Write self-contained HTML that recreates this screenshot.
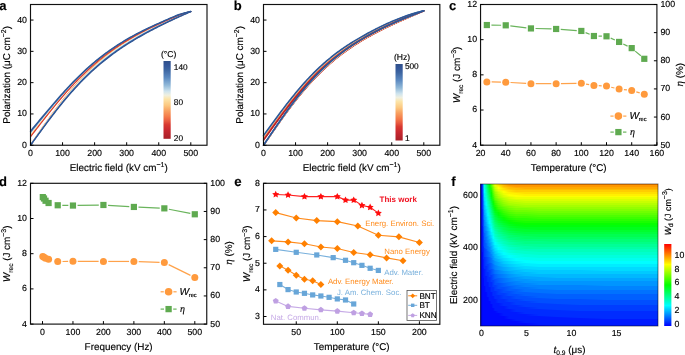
<!DOCTYPE html><html><head><meta charset="utf-8"><style>html,body{margin:0;padding:0;background:#fff;overflow:hidden}svg{display:block;font-family:"Liberation Sans",sans-serif;will-change:transform}</style></head><body><svg width="685" height="355" viewBox="0 0 685 355" font-family="Liberation Sans, sans-serif" text-rendering="geometricPrecision"><style>text{stroke-width:0.15px}</style><defs><linearGradient id="cbA" x1="0" y1="1" x2="0" y2="0"><stop offset="0" stop-color="#a82028"/><stop offset="0.11" stop-color="#c82830"/><stop offset="0.18" stop-color="#d83830"/><stop offset="0.23" stop-color="#e85a40"/><stop offset="0.28" stop-color="#f47848"/><stop offset="0.36" stop-color="#f8a060"/><stop offset="0.43" stop-color="#fcc880"/><stop offset="0.51" stop-color="#fce4a8"/><stop offset="0.56" stop-color="#f0f0e0"/><stop offset="0.61" stop-color="#cfe4ee"/><stop offset="0.69" stop-color="#90b8d8"/><stop offset="0.79" stop-color="#5a88c0"/><stop offset="0.89" stop-color="#3c64a0"/><stop offset="0.94" stop-color="#34579a"/><stop offset="1" stop-color="#2f4f8a"/></linearGradient><linearGradient id="r0" gradientUnits="userSpaceOnUse" x1="480.8" y1="0" x2="658.3" y2="0"><stop offset="0" stop-color="#0009ff"/><stop offset="0" stop-color="#002cff"/><stop offset="0.01" stop-color="#004fff"/><stop offset="0.01" stop-color="#0095ff"/><stop offset="0.02" stop-color="#00caff"/><stop offset="0.02" stop-color="#00ffdd"/><stop offset="0.03" stop-color="#00ff97"/><stop offset="0.04" stop-color="#00ff3f"/><stop offset="0.05" stop-color="#07ff00"/><stop offset="0.06" stop-color="#5fff00"/><stop offset="0.07" stop-color="#a5ff00"/><stop offset="0.08" stop-color="#ebff00"/><stop offset="0.1" stop-color="#ffdf00"/><stop offset="0.13" stop-color="#ffaa00"/><stop offset="0.16" stop-color="#ff9800"/><stop offset="0.2" stop-color="#ff8700"/><stop offset="0.25" stop-color="#ff8700"/><stop offset="0.33" stop-color="#ff8700"/><stop offset="0.43" stop-color="#ff8700"/><stop offset="0.56" stop-color="#ff8700"/><stop offset="0.71" stop-color="#ff8700"/><stop offset="1" stop-color="#ff8700"/></linearGradient><linearGradient id="r1" gradientUnits="userSpaceOnUse" x1="480.8" y1="0" x2="658.3" y2="0"><stop offset="0" stop-color="#0009ff"/><stop offset="0" stop-color="#002cff"/><stop offset="0.01" stop-color="#004fff"/><stop offset="0.01" stop-color="#0095ff"/><stop offset="0.02" stop-color="#00caff"/><stop offset="0.02" stop-color="#00ffee"/><stop offset="0.03" stop-color="#00ff97"/><stop offset="0.04" stop-color="#00ff51"/><stop offset="0.05" stop-color="#00ff0b"/><stop offset="0.06" stop-color="#4dff00"/><stop offset="0.07" stop-color="#a5ff00"/><stop offset="0.08" stop-color="#ebff00"/><stop offset="0.1" stop-color="#ffdf00"/><stop offset="0.13" stop-color="#ffbc00"/><stop offset="0.16" stop-color="#ff9800"/><stop offset="0.2" stop-color="#ff9800"/><stop offset="0.25" stop-color="#ff9800"/><stop offset="0.33" stop-color="#ff9800"/><stop offset="0.43" stop-color="#ff9800"/><stop offset="0.56" stop-color="#ff9800"/><stop offset="0.71" stop-color="#ff9800"/><stop offset="1" stop-color="#ff9800"/></linearGradient><linearGradient id="r2" gradientUnits="userSpaceOnUse" x1="480.8" y1="0" x2="658.3" y2="0"><stop offset="0" stop-color="#0009ff"/><stop offset="0" stop-color="#002cff"/><stop offset="0.01" stop-color="#004fff"/><stop offset="0.01" stop-color="#0083ff"/><stop offset="0.02" stop-color="#00caff"/><stop offset="0.02" stop-color="#00ffee"/><stop offset="0.03" stop-color="#00ffa8"/><stop offset="0.04" stop-color="#00ff51"/><stop offset="0.05" stop-color="#00ff0b"/><stop offset="0.06" stop-color="#4dff00"/><stop offset="0.07" stop-color="#93ff00"/><stop offset="0.08" stop-color="#d9ff00"/><stop offset="0.1" stop-color="#fff000"/><stop offset="0.13" stop-color="#ffbc00"/><stop offset="0.16" stop-color="#ffaa00"/><stop offset="0.2" stop-color="#ff9800"/><stop offset="0.25" stop-color="#ff9800"/><stop offset="0.33" stop-color="#ff9800"/><stop offset="0.43" stop-color="#ff9800"/><stop offset="0.56" stop-color="#ff9800"/><stop offset="0.71" stop-color="#ff9800"/><stop offset="1" stop-color="#ff9800"/></linearGradient><linearGradient id="r3" gradientUnits="userSpaceOnUse" x1="480.8" y1="0" x2="658.3" y2="0"><stop offset="0" stop-color="#0009ff"/><stop offset="0" stop-color="#001aff"/><stop offset="0.01" stop-color="#004fff"/><stop offset="0.01" stop-color="#0083ff"/><stop offset="0.02" stop-color="#00caff"/><stop offset="0.02" stop-color="#00ffee"/><stop offset="0.03" stop-color="#00ffa8"/><stop offset="0.04" stop-color="#00ff51"/><stop offset="0.05" stop-color="#00ff0b"/><stop offset="0.06" stop-color="#3cff00"/><stop offset="0.07" stop-color="#82ff00"/><stop offset="0.08" stop-color="#c8ff00"/><stop offset="0.1" stop-color="#fcff00"/><stop offset="0.13" stop-color="#ffcd00"/><stop offset="0.16" stop-color="#ffbc00"/><stop offset="0.2" stop-color="#ffaa00"/><stop offset="0.25" stop-color="#ffaa00"/><stop offset="0.33" stop-color="#ffaa00"/><stop offset="0.43" stop-color="#ffaa00"/><stop offset="0.56" stop-color="#ffaa00"/><stop offset="0.71" stop-color="#ffaa00"/><stop offset="1" stop-color="#ffaa00"/></linearGradient><linearGradient id="r4" gradientUnits="userSpaceOnUse" x1="480.8" y1="0" x2="658.3" y2="0"><stop offset="0" stop-color="#0009ff"/><stop offset="0" stop-color="#001aff"/><stop offset="0.01" stop-color="#004fff"/><stop offset="0.01" stop-color="#0083ff"/><stop offset="0.02" stop-color="#00caff"/><stop offset="0.02" stop-color="#00ffee"/><stop offset="0.03" stop-color="#00ffa8"/><stop offset="0.04" stop-color="#00ff62"/><stop offset="0.05" stop-color="#00ff1c"/><stop offset="0.06" stop-color="#2aff00"/><stop offset="0.07" stop-color="#82ff00"/><stop offset="0.08" stop-color="#c8ff00"/><stop offset="0.1" stop-color="#fcff00"/><stop offset="0.13" stop-color="#ffdf00"/><stop offset="0.16" stop-color="#ffbc00"/><stop offset="0.2" stop-color="#ffbc00"/><stop offset="0.25" stop-color="#ffaa00"/><stop offset="0.33" stop-color="#ffaa00"/><stop offset="0.43" stop-color="#ffaa00"/><stop offset="0.56" stop-color="#ffaa00"/><stop offset="0.71" stop-color="#ffaa00"/><stop offset="1" stop-color="#ffaa00"/></linearGradient><linearGradient id="r5" gradientUnits="userSpaceOnUse" x1="480.8" y1="0" x2="658.3" y2="0"><stop offset="0" stop-color="#0009ff"/><stop offset="0" stop-color="#001aff"/><stop offset="0.01" stop-color="#004fff"/><stop offset="0.01" stop-color="#0083ff"/><stop offset="0.02" stop-color="#00b8ff"/><stop offset="0.02" stop-color="#00feff"/><stop offset="0.03" stop-color="#00ffba"/><stop offset="0.04" stop-color="#00ff62"/><stop offset="0.05" stop-color="#00ff1c"/><stop offset="0.06" stop-color="#2aff00"/><stop offset="0.07" stop-color="#70ff00"/><stop offset="0.08" stop-color="#b6ff00"/><stop offset="0.1" stop-color="#ebff00"/><stop offset="0.13" stop-color="#ffdf00"/><stop offset="0.16" stop-color="#ffcd00"/><stop offset="0.2" stop-color="#ffbc00"/><stop offset="0.25" stop-color="#ffbc00"/><stop offset="0.33" stop-color="#ffbc00"/><stop offset="0.43" stop-color="#ffbc00"/><stop offset="0.56" stop-color="#ffbc00"/><stop offset="0.71" stop-color="#ffbc00"/><stop offset="1" stop-color="#ffbc00"/></linearGradient><linearGradient id="r6" gradientUnits="userSpaceOnUse" x1="480.8" y1="0" x2="658.3" y2="0"><stop offset="0" stop-color="#0009ff"/><stop offset="0" stop-color="#001aff"/><stop offset="0.01" stop-color="#004fff"/><stop offset="0.01" stop-color="#0083ff"/><stop offset="0.02" stop-color="#00b8ff"/><stop offset="0.02" stop-color="#00feff"/><stop offset="0.03" stop-color="#00ffba"/><stop offset="0.04" stop-color="#00ff74"/><stop offset="0.05" stop-color="#00ff2e"/><stop offset="0.06" stop-color="#19ff00"/><stop offset="0.07" stop-color="#70ff00"/><stop offset="0.08" stop-color="#b6ff00"/><stop offset="0.1" stop-color="#ebff00"/><stop offset="0.13" stop-color="#fff000"/><stop offset="0.16" stop-color="#ffdf00"/><stop offset="0.2" stop-color="#ffcd00"/><stop offset="0.25" stop-color="#ffcd00"/><stop offset="0.33" stop-color="#ffcd00"/><stop offset="0.43" stop-color="#ffcd00"/><stop offset="0.56" stop-color="#ffcd00"/><stop offset="0.71" stop-color="#ffcd00"/><stop offset="1" stop-color="#ffcd00"/></linearGradient><linearGradient id="r7" gradientUnits="userSpaceOnUse" x1="480.8" y1="0" x2="658.3" y2="0"><stop offset="0" stop-color="#0009ff"/><stop offset="0" stop-color="#001aff"/><stop offset="0.01" stop-color="#004fff"/><stop offset="0.01" stop-color="#0083ff"/><stop offset="0.02" stop-color="#00b8ff"/><stop offset="0.02" stop-color="#00feff"/><stop offset="0.03" stop-color="#00ffba"/><stop offset="0.04" stop-color="#00ff74"/><stop offset="0.05" stop-color="#00ff2e"/><stop offset="0.06" stop-color="#19ff00"/><stop offset="0.07" stop-color="#5fff00"/><stop offset="0.08" stop-color="#a5ff00"/><stop offset="0.1" stop-color="#d9ff00"/><stop offset="0.13" stop-color="#fcff00"/><stop offset="0.16" stop-color="#ffdf00"/><stop offset="0.2" stop-color="#ffcd00"/><stop offset="0.25" stop-color="#ffcd00"/><stop offset="0.33" stop-color="#ffcd00"/><stop offset="0.43" stop-color="#ffcd00"/><stop offset="0.56" stop-color="#ffcd00"/><stop offset="0.71" stop-color="#ffcd00"/><stop offset="1" stop-color="#ffcd00"/></linearGradient><linearGradient id="r8" gradientUnits="userSpaceOnUse" x1="480.8" y1="0" x2="658.3" y2="0"><stop offset="0" stop-color="#0009ff"/><stop offset="0" stop-color="#001aff"/><stop offset="0.01" stop-color="#004fff"/><stop offset="0.01" stop-color="#0083ff"/><stop offset="0.02" stop-color="#00b8ff"/><stop offset="0.02" stop-color="#00feff"/><stop offset="0.03" stop-color="#00ffcb"/><stop offset="0.04" stop-color="#00ff74"/><stop offset="0.05" stop-color="#00ff3f"/><stop offset="0.06" stop-color="#07ff00"/><stop offset="0.07" stop-color="#5fff00"/><stop offset="0.08" stop-color="#93ff00"/><stop offset="0.1" stop-color="#c8ff00"/><stop offset="0.13" stop-color="#fcff00"/><stop offset="0.16" stop-color="#fff000"/><stop offset="0.2" stop-color="#ffdf00"/><stop offset="0.25" stop-color="#ffdf00"/><stop offset="0.33" stop-color="#ffdf00"/><stop offset="0.43" stop-color="#ffdf00"/><stop offset="0.56" stop-color="#ffdf00"/><stop offset="0.71" stop-color="#ffdf00"/><stop offset="1" stop-color="#ffdf00"/></linearGradient><linearGradient id="r9" gradientUnits="userSpaceOnUse" x1="480.8" y1="0" x2="658.3" y2="0"><stop offset="0" stop-color="#0009ff"/><stop offset="0" stop-color="#001aff"/><stop offset="0.01" stop-color="#004fff"/><stop offset="0.01" stop-color="#0072ff"/><stop offset="0.02" stop-color="#00b8ff"/><stop offset="0.02" stop-color="#00edff"/><stop offset="0.03" stop-color="#00ffcb"/><stop offset="0.04" stop-color="#00ff85"/><stop offset="0.05" stop-color="#00ff3f"/><stop offset="0.06" stop-color="#07ff00"/><stop offset="0.07" stop-color="#4dff00"/><stop offset="0.08" stop-color="#93ff00"/><stop offset="0.1" stop-color="#c8ff00"/><stop offset="0.13" stop-color="#ebff00"/><stop offset="0.16" stop-color="#fff000"/><stop offset="0.2" stop-color="#fff000"/><stop offset="0.25" stop-color="#ffdf00"/><stop offset="0.33" stop-color="#ffdf00"/><stop offset="0.43" stop-color="#ffdf00"/><stop offset="0.56" stop-color="#ffdf00"/><stop offset="0.71" stop-color="#ffdf00"/><stop offset="1" stop-color="#ffdf00"/></linearGradient><linearGradient id="r10" gradientUnits="userSpaceOnUse" x1="480.8" y1="0" x2="658.3" y2="0"><stop offset="0" stop-color="#0009ff"/><stop offset="0" stop-color="#001aff"/><stop offset="0.01" stop-color="#004fff"/><stop offset="0.01" stop-color="#0072ff"/><stop offset="0.02" stop-color="#00a6ff"/><stop offset="0.02" stop-color="#00edff"/><stop offset="0.03" stop-color="#00ffcb"/><stop offset="0.04" stop-color="#00ff85"/><stop offset="0.05" stop-color="#00ff51"/><stop offset="0.06" stop-color="#00ff0b"/><stop offset="0.07" stop-color="#4dff00"/><stop offset="0.08" stop-color="#82ff00"/><stop offset="0.1" stop-color="#b6ff00"/><stop offset="0.13" stop-color="#ebff00"/><stop offset="0.16" stop-color="#fcff00"/><stop offset="0.2" stop-color="#fff000"/><stop offset="0.25" stop-color="#fff000"/><stop offset="0.33" stop-color="#fff000"/><stop offset="0.43" stop-color="#fff000"/><stop offset="0.56" stop-color="#fff000"/><stop offset="0.71" stop-color="#fff000"/><stop offset="1" stop-color="#fff000"/></linearGradient><linearGradient id="r11" gradientUnits="userSpaceOnUse" x1="480.8" y1="0" x2="658.3" y2="0"><stop offset="0" stop-color="#0009ff"/><stop offset="0" stop-color="#001aff"/><stop offset="0.01" stop-color="#003dff"/><stop offset="0.01" stop-color="#0072ff"/><stop offset="0.02" stop-color="#00a6ff"/><stop offset="0.02" stop-color="#00edff"/><stop offset="0.03" stop-color="#00ffcb"/><stop offset="0.04" stop-color="#00ff97"/><stop offset="0.05" stop-color="#00ff51"/><stop offset="0.06" stop-color="#00ff0b"/><stop offset="0.07" stop-color="#3cff00"/><stop offset="0.08" stop-color="#82ff00"/><stop offset="0.1" stop-color="#b6ff00"/><stop offset="0.13" stop-color="#d9ff00"/><stop offset="0.16" stop-color="#fcff00"/><stop offset="0.2" stop-color="#fcff00"/><stop offset="0.25" stop-color="#fff000"/><stop offset="0.33" stop-color="#fff000"/><stop offset="0.43" stop-color="#fff000"/><stop offset="0.56" stop-color="#fff000"/><stop offset="0.71" stop-color="#fff000"/><stop offset="1" stop-color="#fff000"/></linearGradient><linearGradient id="r12" gradientUnits="userSpaceOnUse" x1="480.8" y1="0" x2="658.3" y2="0"><stop offset="0" stop-color="#0009ff"/><stop offset="0" stop-color="#001aff"/><stop offset="0.01" stop-color="#003dff"/><stop offset="0.01" stop-color="#0072ff"/><stop offset="0.02" stop-color="#00a6ff"/><stop offset="0.02" stop-color="#00edff"/><stop offset="0.03" stop-color="#00ffdd"/><stop offset="0.04" stop-color="#00ff97"/><stop offset="0.05" stop-color="#00ff51"/><stop offset="0.06" stop-color="#00ff0b"/><stop offset="0.07" stop-color="#3cff00"/><stop offset="0.08" stop-color="#70ff00"/><stop offset="0.1" stop-color="#a5ff00"/><stop offset="0.13" stop-color="#d9ff00"/><stop offset="0.16" stop-color="#ebff00"/><stop offset="0.2" stop-color="#fcff00"/><stop offset="0.25" stop-color="#fcff00"/><stop offset="0.33" stop-color="#fcff00"/><stop offset="0.43" stop-color="#fcff00"/><stop offset="0.56" stop-color="#fcff00"/><stop offset="0.71" stop-color="#fcff00"/><stop offset="1" stop-color="#fcff00"/></linearGradient><linearGradient id="r13" gradientUnits="userSpaceOnUse" x1="480.8" y1="0" x2="658.3" y2="0"><stop offset="0" stop-color="#0009ff"/><stop offset="0" stop-color="#001aff"/><stop offset="0.01" stop-color="#003dff"/><stop offset="0.01" stop-color="#0072ff"/><stop offset="0.02" stop-color="#00a6ff"/><stop offset="0.02" stop-color="#00dbff"/><stop offset="0.03" stop-color="#00ffdd"/><stop offset="0.04" stop-color="#00ff97"/><stop offset="0.05" stop-color="#00ff62"/><stop offset="0.06" stop-color="#00ff1c"/><stop offset="0.07" stop-color="#2aff00"/><stop offset="0.08" stop-color="#70ff00"/><stop offset="0.1" stop-color="#a5ff00"/><stop offset="0.13" stop-color="#c8ff00"/><stop offset="0.16" stop-color="#d9ff00"/><stop offset="0.2" stop-color="#ebff00"/><stop offset="0.25" stop-color="#ebff00"/><stop offset="0.33" stop-color="#ebff00"/><stop offset="0.43" stop-color="#ebff00"/><stop offset="0.56" stop-color="#ebff00"/><stop offset="0.71" stop-color="#ebff00"/><stop offset="1" stop-color="#ebff00"/></linearGradient><linearGradient id="r14" gradientUnits="userSpaceOnUse" x1="480.8" y1="0" x2="658.3" y2="0"><stop offset="0" stop-color="#0009ff"/><stop offset="0" stop-color="#001aff"/><stop offset="0.01" stop-color="#003dff"/><stop offset="0.01" stop-color="#0072ff"/><stop offset="0.02" stop-color="#00a6ff"/><stop offset="0.02" stop-color="#00dbff"/><stop offset="0.03" stop-color="#00ffdd"/><stop offset="0.04" stop-color="#00ffa8"/><stop offset="0.05" stop-color="#00ff62"/><stop offset="0.06" stop-color="#00ff1c"/><stop offset="0.07" stop-color="#2aff00"/><stop offset="0.08" stop-color="#5fff00"/><stop offset="0.1" stop-color="#93ff00"/><stop offset="0.13" stop-color="#b6ff00"/><stop offset="0.16" stop-color="#d9ff00"/><stop offset="0.2" stop-color="#ebff00"/><stop offset="0.25" stop-color="#ebff00"/><stop offset="0.33" stop-color="#ebff00"/><stop offset="0.43" stop-color="#ebff00"/><stop offset="0.56" stop-color="#ebff00"/><stop offset="0.71" stop-color="#ebff00"/><stop offset="1" stop-color="#ebff00"/></linearGradient><linearGradient id="r15" gradientUnits="userSpaceOnUse" x1="480.8" y1="0" x2="658.3" y2="0"><stop offset="0" stop-color="#0009ff"/><stop offset="0" stop-color="#001aff"/><stop offset="0.01" stop-color="#003dff"/><stop offset="0.01" stop-color="#0072ff"/><stop offset="0.02" stop-color="#0095ff"/><stop offset="0.02" stop-color="#00dbff"/><stop offset="0.03" stop-color="#00ffee"/><stop offset="0.04" stop-color="#00ffa8"/><stop offset="0.05" stop-color="#00ff74"/><stop offset="0.06" stop-color="#00ff2e"/><stop offset="0.07" stop-color="#19ff00"/><stop offset="0.08" stop-color="#5fff00"/><stop offset="0.1" stop-color="#82ff00"/><stop offset="0.13" stop-color="#b6ff00"/><stop offset="0.16" stop-color="#c8ff00"/><stop offset="0.2" stop-color="#d9ff00"/><stop offset="0.25" stop-color="#d9ff00"/><stop offset="0.33" stop-color="#d9ff00"/><stop offset="0.43" stop-color="#d9ff00"/><stop offset="0.56" stop-color="#d9ff00"/><stop offset="0.71" stop-color="#d9ff00"/><stop offset="1" stop-color="#d9ff00"/></linearGradient><linearGradient id="r16" gradientUnits="userSpaceOnUse" x1="480.8" y1="0" x2="658.3" y2="0"><stop offset="0" stop-color="#0009ff"/><stop offset="0" stop-color="#001aff"/><stop offset="0.01" stop-color="#003dff"/><stop offset="0.01" stop-color="#0072ff"/><stop offset="0.02" stop-color="#0095ff"/><stop offset="0.02" stop-color="#00dbff"/><stop offset="0.03" stop-color="#00ffee"/><stop offset="0.04" stop-color="#00ffa8"/><stop offset="0.05" stop-color="#00ff74"/><stop offset="0.06" stop-color="#00ff2e"/><stop offset="0.07" stop-color="#19ff00"/><stop offset="0.08" stop-color="#4dff00"/><stop offset="0.1" stop-color="#82ff00"/><stop offset="0.13" stop-color="#a5ff00"/><stop offset="0.16" stop-color="#c8ff00"/><stop offset="0.2" stop-color="#c8ff00"/><stop offset="0.25" stop-color="#d9ff00"/><stop offset="0.33" stop-color="#d9ff00"/><stop offset="0.43" stop-color="#d9ff00"/><stop offset="0.56" stop-color="#d9ff00"/><stop offset="0.71" stop-color="#d9ff00"/><stop offset="1" stop-color="#d9ff00"/></linearGradient><linearGradient id="r17" gradientUnits="userSpaceOnUse" x1="480.8" y1="0" x2="658.3" y2="0"><stop offset="0" stop-color="#0009ff"/><stop offset="0" stop-color="#001aff"/><stop offset="0.01" stop-color="#003dff"/><stop offset="0.01" stop-color="#0060ff"/><stop offset="0.02" stop-color="#0095ff"/><stop offset="0.02" stop-color="#00caff"/><stop offset="0.03" stop-color="#00ffee"/><stop offset="0.04" stop-color="#00ffba"/><stop offset="0.05" stop-color="#00ff85"/><stop offset="0.06" stop-color="#00ff3f"/><stop offset="0.07" stop-color="#07ff00"/><stop offset="0.08" stop-color="#3cff00"/><stop offset="0.1" stop-color="#70ff00"/><stop offset="0.13" stop-color="#a5ff00"/><stop offset="0.16" stop-color="#b6ff00"/><stop offset="0.2" stop-color="#c8ff00"/><stop offset="0.25" stop-color="#c8ff00"/><stop offset="0.33" stop-color="#c8ff00"/><stop offset="0.43" stop-color="#c8ff00"/><stop offset="0.56" stop-color="#c8ff00"/><stop offset="0.71" stop-color="#c8ff00"/><stop offset="1" stop-color="#c8ff00"/></linearGradient><linearGradient id="r18" gradientUnits="userSpaceOnUse" x1="480.8" y1="0" x2="658.3" y2="0"><stop offset="0" stop-color="#0009ff"/><stop offset="0" stop-color="#001aff"/><stop offset="0.01" stop-color="#003dff"/><stop offset="0.01" stop-color="#0060ff"/><stop offset="0.02" stop-color="#0095ff"/><stop offset="0.02" stop-color="#00caff"/><stop offset="0.03" stop-color="#00feff"/><stop offset="0.04" stop-color="#00ffba"/><stop offset="0.05" stop-color="#00ff85"/><stop offset="0.06" stop-color="#00ff3f"/><stop offset="0.07" stop-color="#07ff00"/><stop offset="0.08" stop-color="#3cff00"/><stop offset="0.1" stop-color="#70ff00"/><stop offset="0.13" stop-color="#93ff00"/><stop offset="0.16" stop-color="#b6ff00"/><stop offset="0.2" stop-color="#b6ff00"/><stop offset="0.25" stop-color="#c8ff00"/><stop offset="0.33" stop-color="#c8ff00"/><stop offset="0.43" stop-color="#c8ff00"/><stop offset="0.56" stop-color="#c8ff00"/><stop offset="0.71" stop-color="#c8ff00"/><stop offset="1" stop-color="#c8ff00"/></linearGradient><linearGradient id="r19" gradientUnits="userSpaceOnUse" x1="480.8" y1="0" x2="658.3" y2="0"><stop offset="0" stop-color="#0009ff"/><stop offset="0" stop-color="#001aff"/><stop offset="0.01" stop-color="#003dff"/><stop offset="0.01" stop-color="#0060ff"/><stop offset="0.02" stop-color="#0095ff"/><stop offset="0.02" stop-color="#00caff"/><stop offset="0.03" stop-color="#00feff"/><stop offset="0.04" stop-color="#00ffba"/><stop offset="0.05" stop-color="#00ff85"/><stop offset="0.06" stop-color="#00ff51"/><stop offset="0.07" stop-color="#00ff0b"/><stop offset="0.08" stop-color="#2aff00"/><stop offset="0.1" stop-color="#5fff00"/><stop offset="0.13" stop-color="#93ff00"/><stop offset="0.16" stop-color="#a5ff00"/><stop offset="0.2" stop-color="#b6ff00"/><stop offset="0.25" stop-color="#b6ff00"/><stop offset="0.33" stop-color="#b6ff00"/><stop offset="0.43" stop-color="#b6ff00"/><stop offset="0.56" stop-color="#b6ff00"/><stop offset="0.71" stop-color="#b6ff00"/><stop offset="1" stop-color="#b6ff00"/></linearGradient><linearGradient id="r20" gradientUnits="userSpaceOnUse" x1="480.8" y1="0" x2="658.3" y2="0"><stop offset="0" stop-color="#0009ff"/><stop offset="0" stop-color="#001aff"/><stop offset="0.01" stop-color="#003dff"/><stop offset="0.01" stop-color="#0060ff"/><stop offset="0.02" stop-color="#0095ff"/><stop offset="0.02" stop-color="#00caff"/><stop offset="0.03" stop-color="#00feff"/><stop offset="0.04" stop-color="#00ffcb"/><stop offset="0.05" stop-color="#00ff97"/><stop offset="0.06" stop-color="#00ff51"/><stop offset="0.07" stop-color="#00ff0b"/><stop offset="0.08" stop-color="#2aff00"/><stop offset="0.1" stop-color="#5fff00"/><stop offset="0.13" stop-color="#82ff00"/><stop offset="0.16" stop-color="#a5ff00"/><stop offset="0.2" stop-color="#a5ff00"/><stop offset="0.25" stop-color="#b6ff00"/><stop offset="0.33" stop-color="#b6ff00"/><stop offset="0.43" stop-color="#b6ff00"/><stop offset="0.56" stop-color="#b6ff00"/><stop offset="0.71" stop-color="#b6ff00"/><stop offset="1" stop-color="#b6ff00"/></linearGradient><linearGradient id="r21" gradientUnits="userSpaceOnUse" x1="480.8" y1="0" x2="658.3" y2="0"><stop offset="0" stop-color="#0009ff"/><stop offset="0" stop-color="#001aff"/><stop offset="0.01" stop-color="#003dff"/><stop offset="0.01" stop-color="#0060ff"/><stop offset="0.02" stop-color="#0083ff"/><stop offset="0.02" stop-color="#00b8ff"/><stop offset="0.03" stop-color="#00feff"/><stop offset="0.04" stop-color="#00ffcb"/><stop offset="0.05" stop-color="#00ff97"/><stop offset="0.06" stop-color="#00ff62"/><stop offset="0.07" stop-color="#00ff1c"/><stop offset="0.08" stop-color="#19ff00"/><stop offset="0.1" stop-color="#4dff00"/><stop offset="0.13" stop-color="#82ff00"/><stop offset="0.16" stop-color="#93ff00"/><stop offset="0.2" stop-color="#a5ff00"/><stop offset="0.25" stop-color="#a5ff00"/><stop offset="0.33" stop-color="#a5ff00"/><stop offset="0.43" stop-color="#a5ff00"/><stop offset="0.56" stop-color="#a5ff00"/><stop offset="0.71" stop-color="#a5ff00"/><stop offset="1" stop-color="#a5ff00"/></linearGradient><linearGradient id="r22" gradientUnits="userSpaceOnUse" x1="480.8" y1="0" x2="658.3" y2="0"><stop offset="0" stop-color="#0009ff"/><stop offset="0" stop-color="#001aff"/><stop offset="0.01" stop-color="#003dff"/><stop offset="0.01" stop-color="#0060ff"/><stop offset="0.02" stop-color="#0083ff"/><stop offset="0.02" stop-color="#00b8ff"/><stop offset="0.03" stop-color="#00edff"/><stop offset="0.04" stop-color="#00ffcb"/><stop offset="0.05" stop-color="#00ff97"/><stop offset="0.06" stop-color="#00ff62"/><stop offset="0.07" stop-color="#00ff1c"/><stop offset="0.08" stop-color="#19ff00"/><stop offset="0.1" stop-color="#4dff00"/><stop offset="0.13" stop-color="#70ff00"/><stop offset="0.16" stop-color="#82ff00"/><stop offset="0.2" stop-color="#93ff00"/><stop offset="0.25" stop-color="#a5ff00"/><stop offset="0.33" stop-color="#a5ff00"/><stop offset="0.43" stop-color="#a5ff00"/><stop offset="0.56" stop-color="#a5ff00"/><stop offset="0.71" stop-color="#a5ff00"/><stop offset="1" stop-color="#a5ff00"/></linearGradient><linearGradient id="r23" gradientUnits="userSpaceOnUse" x1="480.8" y1="0" x2="658.3" y2="0"><stop offset="0" stop-color="#0009ff"/><stop offset="0" stop-color="#001aff"/><stop offset="0.01" stop-color="#003dff"/><stop offset="0.01" stop-color="#0060ff"/><stop offset="0.02" stop-color="#0083ff"/><stop offset="0.02" stop-color="#00b8ff"/><stop offset="0.03" stop-color="#00edff"/><stop offset="0.04" stop-color="#00ffdd"/><stop offset="0.05" stop-color="#00ffa8"/><stop offset="0.06" stop-color="#00ff62"/><stop offset="0.07" stop-color="#00ff2e"/><stop offset="0.08" stop-color="#07ff00"/><stop offset="0.1" stop-color="#3cff00"/><stop offset="0.13" stop-color="#5fff00"/><stop offset="0.16" stop-color="#82ff00"/><stop offset="0.2" stop-color="#93ff00"/><stop offset="0.25" stop-color="#93ff00"/><stop offset="0.33" stop-color="#93ff00"/><stop offset="0.43" stop-color="#93ff00"/><stop offset="0.56" stop-color="#93ff00"/><stop offset="0.71" stop-color="#93ff00"/><stop offset="1" stop-color="#93ff00"/></linearGradient><linearGradient id="r24" gradientUnits="userSpaceOnUse" x1="480.8" y1="0" x2="658.3" y2="0"><stop offset="0" stop-color="#0009ff"/><stop offset="0" stop-color="#001aff"/><stop offset="0.01" stop-color="#003dff"/><stop offset="0.01" stop-color="#0060ff"/><stop offset="0.02" stop-color="#0083ff"/><stop offset="0.02" stop-color="#00b8ff"/><stop offset="0.03" stop-color="#00edff"/><stop offset="0.04" stop-color="#00ffdd"/><stop offset="0.05" stop-color="#00ffa8"/><stop offset="0.06" stop-color="#00ff74"/><stop offset="0.07" stop-color="#00ff2e"/><stop offset="0.08" stop-color="#07ff00"/><stop offset="0.1" stop-color="#3cff00"/><stop offset="0.13" stop-color="#5fff00"/><stop offset="0.16" stop-color="#70ff00"/><stop offset="0.2" stop-color="#82ff00"/><stop offset="0.25" stop-color="#82ff00"/><stop offset="0.33" stop-color="#93ff00"/><stop offset="0.43" stop-color="#93ff00"/><stop offset="0.56" stop-color="#93ff00"/><stop offset="0.71" stop-color="#93ff00"/><stop offset="1" stop-color="#93ff00"/></linearGradient><linearGradient id="r25" gradientUnits="userSpaceOnUse" x1="480.8" y1="0" x2="658.3" y2="0"><stop offset="0" stop-color="#0009ff"/><stop offset="0" stop-color="#001aff"/><stop offset="0.01" stop-color="#002cff"/><stop offset="0.01" stop-color="#004fff"/><stop offset="0.02" stop-color="#0083ff"/><stop offset="0.02" stop-color="#00b8ff"/><stop offset="0.03" stop-color="#00dbff"/><stop offset="0.04" stop-color="#00ffdd"/><stop offset="0.05" stop-color="#00ffba"/><stop offset="0.06" stop-color="#00ff74"/><stop offset="0.07" stop-color="#00ff3f"/><stop offset="0.08" stop-color="#00ff0b"/><stop offset="0.1" stop-color="#2aff00"/><stop offset="0.13" stop-color="#4dff00"/><stop offset="0.16" stop-color="#70ff00"/><stop offset="0.2" stop-color="#82ff00"/><stop offset="0.25" stop-color="#82ff00"/><stop offset="0.33" stop-color="#82ff00"/><stop offset="0.43" stop-color="#82ff00"/><stop offset="0.56" stop-color="#82ff00"/><stop offset="0.71" stop-color="#82ff00"/><stop offset="1" stop-color="#82ff00"/></linearGradient><linearGradient id="r26" gradientUnits="userSpaceOnUse" x1="480.8" y1="0" x2="658.3" y2="0"><stop offset="0" stop-color="#0009ff"/><stop offset="0" stop-color="#001aff"/><stop offset="0.01" stop-color="#002cff"/><stop offset="0.01" stop-color="#004fff"/><stop offset="0.02" stop-color="#0083ff"/><stop offset="0.02" stop-color="#00a6ff"/><stop offset="0.03" stop-color="#00dbff"/><stop offset="0.04" stop-color="#00ffee"/><stop offset="0.05" stop-color="#00ffba"/><stop offset="0.06" stop-color="#00ff85"/><stop offset="0.07" stop-color="#00ff3f"/><stop offset="0.08" stop-color="#00ff0b"/><stop offset="0.1" stop-color="#19ff00"/><stop offset="0.13" stop-color="#4dff00"/><stop offset="0.16" stop-color="#5fff00"/><stop offset="0.2" stop-color="#70ff00"/><stop offset="0.25" stop-color="#70ff00"/><stop offset="0.33" stop-color="#82ff00"/><stop offset="0.43" stop-color="#82ff00"/><stop offset="0.56" stop-color="#82ff00"/><stop offset="0.71" stop-color="#82ff00"/><stop offset="1" stop-color="#82ff00"/></linearGradient><linearGradient id="r27" gradientUnits="userSpaceOnUse" x1="480.8" y1="0" x2="658.3" y2="0"><stop offset="0" stop-color="#0009ff"/><stop offset="0" stop-color="#001aff"/><stop offset="0.01" stop-color="#002cff"/><stop offset="0.01" stop-color="#004fff"/><stop offset="0.02" stop-color="#0083ff"/><stop offset="0.02" stop-color="#00a6ff"/><stop offset="0.03" stop-color="#00dbff"/><stop offset="0.04" stop-color="#00ffee"/><stop offset="0.05" stop-color="#00ffba"/><stop offset="0.06" stop-color="#00ff85"/><stop offset="0.07" stop-color="#00ff51"/><stop offset="0.08" stop-color="#00ff1c"/><stop offset="0.1" stop-color="#19ff00"/><stop offset="0.13" stop-color="#3cff00"/><stop offset="0.16" stop-color="#5fff00"/><stop offset="0.2" stop-color="#70ff00"/><stop offset="0.25" stop-color="#70ff00"/><stop offset="0.33" stop-color="#70ff00"/><stop offset="0.43" stop-color="#70ff00"/><stop offset="0.56" stop-color="#70ff00"/><stop offset="0.71" stop-color="#70ff00"/><stop offset="1" stop-color="#70ff00"/></linearGradient><linearGradient id="r28" gradientUnits="userSpaceOnUse" x1="480.8" y1="0" x2="658.3" y2="0"><stop offset="0" stop-color="#0009ff"/><stop offset="0" stop-color="#001aff"/><stop offset="0.01" stop-color="#002cff"/><stop offset="0.01" stop-color="#004fff"/><stop offset="0.02" stop-color="#0072ff"/><stop offset="0.02" stop-color="#00a6ff"/><stop offset="0.03" stop-color="#00dbff"/><stop offset="0.04" stop-color="#00ffee"/><stop offset="0.05" stop-color="#00ffcb"/><stop offset="0.06" stop-color="#00ff85"/><stop offset="0.07" stop-color="#00ff51"/><stop offset="0.08" stop-color="#00ff1c"/><stop offset="0.1" stop-color="#07ff00"/><stop offset="0.13" stop-color="#3cff00"/><stop offset="0.16" stop-color="#4dff00"/><stop offset="0.2" stop-color="#5fff00"/><stop offset="0.25" stop-color="#5fff00"/><stop offset="0.33" stop-color="#70ff00"/><stop offset="0.43" stop-color="#70ff00"/><stop offset="0.56" stop-color="#70ff00"/><stop offset="0.71" stop-color="#70ff00"/><stop offset="1" stop-color="#70ff00"/></linearGradient><linearGradient id="r29" gradientUnits="userSpaceOnUse" x1="480.8" y1="0" x2="658.3" y2="0"><stop offset="0" stop-color="#0009ff"/><stop offset="0" stop-color="#001aff"/><stop offset="0.01" stop-color="#002cff"/><stop offset="0.01" stop-color="#004fff"/><stop offset="0.02" stop-color="#0072ff"/><stop offset="0.02" stop-color="#00a6ff"/><stop offset="0.03" stop-color="#00caff"/><stop offset="0.04" stop-color="#00feff"/><stop offset="0.05" stop-color="#00ffcb"/><stop offset="0.06" stop-color="#00ff97"/><stop offset="0.07" stop-color="#00ff62"/><stop offset="0.08" stop-color="#00ff2e"/><stop offset="0.1" stop-color="#07ff00"/><stop offset="0.13" stop-color="#2aff00"/><stop offset="0.16" stop-color="#4dff00"/><stop offset="0.2" stop-color="#5fff00"/><stop offset="0.25" stop-color="#5fff00"/><stop offset="0.33" stop-color="#5fff00"/><stop offset="0.43" stop-color="#5fff00"/><stop offset="0.56" stop-color="#5fff00"/><stop offset="0.71" stop-color="#5fff00"/><stop offset="1" stop-color="#5fff00"/></linearGradient><linearGradient id="r30" gradientUnits="userSpaceOnUse" x1="480.8" y1="0" x2="658.3" y2="0"><stop offset="0" stop-color="#0009ff"/><stop offset="0" stop-color="#001aff"/><stop offset="0.01" stop-color="#002cff"/><stop offset="0.01" stop-color="#004fff"/><stop offset="0.02" stop-color="#0072ff"/><stop offset="0.02" stop-color="#00a6ff"/><stop offset="0.03" stop-color="#00caff"/><stop offset="0.04" stop-color="#00feff"/><stop offset="0.05" stop-color="#00ffcb"/><stop offset="0.06" stop-color="#00ff97"/><stop offset="0.07" stop-color="#00ff62"/><stop offset="0.08" stop-color="#00ff2e"/><stop offset="0.1" stop-color="#00ff0b"/><stop offset="0.13" stop-color="#2aff00"/><stop offset="0.16" stop-color="#3cff00"/><stop offset="0.2" stop-color="#4dff00"/><stop offset="0.25" stop-color="#4dff00"/><stop offset="0.33" stop-color="#5fff00"/><stop offset="0.43" stop-color="#5fff00"/><stop offset="0.56" stop-color="#5fff00"/><stop offset="0.71" stop-color="#5fff00"/><stop offset="1" stop-color="#5fff00"/></linearGradient><linearGradient id="r31" gradientUnits="userSpaceOnUse" x1="480.8" y1="0" x2="658.3" y2="0"><stop offset="0" stop-color="#0009ff"/><stop offset="0" stop-color="#001aff"/><stop offset="0.01" stop-color="#002cff"/><stop offset="0.01" stop-color="#004fff"/><stop offset="0.02" stop-color="#0072ff"/><stop offset="0.02" stop-color="#0095ff"/><stop offset="0.03" stop-color="#00caff"/><stop offset="0.04" stop-color="#00feff"/><stop offset="0.05" stop-color="#00ffdd"/><stop offset="0.06" stop-color="#00ffa8"/><stop offset="0.07" stop-color="#00ff74"/><stop offset="0.08" stop-color="#00ff3f"/><stop offset="0.1" stop-color="#00ff0b"/><stop offset="0.13" stop-color="#19ff00"/><stop offset="0.16" stop-color="#3cff00"/><stop offset="0.2" stop-color="#4dff00"/><stop offset="0.25" stop-color="#4dff00"/><stop offset="0.33" stop-color="#4dff00"/><stop offset="0.43" stop-color="#4dff00"/><stop offset="0.56" stop-color="#4dff00"/><stop offset="0.71" stop-color="#4dff00"/><stop offset="1" stop-color="#4dff00"/></linearGradient><linearGradient id="r32" gradientUnits="userSpaceOnUse" x1="480.8" y1="0" x2="658.3" y2="0"><stop offset="0" stop-color="#0009ff"/><stop offset="0" stop-color="#001aff"/><stop offset="0.01" stop-color="#002cff"/><stop offset="0.01" stop-color="#004fff"/><stop offset="0.02" stop-color="#0072ff"/><stop offset="0.02" stop-color="#0095ff"/><stop offset="0.03" stop-color="#00caff"/><stop offset="0.04" stop-color="#00edff"/><stop offset="0.05" stop-color="#00ffdd"/><stop offset="0.06" stop-color="#00ffa8"/><stop offset="0.07" stop-color="#00ff74"/><stop offset="0.08" stop-color="#00ff3f"/><stop offset="0.1" stop-color="#00ff1c"/><stop offset="0.13" stop-color="#19ff00"/><stop offset="0.16" stop-color="#2aff00"/><stop offset="0.2" stop-color="#3cff00"/><stop offset="0.25" stop-color="#3cff00"/><stop offset="0.33" stop-color="#4dff00"/><stop offset="0.43" stop-color="#4dff00"/><stop offset="0.56" stop-color="#4dff00"/><stop offset="0.71" stop-color="#4dff00"/><stop offset="1" stop-color="#4dff00"/></linearGradient><linearGradient id="r33" gradientUnits="userSpaceOnUse" x1="480.8" y1="0" x2="658.3" y2="0"><stop offset="0" stop-color="#0009ff"/><stop offset="0" stop-color="#001aff"/><stop offset="0.01" stop-color="#002cff"/><stop offset="0.01" stop-color="#004fff"/><stop offset="0.02" stop-color="#0072ff"/><stop offset="0.02" stop-color="#0095ff"/><stop offset="0.03" stop-color="#00b8ff"/><stop offset="0.04" stop-color="#00edff"/><stop offset="0.05" stop-color="#00ffdd"/><stop offset="0.06" stop-color="#00ffa8"/><stop offset="0.07" stop-color="#00ff74"/><stop offset="0.08" stop-color="#00ff51"/><stop offset="0.1" stop-color="#00ff1c"/><stop offset="0.13" stop-color="#07ff00"/><stop offset="0.16" stop-color="#2aff00"/><stop offset="0.2" stop-color="#3cff00"/><stop offset="0.25" stop-color="#3cff00"/><stop offset="0.33" stop-color="#3cff00"/><stop offset="0.43" stop-color="#3cff00"/><stop offset="0.56" stop-color="#3cff00"/><stop offset="0.71" stop-color="#3cff00"/><stop offset="1" stop-color="#3cff00"/></linearGradient><linearGradient id="r34" gradientUnits="userSpaceOnUse" x1="480.8" y1="0" x2="658.3" y2="0"><stop offset="0" stop-color="#0009ff"/><stop offset="0" stop-color="#001aff"/><stop offset="0.01" stop-color="#002cff"/><stop offset="0.01" stop-color="#004fff"/><stop offset="0.02" stop-color="#0072ff"/><stop offset="0.02" stop-color="#0095ff"/><stop offset="0.03" stop-color="#00b8ff"/><stop offset="0.04" stop-color="#00edff"/><stop offset="0.05" stop-color="#00ffee"/><stop offset="0.06" stop-color="#00ffba"/><stop offset="0.07" stop-color="#00ff85"/><stop offset="0.08" stop-color="#00ff51"/><stop offset="0.1" stop-color="#00ff2e"/><stop offset="0.13" stop-color="#07ff00"/><stop offset="0.16" stop-color="#19ff00"/><stop offset="0.2" stop-color="#2aff00"/><stop offset="0.25" stop-color="#2aff00"/><stop offset="0.33" stop-color="#3cff00"/><stop offset="0.43" stop-color="#3cff00"/><stop offset="0.56" stop-color="#3cff00"/><stop offset="0.71" stop-color="#3cff00"/><stop offset="1" stop-color="#3cff00"/></linearGradient><linearGradient id="r35" gradientUnits="userSpaceOnUse" x1="480.8" y1="0" x2="658.3" y2="0"><stop offset="0" stop-color="#0009ff"/><stop offset="0" stop-color="#001aff"/><stop offset="0.01" stop-color="#002cff"/><stop offset="0.01" stop-color="#004fff"/><stop offset="0.02" stop-color="#0060ff"/><stop offset="0.02" stop-color="#0095ff"/><stop offset="0.03" stop-color="#00b8ff"/><stop offset="0.04" stop-color="#00edff"/><stop offset="0.05" stop-color="#00ffee"/><stop offset="0.06" stop-color="#00ffba"/><stop offset="0.07" stop-color="#00ff85"/><stop offset="0.08" stop-color="#00ff51"/><stop offset="0.1" stop-color="#00ff2e"/><stop offset="0.13" stop-color="#00ff0b"/><stop offset="0.16" stop-color="#19ff00"/><stop offset="0.2" stop-color="#2aff00"/><stop offset="0.25" stop-color="#2aff00"/><stop offset="0.33" stop-color="#2aff00"/><stop offset="0.43" stop-color="#2aff00"/><stop offset="0.56" stop-color="#2aff00"/><stop offset="0.71" stop-color="#2aff00"/><stop offset="1" stop-color="#2aff00"/></linearGradient><linearGradient id="r36" gradientUnits="userSpaceOnUse" x1="480.8" y1="0" x2="658.3" y2="0"><stop offset="0" stop-color="#0009ff"/><stop offset="0" stop-color="#0009ff"/><stop offset="0.01" stop-color="#002cff"/><stop offset="0.01" stop-color="#003dff"/><stop offset="0.02" stop-color="#0060ff"/><stop offset="0.02" stop-color="#0083ff"/><stop offset="0.03" stop-color="#00b8ff"/><stop offset="0.04" stop-color="#00dbff"/><stop offset="0.05" stop-color="#00ffee"/><stop offset="0.06" stop-color="#00ffcb"/><stop offset="0.07" stop-color="#00ff97"/><stop offset="0.08" stop-color="#00ff62"/><stop offset="0.1" stop-color="#00ff2e"/><stop offset="0.13" stop-color="#00ff0b"/><stop offset="0.16" stop-color="#07ff00"/><stop offset="0.2" stop-color="#19ff00"/><stop offset="0.25" stop-color="#2aff00"/><stop offset="0.33" stop-color="#2aff00"/><stop offset="0.43" stop-color="#2aff00"/><stop offset="0.56" stop-color="#2aff00"/><stop offset="0.71" stop-color="#2aff00"/><stop offset="1" stop-color="#2aff00"/></linearGradient><linearGradient id="r37" gradientUnits="userSpaceOnUse" x1="480.8" y1="0" x2="658.3" y2="0"><stop offset="0" stop-color="#0009ff"/><stop offset="0" stop-color="#0009ff"/><stop offset="0.01" stop-color="#002cff"/><stop offset="0.01" stop-color="#003dff"/><stop offset="0.02" stop-color="#0060ff"/><stop offset="0.02" stop-color="#0083ff"/><stop offset="0.03" stop-color="#00b8ff"/><stop offset="0.04" stop-color="#00dbff"/><stop offset="0.05" stop-color="#00feff"/><stop offset="0.06" stop-color="#00ffcb"/><stop offset="0.07" stop-color="#00ff97"/><stop offset="0.08" stop-color="#00ff62"/><stop offset="0.1" stop-color="#00ff3f"/><stop offset="0.13" stop-color="#00ff1c"/><stop offset="0.16" stop-color="#07ff00"/><stop offset="0.2" stop-color="#19ff00"/><stop offset="0.25" stop-color="#19ff00"/><stop offset="0.33" stop-color="#19ff00"/><stop offset="0.43" stop-color="#19ff00"/><stop offset="0.56" stop-color="#19ff00"/><stop offset="0.71" stop-color="#19ff00"/><stop offset="1" stop-color="#19ff00"/></linearGradient><linearGradient id="r38" gradientUnits="userSpaceOnUse" x1="480.8" y1="0" x2="658.3" y2="0"><stop offset="0" stop-color="#0009ff"/><stop offset="0" stop-color="#0009ff"/><stop offset="0.01" stop-color="#002cff"/><stop offset="0.01" stop-color="#003dff"/><stop offset="0.02" stop-color="#0060ff"/><stop offset="0.02" stop-color="#0083ff"/><stop offset="0.03" stop-color="#00a6ff"/><stop offset="0.04" stop-color="#00dbff"/><stop offset="0.05" stop-color="#00feff"/><stop offset="0.06" stop-color="#00ffcb"/><stop offset="0.07" stop-color="#00ff97"/><stop offset="0.08" stop-color="#00ff74"/><stop offset="0.1" stop-color="#00ff3f"/><stop offset="0.13" stop-color="#00ff1c"/><stop offset="0.16" stop-color="#00ff0b"/><stop offset="0.2" stop-color="#07ff00"/><stop offset="0.25" stop-color="#19ff00"/><stop offset="0.33" stop-color="#19ff00"/><stop offset="0.43" stop-color="#19ff00"/><stop offset="0.56" stop-color="#19ff00"/><stop offset="0.71" stop-color="#19ff00"/><stop offset="1" stop-color="#19ff00"/></linearGradient><linearGradient id="r39" gradientUnits="userSpaceOnUse" x1="480.8" y1="0" x2="658.3" y2="0"><stop offset="0" stop-color="#0009ff"/><stop offset="0" stop-color="#0009ff"/><stop offset="0.01" stop-color="#002cff"/><stop offset="0.01" stop-color="#003dff"/><stop offset="0.02" stop-color="#0060ff"/><stop offset="0.02" stop-color="#0083ff"/><stop offset="0.03" stop-color="#00a6ff"/><stop offset="0.04" stop-color="#00dbff"/><stop offset="0.05" stop-color="#00feff"/><stop offset="0.06" stop-color="#00ffdd"/><stop offset="0.07" stop-color="#00ffa8"/><stop offset="0.08" stop-color="#00ff74"/><stop offset="0.1" stop-color="#00ff51"/><stop offset="0.13" stop-color="#00ff2e"/><stop offset="0.16" stop-color="#00ff0b"/><stop offset="0.2" stop-color="#07ff00"/><stop offset="0.25" stop-color="#07ff00"/><stop offset="0.33" stop-color="#07ff00"/><stop offset="0.43" stop-color="#07ff00"/><stop offset="0.56" stop-color="#07ff00"/><stop offset="0.71" stop-color="#07ff00"/><stop offset="1" stop-color="#07ff00"/></linearGradient><linearGradient id="r40" gradientUnits="userSpaceOnUse" x1="480.8" y1="0" x2="658.3" y2="0"><stop offset="0" stop-color="#0009ff"/><stop offset="0" stop-color="#0009ff"/><stop offset="0.01" stop-color="#002cff"/><stop offset="0.01" stop-color="#003dff"/><stop offset="0.02" stop-color="#0060ff"/><stop offset="0.02" stop-color="#0083ff"/><stop offset="0.03" stop-color="#00a6ff"/><stop offset="0.04" stop-color="#00caff"/><stop offset="0.05" stop-color="#00edff"/><stop offset="0.06" stop-color="#00ffdd"/><stop offset="0.07" stop-color="#00ffa8"/><stop offset="0.08" stop-color="#00ff85"/><stop offset="0.1" stop-color="#00ff51"/><stop offset="0.13" stop-color="#00ff2e"/><stop offset="0.16" stop-color="#00ff1c"/><stop offset="0.2" stop-color="#00ff0b"/><stop offset="0.25" stop-color="#07ff00"/><stop offset="0.33" stop-color="#07ff00"/><stop offset="0.43" stop-color="#07ff00"/><stop offset="0.56" stop-color="#07ff00"/><stop offset="0.71" stop-color="#07ff00"/><stop offset="1" stop-color="#07ff00"/></linearGradient><linearGradient id="r41" gradientUnits="userSpaceOnUse" x1="480.8" y1="0" x2="658.3" y2="0"><stop offset="0" stop-color="#0009ff"/><stop offset="0" stop-color="#0009ff"/><stop offset="0.01" stop-color="#002cff"/><stop offset="0.01" stop-color="#003dff"/><stop offset="0.02" stop-color="#0060ff"/><stop offset="0.02" stop-color="#0083ff"/><stop offset="0.03" stop-color="#00a6ff"/><stop offset="0.04" stop-color="#00caff"/><stop offset="0.05" stop-color="#00edff"/><stop offset="0.06" stop-color="#00ffdd"/><stop offset="0.07" stop-color="#00ffba"/><stop offset="0.08" stop-color="#00ff85"/><stop offset="0.1" stop-color="#00ff62"/><stop offset="0.13" stop-color="#00ff3f"/><stop offset="0.16" stop-color="#00ff1c"/><stop offset="0.2" stop-color="#00ff0b"/><stop offset="0.25" stop-color="#00ff0b"/><stop offset="0.33" stop-color="#00ff0b"/><stop offset="0.43" stop-color="#00ff0b"/><stop offset="0.56" stop-color="#00ff0b"/><stop offset="0.71" stop-color="#00ff0b"/><stop offset="1" stop-color="#00ff0b"/></linearGradient><linearGradient id="r42" gradientUnits="userSpaceOnUse" x1="480.8" y1="0" x2="658.3" y2="0"><stop offset="0" stop-color="#0009ff"/><stop offset="0" stop-color="#0009ff"/><stop offset="0.01" stop-color="#001aff"/><stop offset="0.01" stop-color="#003dff"/><stop offset="0.02" stop-color="#0060ff"/><stop offset="0.02" stop-color="#0072ff"/><stop offset="0.03" stop-color="#0095ff"/><stop offset="0.04" stop-color="#00caff"/><stop offset="0.05" stop-color="#00edff"/><stop offset="0.06" stop-color="#00ffee"/><stop offset="0.07" stop-color="#00ffba"/><stop offset="0.08" stop-color="#00ff85"/><stop offset="0.1" stop-color="#00ff62"/><stop offset="0.13" stop-color="#00ff3f"/><stop offset="0.16" stop-color="#00ff2e"/><stop offset="0.2" stop-color="#00ff1c"/><stop offset="0.25" stop-color="#00ff0b"/><stop offset="0.33" stop-color="#00ff0b"/><stop offset="0.43" stop-color="#00ff0b"/><stop offset="0.56" stop-color="#00ff0b"/><stop offset="0.71" stop-color="#00ff0b"/><stop offset="1" stop-color="#00ff0b"/></linearGradient><linearGradient id="r43" gradientUnits="userSpaceOnUse" x1="480.8" y1="0" x2="658.3" y2="0"><stop offset="0" stop-color="#0009ff"/><stop offset="0" stop-color="#0009ff"/><stop offset="0.01" stop-color="#001aff"/><stop offset="0.01" stop-color="#003dff"/><stop offset="0.02" stop-color="#004fff"/><stop offset="0.02" stop-color="#0072ff"/><stop offset="0.03" stop-color="#0095ff"/><stop offset="0.04" stop-color="#00b8ff"/><stop offset="0.05" stop-color="#00edff"/><stop offset="0.06" stop-color="#00ffee"/><stop offset="0.07" stop-color="#00ffba"/><stop offset="0.08" stop-color="#00ff97"/><stop offset="0.1" stop-color="#00ff74"/><stop offset="0.13" stop-color="#00ff51"/><stop offset="0.16" stop-color="#00ff2e"/><stop offset="0.2" stop-color="#00ff1c"/><stop offset="0.25" stop-color="#00ff1c"/><stop offset="0.33" stop-color="#00ff1c"/><stop offset="0.43" stop-color="#00ff1c"/><stop offset="0.56" stop-color="#00ff1c"/><stop offset="0.71" stop-color="#00ff1c"/><stop offset="1" stop-color="#00ff1c"/></linearGradient><linearGradient id="r44" gradientUnits="userSpaceOnUse" x1="480.8" y1="0" x2="658.3" y2="0"><stop offset="0" stop-color="#0009ff"/><stop offset="0" stop-color="#0009ff"/><stop offset="0.01" stop-color="#001aff"/><stop offset="0.01" stop-color="#003dff"/><stop offset="0.02" stop-color="#004fff"/><stop offset="0.02" stop-color="#0072ff"/><stop offset="0.03" stop-color="#0095ff"/><stop offset="0.04" stop-color="#00b8ff"/><stop offset="0.05" stop-color="#00dbff"/><stop offset="0.06" stop-color="#00ffee"/><stop offset="0.07" stop-color="#00ffcb"/><stop offset="0.08" stop-color="#00ff97"/><stop offset="0.1" stop-color="#00ff74"/><stop offset="0.13" stop-color="#00ff51"/><stop offset="0.16" stop-color="#00ff3f"/><stop offset="0.2" stop-color="#00ff2e"/><stop offset="0.25" stop-color="#00ff1c"/><stop offset="0.33" stop-color="#00ff1c"/><stop offset="0.43" stop-color="#00ff1c"/><stop offset="0.56" stop-color="#00ff1c"/><stop offset="0.71" stop-color="#00ff1c"/><stop offset="1" stop-color="#00ff1c"/></linearGradient><linearGradient id="r45" gradientUnits="userSpaceOnUse" x1="480.8" y1="0" x2="658.3" y2="0"><stop offset="0" stop-color="#0009ff"/><stop offset="0" stop-color="#0009ff"/><stop offset="0.01" stop-color="#001aff"/><stop offset="0.01" stop-color="#003dff"/><stop offset="0.02" stop-color="#004fff"/><stop offset="0.02" stop-color="#0072ff"/><stop offset="0.03" stop-color="#0095ff"/><stop offset="0.04" stop-color="#00b8ff"/><stop offset="0.05" stop-color="#00dbff"/><stop offset="0.06" stop-color="#00feff"/><stop offset="0.07" stop-color="#00ffcb"/><stop offset="0.08" stop-color="#00ffa8"/><stop offset="0.1" stop-color="#00ff85"/><stop offset="0.13" stop-color="#00ff51"/><stop offset="0.16" stop-color="#00ff3f"/><stop offset="0.2" stop-color="#00ff2e"/><stop offset="0.25" stop-color="#00ff2e"/><stop offset="0.33" stop-color="#00ff1c"/><stop offset="0.43" stop-color="#00ff1c"/><stop offset="0.56" stop-color="#00ff1c"/><stop offset="0.71" stop-color="#00ff1c"/><stop offset="1" stop-color="#00ff1c"/></linearGradient><linearGradient id="r46" gradientUnits="userSpaceOnUse" x1="480.8" y1="0" x2="658.3" y2="0"><stop offset="0" stop-color="#0009ff"/><stop offset="0" stop-color="#0009ff"/><stop offset="0.01" stop-color="#001aff"/><stop offset="0.01" stop-color="#003dff"/><stop offset="0.02" stop-color="#004fff"/><stop offset="0.02" stop-color="#0072ff"/><stop offset="0.03" stop-color="#0095ff"/><stop offset="0.04" stop-color="#00b8ff"/><stop offset="0.05" stop-color="#00dbff"/><stop offset="0.06" stop-color="#00feff"/><stop offset="0.07" stop-color="#00ffdd"/><stop offset="0.08" stop-color="#00ffa8"/><stop offset="0.1" stop-color="#00ff85"/><stop offset="0.13" stop-color="#00ff62"/><stop offset="0.16" stop-color="#00ff3f"/><stop offset="0.2" stop-color="#00ff2e"/><stop offset="0.25" stop-color="#00ff2e"/><stop offset="0.33" stop-color="#00ff2e"/><stop offset="0.43" stop-color="#00ff2e"/><stop offset="0.56" stop-color="#00ff2e"/><stop offset="0.71" stop-color="#00ff2e"/><stop offset="1" stop-color="#00ff2e"/></linearGradient><linearGradient id="r47" gradientUnits="userSpaceOnUse" x1="480.8" y1="0" x2="658.3" y2="0"><stop offset="0" stop-color="#0009ff"/><stop offset="0" stop-color="#0009ff"/><stop offset="0.01" stop-color="#001aff"/><stop offset="0.01" stop-color="#003dff"/><stop offset="0.02" stop-color="#004fff"/><stop offset="0.02" stop-color="#0072ff"/><stop offset="0.03" stop-color="#0083ff"/><stop offset="0.04" stop-color="#00a6ff"/><stop offset="0.05" stop-color="#00caff"/><stop offset="0.06" stop-color="#00feff"/><stop offset="0.07" stop-color="#00ffdd"/><stop offset="0.08" stop-color="#00ffba"/><stop offset="0.1" stop-color="#00ff85"/><stop offset="0.13" stop-color="#00ff62"/><stop offset="0.16" stop-color="#00ff51"/><stop offset="0.2" stop-color="#00ff3f"/><stop offset="0.25" stop-color="#00ff2e"/><stop offset="0.33" stop-color="#00ff2e"/><stop offset="0.43" stop-color="#00ff2e"/><stop offset="0.56" stop-color="#00ff2e"/><stop offset="0.71" stop-color="#00ff2e"/><stop offset="1" stop-color="#00ff2e"/></linearGradient><linearGradient id="r48" gradientUnits="userSpaceOnUse" x1="480.8" y1="0" x2="658.3" y2="0"><stop offset="0" stop-color="#0009ff"/><stop offset="0" stop-color="#0009ff"/><stop offset="0.01" stop-color="#001aff"/><stop offset="0.01" stop-color="#002cff"/><stop offset="0.02" stop-color="#004fff"/><stop offset="0.02" stop-color="#0072ff"/><stop offset="0.03" stop-color="#0083ff"/><stop offset="0.04" stop-color="#00a6ff"/><stop offset="0.05" stop-color="#00caff"/><stop offset="0.06" stop-color="#00edff"/><stop offset="0.07" stop-color="#00ffdd"/><stop offset="0.08" stop-color="#00ffba"/><stop offset="0.1" stop-color="#00ff97"/><stop offset="0.13" stop-color="#00ff74"/><stop offset="0.16" stop-color="#00ff51"/><stop offset="0.2" stop-color="#00ff3f"/><stop offset="0.25" stop-color="#00ff3f"/><stop offset="0.33" stop-color="#00ff3f"/><stop offset="0.43" stop-color="#00ff3f"/><stop offset="0.56" stop-color="#00ff3f"/><stop offset="0.71" stop-color="#00ff3f"/><stop offset="1" stop-color="#00ff3f"/></linearGradient><linearGradient id="r49" gradientUnits="userSpaceOnUse" x1="480.8" y1="0" x2="658.3" y2="0"><stop offset="0" stop-color="#0009ff"/><stop offset="0" stop-color="#0009ff"/><stop offset="0.01" stop-color="#001aff"/><stop offset="0.01" stop-color="#002cff"/><stop offset="0.02" stop-color="#004fff"/><stop offset="0.02" stop-color="#0060ff"/><stop offset="0.03" stop-color="#0083ff"/><stop offset="0.04" stop-color="#00a6ff"/><stop offset="0.05" stop-color="#00caff"/><stop offset="0.06" stop-color="#00edff"/><stop offset="0.07" stop-color="#00ffee"/><stop offset="0.08" stop-color="#00ffba"/><stop offset="0.1" stop-color="#00ff97"/><stop offset="0.13" stop-color="#00ff74"/><stop offset="0.16" stop-color="#00ff62"/><stop offset="0.2" stop-color="#00ff51"/><stop offset="0.25" stop-color="#00ff3f"/><stop offset="0.33" stop-color="#00ff3f"/><stop offset="0.43" stop-color="#00ff3f"/><stop offset="0.56" stop-color="#00ff3f"/><stop offset="0.71" stop-color="#00ff3f"/><stop offset="1" stop-color="#00ff3f"/></linearGradient><linearGradient id="r50" gradientUnits="userSpaceOnUse" x1="480.8" y1="0" x2="658.3" y2="0"><stop offset="0" stop-color="#0009ff"/><stop offset="0" stop-color="#0009ff"/><stop offset="0.01" stop-color="#001aff"/><stop offset="0.01" stop-color="#002cff"/><stop offset="0.02" stop-color="#004fff"/><stop offset="0.02" stop-color="#0060ff"/><stop offset="0.03" stop-color="#0083ff"/><stop offset="0.04" stop-color="#00a6ff"/><stop offset="0.05" stop-color="#00caff"/><stop offset="0.06" stop-color="#00edff"/><stop offset="0.07" stop-color="#00ffee"/><stop offset="0.08" stop-color="#00ffcb"/><stop offset="0.1" stop-color="#00ffa8"/><stop offset="0.13" stop-color="#00ff85"/><stop offset="0.16" stop-color="#00ff62"/><stop offset="0.2" stop-color="#00ff51"/><stop offset="0.25" stop-color="#00ff51"/><stop offset="0.33" stop-color="#00ff51"/><stop offset="0.43" stop-color="#00ff51"/><stop offset="0.56" stop-color="#00ff51"/><stop offset="0.71" stop-color="#00ff51"/><stop offset="1" stop-color="#00ff51"/></linearGradient><linearGradient id="r51" gradientUnits="userSpaceOnUse" x1="480.8" y1="0" x2="658.3" y2="0"><stop offset="0" stop-color="#0009ff"/><stop offset="0" stop-color="#0009ff"/><stop offset="0.01" stop-color="#001aff"/><stop offset="0.01" stop-color="#002cff"/><stop offset="0.02" stop-color="#004fff"/><stop offset="0.02" stop-color="#0060ff"/><stop offset="0.03" stop-color="#0083ff"/><stop offset="0.04" stop-color="#00a6ff"/><stop offset="0.05" stop-color="#00b8ff"/><stop offset="0.06" stop-color="#00dbff"/><stop offset="0.07" stop-color="#00ffee"/><stop offset="0.08" stop-color="#00ffcb"/><stop offset="0.1" stop-color="#00ffa8"/><stop offset="0.13" stop-color="#00ff85"/><stop offset="0.16" stop-color="#00ff74"/><stop offset="0.2" stop-color="#00ff62"/><stop offset="0.25" stop-color="#00ff51"/><stop offset="0.33" stop-color="#00ff51"/><stop offset="0.43" stop-color="#00ff51"/><stop offset="0.56" stop-color="#00ff51"/><stop offset="0.71" stop-color="#00ff51"/><stop offset="1" stop-color="#00ff51"/></linearGradient><linearGradient id="r52" gradientUnits="userSpaceOnUse" x1="480.8" y1="0" x2="658.3" y2="0"><stop offset="0" stop-color="#0009ff"/><stop offset="0" stop-color="#0009ff"/><stop offset="0.01" stop-color="#001aff"/><stop offset="0.01" stop-color="#002cff"/><stop offset="0.02" stop-color="#003dff"/><stop offset="0.02" stop-color="#0060ff"/><stop offset="0.03" stop-color="#0083ff"/><stop offset="0.04" stop-color="#0095ff"/><stop offset="0.05" stop-color="#00b8ff"/><stop offset="0.06" stop-color="#00dbff"/><stop offset="0.07" stop-color="#00feff"/><stop offset="0.08" stop-color="#00ffcb"/><stop offset="0.1" stop-color="#00ffa8"/><stop offset="0.13" stop-color="#00ff97"/><stop offset="0.16" stop-color="#00ff74"/><stop offset="0.2" stop-color="#00ff62"/><stop offset="0.25" stop-color="#00ff62"/><stop offset="0.33" stop-color="#00ff51"/><stop offset="0.43" stop-color="#00ff51"/><stop offset="0.56" stop-color="#00ff51"/><stop offset="0.71" stop-color="#00ff51"/><stop offset="1" stop-color="#00ff51"/></linearGradient><linearGradient id="r53" gradientUnits="userSpaceOnUse" x1="480.8" y1="0" x2="658.3" y2="0"><stop offset="0" stop-color="#0009ff"/><stop offset="0" stop-color="#0009ff"/><stop offset="0.01" stop-color="#001aff"/><stop offset="0.01" stop-color="#002cff"/><stop offset="0.02" stop-color="#003dff"/><stop offset="0.02" stop-color="#0060ff"/><stop offset="0.03" stop-color="#0072ff"/><stop offset="0.04" stop-color="#0095ff"/><stop offset="0.05" stop-color="#00b8ff"/><stop offset="0.06" stop-color="#00dbff"/><stop offset="0.07" stop-color="#00feff"/><stop offset="0.08" stop-color="#00ffdd"/><stop offset="0.1" stop-color="#00ffba"/><stop offset="0.13" stop-color="#00ff97"/><stop offset="0.16" stop-color="#00ff74"/><stop offset="0.2" stop-color="#00ff74"/><stop offset="0.25" stop-color="#00ff62"/><stop offset="0.33" stop-color="#00ff62"/><stop offset="0.43" stop-color="#00ff62"/><stop offset="0.56" stop-color="#00ff62"/><stop offset="0.71" stop-color="#00ff62"/><stop offset="1" stop-color="#00ff62"/></linearGradient><linearGradient id="r54" gradientUnits="userSpaceOnUse" x1="480.8" y1="0" x2="658.3" y2="0"><stop offset="0" stop-color="#0009ff"/><stop offset="0" stop-color="#0009ff"/><stop offset="0.01" stop-color="#001aff"/><stop offset="0.01" stop-color="#002cff"/><stop offset="0.02" stop-color="#003dff"/><stop offset="0.02" stop-color="#0060ff"/><stop offset="0.03" stop-color="#0072ff"/><stop offset="0.04" stop-color="#0095ff"/><stop offset="0.05" stop-color="#00b8ff"/><stop offset="0.06" stop-color="#00caff"/><stop offset="0.07" stop-color="#00feff"/><stop offset="0.08" stop-color="#00ffdd"/><stop offset="0.1" stop-color="#00ffba"/><stop offset="0.13" stop-color="#00ff97"/><stop offset="0.16" stop-color="#00ff85"/><stop offset="0.2" stop-color="#00ff74"/><stop offset="0.25" stop-color="#00ff62"/><stop offset="0.33" stop-color="#00ff62"/><stop offset="0.43" stop-color="#00ff62"/><stop offset="0.56" stop-color="#00ff62"/><stop offset="0.71" stop-color="#00ff62"/><stop offset="1" stop-color="#00ff62"/></linearGradient><linearGradient id="r55" gradientUnits="userSpaceOnUse" x1="480.8" y1="0" x2="658.3" y2="0"><stop offset="0" stop-color="#0009ff"/><stop offset="0" stop-color="#0009ff"/><stop offset="0.01" stop-color="#001aff"/><stop offset="0.01" stop-color="#002cff"/><stop offset="0.02" stop-color="#003dff"/><stop offset="0.02" stop-color="#0060ff"/><stop offset="0.03" stop-color="#0072ff"/><stop offset="0.04" stop-color="#0095ff"/><stop offset="0.05" stop-color="#00a6ff"/><stop offset="0.06" stop-color="#00caff"/><stop offset="0.07" stop-color="#00edff"/><stop offset="0.08" stop-color="#00ffee"/><stop offset="0.1" stop-color="#00ffcb"/><stop offset="0.13" stop-color="#00ffa8"/><stop offset="0.16" stop-color="#00ff85"/><stop offset="0.2" stop-color="#00ff74"/><stop offset="0.25" stop-color="#00ff74"/><stop offset="0.33" stop-color="#00ff74"/><stop offset="0.43" stop-color="#00ff74"/><stop offset="0.56" stop-color="#00ff74"/><stop offset="0.71" stop-color="#00ff74"/><stop offset="1" stop-color="#00ff74"/></linearGradient><linearGradient id="r56" gradientUnits="userSpaceOnUse" x1="480.8" y1="0" x2="658.3" y2="0"><stop offset="0" stop-color="#0009ff"/><stop offset="0" stop-color="#0009ff"/><stop offset="0.01" stop-color="#001aff"/><stop offset="0.01" stop-color="#002cff"/><stop offset="0.02" stop-color="#003dff"/><stop offset="0.02" stop-color="#004fff"/><stop offset="0.03" stop-color="#0072ff"/><stop offset="0.04" stop-color="#0083ff"/><stop offset="0.05" stop-color="#00a6ff"/><stop offset="0.06" stop-color="#00caff"/><stop offset="0.07" stop-color="#00edff"/><stop offset="0.08" stop-color="#00ffee"/><stop offset="0.1" stop-color="#00ffcb"/><stop offset="0.13" stop-color="#00ffa8"/><stop offset="0.16" stop-color="#00ff97"/><stop offset="0.2" stop-color="#00ff85"/><stop offset="0.25" stop-color="#00ff74"/><stop offset="0.33" stop-color="#00ff74"/><stop offset="0.43" stop-color="#00ff74"/><stop offset="0.56" stop-color="#00ff74"/><stop offset="0.71" stop-color="#00ff74"/><stop offset="1" stop-color="#00ff74"/></linearGradient><linearGradient id="r57" gradientUnits="userSpaceOnUse" x1="480.8" y1="0" x2="658.3" y2="0"><stop offset="0" stop-color="#0009ff"/><stop offset="0" stop-color="#0009ff"/><stop offset="0.01" stop-color="#001aff"/><stop offset="0.01" stop-color="#002cff"/><stop offset="0.02" stop-color="#003dff"/><stop offset="0.02" stop-color="#004fff"/><stop offset="0.03" stop-color="#0072ff"/><stop offset="0.04" stop-color="#0083ff"/><stop offset="0.05" stop-color="#00a6ff"/><stop offset="0.06" stop-color="#00caff"/><stop offset="0.07" stop-color="#00edff"/><stop offset="0.08" stop-color="#00ffee"/><stop offset="0.1" stop-color="#00ffcb"/><stop offset="0.13" stop-color="#00ffba"/><stop offset="0.16" stop-color="#00ff97"/><stop offset="0.2" stop-color="#00ff85"/><stop offset="0.25" stop-color="#00ff85"/><stop offset="0.33" stop-color="#00ff85"/><stop offset="0.43" stop-color="#00ff74"/><stop offset="0.56" stop-color="#00ff74"/><stop offset="0.71" stop-color="#00ff74"/><stop offset="1" stop-color="#00ff74"/></linearGradient><linearGradient id="r58" gradientUnits="userSpaceOnUse" x1="480.8" y1="0" x2="658.3" y2="0"><stop offset="0" stop-color="#0009ff"/><stop offset="0" stop-color="#0009ff"/><stop offset="0.01" stop-color="#001aff"/><stop offset="0.01" stop-color="#002cff"/><stop offset="0.02" stop-color="#003dff"/><stop offset="0.02" stop-color="#004fff"/><stop offset="0.03" stop-color="#0072ff"/><stop offset="0.04" stop-color="#0083ff"/><stop offset="0.05" stop-color="#00a6ff"/><stop offset="0.06" stop-color="#00b8ff"/><stop offset="0.07" stop-color="#00dbff"/><stop offset="0.08" stop-color="#00feff"/><stop offset="0.1" stop-color="#00ffdd"/><stop offset="0.13" stop-color="#00ffba"/><stop offset="0.16" stop-color="#00ffa8"/><stop offset="0.2" stop-color="#00ff97"/><stop offset="0.25" stop-color="#00ff85"/><stop offset="0.33" stop-color="#00ff85"/><stop offset="0.43" stop-color="#00ff85"/><stop offset="0.56" stop-color="#00ff85"/><stop offset="0.71" stop-color="#00ff85"/><stop offset="1" stop-color="#00ff85"/></linearGradient><linearGradient id="r59" gradientUnits="userSpaceOnUse" x1="480.8" y1="0" x2="658.3" y2="0"><stop offset="0" stop-color="#0009ff"/><stop offset="0" stop-color="#0009ff"/><stop offset="0.01" stop-color="#001aff"/><stop offset="0.01" stop-color="#002cff"/><stop offset="0.02" stop-color="#003dff"/><stop offset="0.02" stop-color="#004fff"/><stop offset="0.03" stop-color="#0060ff"/><stop offset="0.04" stop-color="#0083ff"/><stop offset="0.05" stop-color="#0095ff"/><stop offset="0.06" stop-color="#00b8ff"/><stop offset="0.07" stop-color="#00dbff"/><stop offset="0.08" stop-color="#00feff"/><stop offset="0.1" stop-color="#00ffdd"/><stop offset="0.13" stop-color="#00ffba"/><stop offset="0.16" stop-color="#00ffa8"/><stop offset="0.2" stop-color="#00ff97"/><stop offset="0.25" stop-color="#00ff85"/><stop offset="0.33" stop-color="#00ff85"/><stop offset="0.43" stop-color="#00ff85"/><stop offset="0.56" stop-color="#00ff85"/><stop offset="0.71" stop-color="#00ff85"/><stop offset="1" stop-color="#00ff85"/></linearGradient><linearGradient id="r60" gradientUnits="userSpaceOnUse" x1="480.8" y1="0" x2="658.3" y2="0"><stop offset="0" stop-color="#0009ff"/><stop offset="0" stop-color="#0009ff"/><stop offset="0.01" stop-color="#001aff"/><stop offset="0.01" stop-color="#002cff"/><stop offset="0.02" stop-color="#003dff"/><stop offset="0.02" stop-color="#004fff"/><stop offset="0.03" stop-color="#0060ff"/><stop offset="0.04" stop-color="#0083ff"/><stop offset="0.05" stop-color="#0095ff"/><stop offset="0.06" stop-color="#00b8ff"/><stop offset="0.07" stop-color="#00dbff"/><stop offset="0.08" stop-color="#00feff"/><stop offset="0.1" stop-color="#00ffee"/><stop offset="0.13" stop-color="#00ffcb"/><stop offset="0.16" stop-color="#00ffa8"/><stop offset="0.2" stop-color="#00ff97"/><stop offset="0.25" stop-color="#00ff97"/><stop offset="0.33" stop-color="#00ff97"/><stop offset="0.43" stop-color="#00ff97"/><stop offset="0.56" stop-color="#00ff97"/><stop offset="0.71" stop-color="#00ff97"/><stop offset="1" stop-color="#00ff97"/></linearGradient><linearGradient id="r61" gradientUnits="userSpaceOnUse" x1="480.8" y1="0" x2="658.3" y2="0"><stop offset="0" stop-color="#0009ff"/><stop offset="0" stop-color="#0009ff"/><stop offset="0.01" stop-color="#001aff"/><stop offset="0.01" stop-color="#002cff"/><stop offset="0.02" stop-color="#003dff"/><stop offset="0.02" stop-color="#004fff"/><stop offset="0.03" stop-color="#0060ff"/><stop offset="0.04" stop-color="#0083ff"/><stop offset="0.05" stop-color="#0095ff"/><stop offset="0.06" stop-color="#00b8ff"/><stop offset="0.07" stop-color="#00caff"/><stop offset="0.08" stop-color="#00edff"/><stop offset="0.1" stop-color="#00ffee"/><stop offset="0.13" stop-color="#00ffcb"/><stop offset="0.16" stop-color="#00ffba"/><stop offset="0.2" stop-color="#00ffa8"/><stop offset="0.25" stop-color="#00ff97"/><stop offset="0.33" stop-color="#00ff97"/><stop offset="0.43" stop-color="#00ff97"/><stop offset="0.56" stop-color="#00ff97"/><stop offset="0.71" stop-color="#00ff97"/><stop offset="1" stop-color="#00ff97"/></linearGradient><linearGradient id="r62" gradientUnits="userSpaceOnUse" x1="480.8" y1="0" x2="658.3" y2="0"><stop offset="0" stop-color="#0009ff"/><stop offset="0" stop-color="#0009ff"/><stop offset="0.01" stop-color="#001aff"/><stop offset="0.01" stop-color="#002cff"/><stop offset="0.02" stop-color="#002cff"/><stop offset="0.02" stop-color="#004fff"/><stop offset="0.03" stop-color="#0060ff"/><stop offset="0.04" stop-color="#0072ff"/><stop offset="0.05" stop-color="#0095ff"/><stop offset="0.06" stop-color="#00a6ff"/><stop offset="0.07" stop-color="#00caff"/><stop offset="0.08" stop-color="#00edff"/><stop offset="0.1" stop-color="#00ffee"/><stop offset="0.13" stop-color="#00ffdd"/><stop offset="0.16" stop-color="#00ffba"/><stop offset="0.2" stop-color="#00ffa8"/><stop offset="0.25" stop-color="#00ffa8"/><stop offset="0.33" stop-color="#00ff97"/><stop offset="0.43" stop-color="#00ff97"/><stop offset="0.56" stop-color="#00ff97"/><stop offset="0.71" stop-color="#00ff97"/><stop offset="1" stop-color="#00ff97"/></linearGradient><linearGradient id="r63" gradientUnits="userSpaceOnUse" x1="480.8" y1="0" x2="658.3" y2="0"><stop offset="0" stop-color="#0009ff"/><stop offset="0" stop-color="#0009ff"/><stop offset="0.01" stop-color="#001aff"/><stop offset="0.01" stop-color="#001aff"/><stop offset="0.02" stop-color="#002cff"/><stop offset="0.02" stop-color="#004fff"/><stop offset="0.03" stop-color="#0060ff"/><stop offset="0.04" stop-color="#0072ff"/><stop offset="0.05" stop-color="#0083ff"/><stop offset="0.06" stop-color="#00a6ff"/><stop offset="0.07" stop-color="#00caff"/><stop offset="0.08" stop-color="#00edff"/><stop offset="0.1" stop-color="#00feff"/><stop offset="0.13" stop-color="#00ffdd"/><stop offset="0.16" stop-color="#00ffcb"/><stop offset="0.2" stop-color="#00ffba"/><stop offset="0.25" stop-color="#00ffa8"/><stop offset="0.33" stop-color="#00ffa8"/><stop offset="0.43" stop-color="#00ffa8"/><stop offset="0.56" stop-color="#00ffa8"/><stop offset="0.71" stop-color="#00ffa8"/><stop offset="1" stop-color="#00ffa8"/></linearGradient><linearGradient id="r64" gradientUnits="userSpaceOnUse" x1="480.8" y1="0" x2="658.3" y2="0"><stop offset="0" stop-color="#0009ff"/><stop offset="0" stop-color="#0009ff"/><stop offset="0.01" stop-color="#001aff"/><stop offset="0.01" stop-color="#001aff"/><stop offset="0.02" stop-color="#002cff"/><stop offset="0.02" stop-color="#003dff"/><stop offset="0.03" stop-color="#0060ff"/><stop offset="0.04" stop-color="#0072ff"/><stop offset="0.05" stop-color="#0083ff"/><stop offset="0.06" stop-color="#00a6ff"/><stop offset="0.07" stop-color="#00caff"/><stop offset="0.08" stop-color="#00dbff"/><stop offset="0.1" stop-color="#00feff"/><stop offset="0.13" stop-color="#00ffdd"/><stop offset="0.16" stop-color="#00ffcb"/><stop offset="0.2" stop-color="#00ffba"/><stop offset="0.25" stop-color="#00ffa8"/><stop offset="0.33" stop-color="#00ffa8"/><stop offset="0.43" stop-color="#00ffa8"/><stop offset="0.56" stop-color="#00ffa8"/><stop offset="0.71" stop-color="#00ffa8"/><stop offset="1" stop-color="#00ffa8"/></linearGradient><linearGradient id="r65" gradientUnits="userSpaceOnUse" x1="480.8" y1="0" x2="658.3" y2="0"><stop offset="0" stop-color="#0009ff"/><stop offset="0" stop-color="#0009ff"/><stop offset="0.01" stop-color="#001aff"/><stop offset="0.01" stop-color="#001aff"/><stop offset="0.02" stop-color="#002cff"/><stop offset="0.02" stop-color="#003dff"/><stop offset="0.03" stop-color="#004fff"/><stop offset="0.04" stop-color="#0072ff"/><stop offset="0.05" stop-color="#0083ff"/><stop offset="0.06" stop-color="#00a6ff"/><stop offset="0.07" stop-color="#00b8ff"/><stop offset="0.08" stop-color="#00dbff"/><stop offset="0.1" stop-color="#00feff"/><stop offset="0.13" stop-color="#00ffee"/><stop offset="0.16" stop-color="#00ffcb"/><stop offset="0.2" stop-color="#00ffba"/><stop offset="0.25" stop-color="#00ffba"/><stop offset="0.33" stop-color="#00ffba"/><stop offset="0.43" stop-color="#00ffba"/><stop offset="0.56" stop-color="#00ffba"/><stop offset="0.71" stop-color="#00ffba"/><stop offset="1" stop-color="#00ffba"/></linearGradient><linearGradient id="r66" gradientUnits="userSpaceOnUse" x1="480.8" y1="0" x2="658.3" y2="0"><stop offset="0" stop-color="#0009ff"/><stop offset="0" stop-color="#0009ff"/><stop offset="0.01" stop-color="#001aff"/><stop offset="0.01" stop-color="#001aff"/><stop offset="0.02" stop-color="#002cff"/><stop offset="0.02" stop-color="#003dff"/><stop offset="0.03" stop-color="#004fff"/><stop offset="0.04" stop-color="#0072ff"/><stop offset="0.05" stop-color="#0083ff"/><stop offset="0.06" stop-color="#0095ff"/><stop offset="0.07" stop-color="#00b8ff"/><stop offset="0.08" stop-color="#00dbff"/><stop offset="0.1" stop-color="#00edff"/><stop offset="0.13" stop-color="#00ffee"/><stop offset="0.16" stop-color="#00ffdd"/><stop offset="0.2" stop-color="#00ffcb"/><stop offset="0.25" stop-color="#00ffba"/><stop offset="0.33" stop-color="#00ffba"/><stop offset="0.43" stop-color="#00ffba"/><stop offset="0.56" stop-color="#00ffba"/><stop offset="0.71" stop-color="#00ffba"/><stop offset="1" stop-color="#00ffba"/></linearGradient><linearGradient id="r67" gradientUnits="userSpaceOnUse" x1="480.8" y1="0" x2="658.3" y2="0"><stop offset="0" stop-color="#0009ff"/><stop offset="0" stop-color="#0009ff"/><stop offset="0.01" stop-color="#001aff"/><stop offset="0.01" stop-color="#001aff"/><stop offset="0.02" stop-color="#002cff"/><stop offset="0.02" stop-color="#003dff"/><stop offset="0.03" stop-color="#004fff"/><stop offset="0.04" stop-color="#0060ff"/><stop offset="0.05" stop-color="#0083ff"/><stop offset="0.06" stop-color="#0095ff"/><stop offset="0.07" stop-color="#00b8ff"/><stop offset="0.08" stop-color="#00caff"/><stop offset="0.1" stop-color="#00edff"/><stop offset="0.13" stop-color="#00ffee"/><stop offset="0.16" stop-color="#00ffdd"/><stop offset="0.2" stop-color="#00ffcb"/><stop offset="0.25" stop-color="#00ffcb"/><stop offset="0.33" stop-color="#00ffba"/><stop offset="0.43" stop-color="#00ffba"/><stop offset="0.56" stop-color="#00ffba"/><stop offset="0.71" stop-color="#00ffba"/><stop offset="1" stop-color="#00ffba"/></linearGradient><linearGradient id="r68" gradientUnits="userSpaceOnUse" x1="480.8" y1="0" x2="658.3" y2="0"><stop offset="0" stop-color="#0009ff"/><stop offset="0" stop-color="#0009ff"/><stop offset="0.01" stop-color="#0009ff"/><stop offset="0.01" stop-color="#001aff"/><stop offset="0.02" stop-color="#002cff"/><stop offset="0.02" stop-color="#003dff"/><stop offset="0.03" stop-color="#004fff"/><stop offset="0.04" stop-color="#0060ff"/><stop offset="0.05" stop-color="#0072ff"/><stop offset="0.06" stop-color="#0095ff"/><stop offset="0.07" stop-color="#00a6ff"/><stop offset="0.08" stop-color="#00caff"/><stop offset="0.1" stop-color="#00edff"/><stop offset="0.13" stop-color="#00feff"/><stop offset="0.16" stop-color="#00ffdd"/><stop offset="0.2" stop-color="#00ffcb"/><stop offset="0.25" stop-color="#00ffcb"/><stop offset="0.33" stop-color="#00ffcb"/><stop offset="0.43" stop-color="#00ffcb"/><stop offset="0.56" stop-color="#00ffcb"/><stop offset="0.71" stop-color="#00ffcb"/><stop offset="1" stop-color="#00ffcb"/></linearGradient><linearGradient id="r69" gradientUnits="userSpaceOnUse" x1="480.8" y1="0" x2="658.3" y2="0"><stop offset="0" stop-color="#0009ff"/><stop offset="0" stop-color="#0009ff"/><stop offset="0.01" stop-color="#0009ff"/><stop offset="0.01" stop-color="#001aff"/><stop offset="0.02" stop-color="#002cff"/><stop offset="0.02" stop-color="#003dff"/><stop offset="0.03" stop-color="#004fff"/><stop offset="0.04" stop-color="#0060ff"/><stop offset="0.05" stop-color="#0072ff"/><stop offset="0.06" stop-color="#0095ff"/><stop offset="0.07" stop-color="#00a6ff"/><stop offset="0.08" stop-color="#00caff"/><stop offset="0.1" stop-color="#00dbff"/><stop offset="0.13" stop-color="#00feff"/><stop offset="0.16" stop-color="#00ffee"/><stop offset="0.2" stop-color="#00ffdd"/><stop offset="0.25" stop-color="#00ffcb"/><stop offset="0.33" stop-color="#00ffcb"/><stop offset="0.43" stop-color="#00ffcb"/><stop offset="0.56" stop-color="#00ffcb"/><stop offset="0.71" stop-color="#00ffcb"/><stop offset="1" stop-color="#00ffcb"/></linearGradient><linearGradient id="r70" gradientUnits="userSpaceOnUse" x1="480.8" y1="0" x2="658.3" y2="0"><stop offset="0" stop-color="#0009ff"/><stop offset="0" stop-color="#0009ff"/><stop offset="0.01" stop-color="#0009ff"/><stop offset="0.01" stop-color="#001aff"/><stop offset="0.02" stop-color="#002cff"/><stop offset="0.02" stop-color="#003dff"/><stop offset="0.03" stop-color="#004fff"/><stop offset="0.04" stop-color="#0060ff"/><stop offset="0.05" stop-color="#0072ff"/><stop offset="0.06" stop-color="#0083ff"/><stop offset="0.07" stop-color="#00a6ff"/><stop offset="0.08" stop-color="#00b8ff"/><stop offset="0.1" stop-color="#00dbff"/><stop offset="0.13" stop-color="#00feff"/><stop offset="0.16" stop-color="#00ffee"/><stop offset="0.2" stop-color="#00ffdd"/><stop offset="0.25" stop-color="#00ffdd"/><stop offset="0.33" stop-color="#00ffcb"/><stop offset="0.43" stop-color="#00ffcb"/><stop offset="0.56" stop-color="#00ffcb"/><stop offset="0.71" stop-color="#00ffcb"/><stop offset="1" stop-color="#00ffcb"/></linearGradient><linearGradient id="r71" gradientUnits="userSpaceOnUse" x1="480.8" y1="0" x2="658.3" y2="0"><stop offset="0" stop-color="#0009ff"/><stop offset="0" stop-color="#0009ff"/><stop offset="0.01" stop-color="#0009ff"/><stop offset="0.01" stop-color="#001aff"/><stop offset="0.02" stop-color="#002cff"/><stop offset="0.02" stop-color="#003dff"/><stop offset="0.03" stop-color="#004fff"/><stop offset="0.04" stop-color="#0060ff"/><stop offset="0.05" stop-color="#0072ff"/><stop offset="0.06" stop-color="#0083ff"/><stop offset="0.07" stop-color="#00a6ff"/><stop offset="0.08" stop-color="#00b8ff"/><stop offset="0.1" stop-color="#00dbff"/><stop offset="0.13" stop-color="#00edff"/><stop offset="0.16" stop-color="#00feff"/><stop offset="0.2" stop-color="#00ffee"/><stop offset="0.25" stop-color="#00ffdd"/><stop offset="0.33" stop-color="#00ffdd"/><stop offset="0.43" stop-color="#00ffdd"/><stop offset="0.56" stop-color="#00ffdd"/><stop offset="0.71" stop-color="#00ffdd"/><stop offset="1" stop-color="#00ffdd"/></linearGradient><linearGradient id="r72" gradientUnits="userSpaceOnUse" x1="480.8" y1="0" x2="658.3" y2="0"><stop offset="0" stop-color="#0009ff"/><stop offset="0" stop-color="#0009ff"/><stop offset="0.01" stop-color="#0009ff"/><stop offset="0.01" stop-color="#001aff"/><stop offset="0.02" stop-color="#002cff"/><stop offset="0.02" stop-color="#003dff"/><stop offset="0.03" stop-color="#004fff"/><stop offset="0.04" stop-color="#0060ff"/><stop offset="0.05" stop-color="#0072ff"/><stop offset="0.06" stop-color="#0083ff"/><stop offset="0.07" stop-color="#0095ff"/><stop offset="0.08" stop-color="#00b8ff"/><stop offset="0.1" stop-color="#00caff"/><stop offset="0.13" stop-color="#00edff"/><stop offset="0.16" stop-color="#00feff"/><stop offset="0.2" stop-color="#00ffee"/><stop offset="0.25" stop-color="#00ffdd"/><stop offset="0.33" stop-color="#00ffdd"/><stop offset="0.43" stop-color="#00ffdd"/><stop offset="0.56" stop-color="#00ffdd"/><stop offset="0.71" stop-color="#00ffdd"/><stop offset="1" stop-color="#00ffdd"/></linearGradient><linearGradient id="r73" gradientUnits="userSpaceOnUse" x1="480.8" y1="0" x2="658.3" y2="0"><stop offset="0" stop-color="#0009ff"/><stop offset="0" stop-color="#0009ff"/><stop offset="0.01" stop-color="#0009ff"/><stop offset="0.01" stop-color="#001aff"/><stop offset="0.02" stop-color="#002cff"/><stop offset="0.02" stop-color="#002cff"/><stop offset="0.03" stop-color="#003dff"/><stop offset="0.04" stop-color="#004fff"/><stop offset="0.05" stop-color="#0060ff"/><stop offset="0.06" stop-color="#0083ff"/><stop offset="0.07" stop-color="#0095ff"/><stop offset="0.08" stop-color="#00b8ff"/><stop offset="0.1" stop-color="#00caff"/><stop offset="0.13" stop-color="#00edff"/><stop offset="0.16" stop-color="#00feff"/><stop offset="0.2" stop-color="#00ffee"/><stop offset="0.25" stop-color="#00ffee"/><stop offset="0.33" stop-color="#00ffdd"/><stop offset="0.43" stop-color="#00ffdd"/><stop offset="0.56" stop-color="#00ffdd"/><stop offset="0.71" stop-color="#00ffdd"/><stop offset="1" stop-color="#00ffdd"/></linearGradient><linearGradient id="r74" gradientUnits="userSpaceOnUse" x1="480.8" y1="0" x2="658.3" y2="0"><stop offset="0" stop-color="#0009ff"/><stop offset="0" stop-color="#0009ff"/><stop offset="0.01" stop-color="#0009ff"/><stop offset="0.01" stop-color="#001aff"/><stop offset="0.02" stop-color="#002cff"/><stop offset="0.02" stop-color="#002cff"/><stop offset="0.03" stop-color="#003dff"/><stop offset="0.04" stop-color="#004fff"/><stop offset="0.05" stop-color="#0060ff"/><stop offset="0.06" stop-color="#0072ff"/><stop offset="0.07" stop-color="#0095ff"/><stop offset="0.08" stop-color="#00a6ff"/><stop offset="0.1" stop-color="#00caff"/><stop offset="0.13" stop-color="#00dbff"/><stop offset="0.16" stop-color="#00edff"/><stop offset="0.2" stop-color="#00feff"/><stop offset="0.25" stop-color="#00ffee"/><stop offset="0.33" stop-color="#00ffee"/><stop offset="0.43" stop-color="#00ffee"/><stop offset="0.56" stop-color="#00ffee"/><stop offset="0.71" stop-color="#00ffee"/><stop offset="1" stop-color="#00ffee"/></linearGradient><linearGradient id="r75" gradientUnits="userSpaceOnUse" x1="480.8" y1="0" x2="658.3" y2="0"><stop offset="0" stop-color="#0009ff"/><stop offset="0" stop-color="#0009ff"/><stop offset="0.01" stop-color="#0009ff"/><stop offset="0.01" stop-color="#001aff"/><stop offset="0.02" stop-color="#001aff"/><stop offset="0.02" stop-color="#002cff"/><stop offset="0.03" stop-color="#003dff"/><stop offset="0.04" stop-color="#004fff"/><stop offset="0.05" stop-color="#0060ff"/><stop offset="0.06" stop-color="#0072ff"/><stop offset="0.07" stop-color="#0095ff"/><stop offset="0.08" stop-color="#00a6ff"/><stop offset="0.1" stop-color="#00b8ff"/><stop offset="0.13" stop-color="#00dbff"/><stop offset="0.16" stop-color="#00edff"/><stop offset="0.2" stop-color="#00feff"/><stop offset="0.25" stop-color="#00ffee"/><stop offset="0.33" stop-color="#00ffee"/><stop offset="0.43" stop-color="#00ffee"/><stop offset="0.56" stop-color="#00ffee"/><stop offset="0.71" stop-color="#00ffee"/><stop offset="1" stop-color="#00ffee"/></linearGradient><linearGradient id="r76" gradientUnits="userSpaceOnUse" x1="480.8" y1="0" x2="658.3" y2="0"><stop offset="0" stop-color="#0009ff"/><stop offset="0" stop-color="#0009ff"/><stop offset="0.01" stop-color="#0009ff"/><stop offset="0.01" stop-color="#001aff"/><stop offset="0.02" stop-color="#001aff"/><stop offset="0.02" stop-color="#002cff"/><stop offset="0.03" stop-color="#003dff"/><stop offset="0.04" stop-color="#004fff"/><stop offset="0.05" stop-color="#0060ff"/><stop offset="0.06" stop-color="#0072ff"/><stop offset="0.07" stop-color="#0083ff"/><stop offset="0.08" stop-color="#00a6ff"/><stop offset="0.1" stop-color="#00b8ff"/><stop offset="0.13" stop-color="#00dbff"/><stop offset="0.16" stop-color="#00edff"/><stop offset="0.2" stop-color="#00feff"/><stop offset="0.25" stop-color="#00feff"/><stop offset="0.33" stop-color="#00ffee"/><stop offset="0.43" stop-color="#00ffee"/><stop offset="0.56" stop-color="#00ffee"/><stop offset="0.71" stop-color="#00ffee"/><stop offset="1" stop-color="#00ffee"/></linearGradient><linearGradient id="r77" gradientUnits="userSpaceOnUse" x1="480.8" y1="0" x2="658.3" y2="0"><stop offset="0" stop-color="#0009ff"/><stop offset="0" stop-color="#0009ff"/><stop offset="0.01" stop-color="#0009ff"/><stop offset="0.01" stop-color="#001aff"/><stop offset="0.02" stop-color="#001aff"/><stop offset="0.02" stop-color="#002cff"/><stop offset="0.03" stop-color="#003dff"/><stop offset="0.04" stop-color="#004fff"/><stop offset="0.05" stop-color="#0060ff"/><stop offset="0.06" stop-color="#0072ff"/><stop offset="0.07" stop-color="#0083ff"/><stop offset="0.08" stop-color="#0095ff"/><stop offset="0.1" stop-color="#00b8ff"/><stop offset="0.13" stop-color="#00caff"/><stop offset="0.16" stop-color="#00dbff"/><stop offset="0.2" stop-color="#00edff"/><stop offset="0.25" stop-color="#00feff"/><stop offset="0.33" stop-color="#00feff"/><stop offset="0.43" stop-color="#00feff"/><stop offset="0.56" stop-color="#00feff"/><stop offset="0.71" stop-color="#00feff"/><stop offset="1" stop-color="#00feff"/></linearGradient><linearGradient id="r78" gradientUnits="userSpaceOnUse" x1="480.8" y1="0" x2="658.3" y2="0"><stop offset="0" stop-color="#0009ff"/><stop offset="0" stop-color="#0009ff"/><stop offset="0.01" stop-color="#0009ff"/><stop offset="0.01" stop-color="#001aff"/><stop offset="0.02" stop-color="#001aff"/><stop offset="0.02" stop-color="#002cff"/><stop offset="0.03" stop-color="#003dff"/><stop offset="0.04" stop-color="#004fff"/><stop offset="0.05" stop-color="#0060ff"/><stop offset="0.06" stop-color="#0072ff"/><stop offset="0.07" stop-color="#0083ff"/><stop offset="0.08" stop-color="#0095ff"/><stop offset="0.1" stop-color="#00a6ff"/><stop offset="0.13" stop-color="#00caff"/><stop offset="0.16" stop-color="#00dbff"/><stop offset="0.2" stop-color="#00edff"/><stop offset="0.25" stop-color="#00feff"/><stop offset="0.33" stop-color="#00feff"/><stop offset="0.43" stop-color="#00feff"/><stop offset="0.56" stop-color="#00feff"/><stop offset="0.71" stop-color="#00feff"/><stop offset="1" stop-color="#00feff"/></linearGradient><linearGradient id="r79" gradientUnits="userSpaceOnUse" x1="480.8" y1="0" x2="658.3" y2="0"><stop offset="0" stop-color="#0009ff"/><stop offset="0" stop-color="#0009ff"/><stop offset="0.01" stop-color="#0009ff"/><stop offset="0.01" stop-color="#001aff"/><stop offset="0.02" stop-color="#001aff"/><stop offset="0.02" stop-color="#002cff"/><stop offset="0.03" stop-color="#003dff"/><stop offset="0.04" stop-color="#004fff"/><stop offset="0.05" stop-color="#004fff"/><stop offset="0.06" stop-color="#0060ff"/><stop offset="0.07" stop-color="#0083ff"/><stop offset="0.08" stop-color="#0095ff"/><stop offset="0.1" stop-color="#00a6ff"/><stop offset="0.13" stop-color="#00caff"/><stop offset="0.16" stop-color="#00dbff"/><stop offset="0.2" stop-color="#00edff"/><stop offset="0.25" stop-color="#00edff"/><stop offset="0.33" stop-color="#00feff"/><stop offset="0.43" stop-color="#00feff"/><stop offset="0.56" stop-color="#00feff"/><stop offset="0.71" stop-color="#00feff"/><stop offset="1" stop-color="#00feff"/></linearGradient><linearGradient id="r80" gradientUnits="userSpaceOnUse" x1="480.8" y1="0" x2="658.3" y2="0"><stop offset="0" stop-color="#0009ff"/><stop offset="0" stop-color="#0009ff"/><stop offset="0.01" stop-color="#0009ff"/><stop offset="0.01" stop-color="#001aff"/><stop offset="0.02" stop-color="#001aff"/><stop offset="0.02" stop-color="#002cff"/><stop offset="0.03" stop-color="#003dff"/><stop offset="0.04" stop-color="#003dff"/><stop offset="0.05" stop-color="#004fff"/><stop offset="0.06" stop-color="#0060ff"/><stop offset="0.07" stop-color="#0072ff"/><stop offset="0.08" stop-color="#0095ff"/><stop offset="0.1" stop-color="#00a6ff"/><stop offset="0.13" stop-color="#00b8ff"/><stop offset="0.16" stop-color="#00caff"/><stop offset="0.2" stop-color="#00dbff"/><stop offset="0.25" stop-color="#00edff"/><stop offset="0.33" stop-color="#00edff"/><stop offset="0.43" stop-color="#00edff"/><stop offset="0.56" stop-color="#00edff"/><stop offset="0.71" stop-color="#00edff"/><stop offset="1" stop-color="#00edff"/></linearGradient><linearGradient id="r81" gradientUnits="userSpaceOnUse" x1="480.8" y1="0" x2="658.3" y2="0"><stop offset="0" stop-color="#0009ff"/><stop offset="0" stop-color="#0009ff"/><stop offset="0.01" stop-color="#0009ff"/><stop offset="0.01" stop-color="#001aff"/><stop offset="0.02" stop-color="#001aff"/><stop offset="0.02" stop-color="#002cff"/><stop offset="0.03" stop-color="#003dff"/><stop offset="0.04" stop-color="#003dff"/><stop offset="0.05" stop-color="#004fff"/><stop offset="0.06" stop-color="#0060ff"/><stop offset="0.07" stop-color="#0072ff"/><stop offset="0.08" stop-color="#0083ff"/><stop offset="0.1" stop-color="#00a6ff"/><stop offset="0.13" stop-color="#00b8ff"/><stop offset="0.16" stop-color="#00caff"/><stop offset="0.2" stop-color="#00dbff"/><stop offset="0.25" stop-color="#00edff"/><stop offset="0.33" stop-color="#00edff"/><stop offset="0.43" stop-color="#00edff"/><stop offset="0.56" stop-color="#00edff"/><stop offset="0.71" stop-color="#00edff"/><stop offset="1" stop-color="#00edff"/></linearGradient><linearGradient id="r82" gradientUnits="userSpaceOnUse" x1="480.8" y1="0" x2="658.3" y2="0"><stop offset="0" stop-color="#0009ff"/><stop offset="0" stop-color="#0009ff"/><stop offset="0.01" stop-color="#0009ff"/><stop offset="0.01" stop-color="#001aff"/><stop offset="0.02" stop-color="#001aff"/><stop offset="0.02" stop-color="#002cff"/><stop offset="0.03" stop-color="#002cff"/><stop offset="0.04" stop-color="#003dff"/><stop offset="0.05" stop-color="#004fff"/><stop offset="0.06" stop-color="#0060ff"/><stop offset="0.07" stop-color="#0072ff"/><stop offset="0.08" stop-color="#0083ff"/><stop offset="0.1" stop-color="#0095ff"/><stop offset="0.13" stop-color="#00b8ff"/><stop offset="0.16" stop-color="#00caff"/><stop offset="0.2" stop-color="#00dbff"/><stop offset="0.25" stop-color="#00dbff"/><stop offset="0.33" stop-color="#00edff"/><stop offset="0.43" stop-color="#00edff"/><stop offset="0.56" stop-color="#00edff"/><stop offset="0.71" stop-color="#00edff"/><stop offset="1" stop-color="#00edff"/></linearGradient><linearGradient id="r83" gradientUnits="userSpaceOnUse" x1="480.8" y1="0" x2="658.3" y2="0"><stop offset="0" stop-color="#0009ff"/><stop offset="0" stop-color="#0009ff"/><stop offset="0.01" stop-color="#0009ff"/><stop offset="0.01" stop-color="#001aff"/><stop offset="0.02" stop-color="#001aff"/><stop offset="0.02" stop-color="#002cff"/><stop offset="0.03" stop-color="#002cff"/><stop offset="0.04" stop-color="#003dff"/><stop offset="0.05" stop-color="#004fff"/><stop offset="0.06" stop-color="#0060ff"/><stop offset="0.07" stop-color="#0072ff"/><stop offset="0.08" stop-color="#0083ff"/><stop offset="0.1" stop-color="#0095ff"/><stop offset="0.13" stop-color="#00a6ff"/><stop offset="0.16" stop-color="#00b8ff"/><stop offset="0.2" stop-color="#00caff"/><stop offset="0.25" stop-color="#00dbff"/><stop offset="0.33" stop-color="#00dbff"/><stop offset="0.43" stop-color="#00dbff"/><stop offset="0.56" stop-color="#00dbff"/><stop offset="0.71" stop-color="#00dbff"/><stop offset="1" stop-color="#00dbff"/></linearGradient><linearGradient id="r84" gradientUnits="userSpaceOnUse" x1="480.8" y1="0" x2="658.3" y2="0"><stop offset="0" stop-color="#0009ff"/><stop offset="0" stop-color="#0009ff"/><stop offset="0.01" stop-color="#0009ff"/><stop offset="0.01" stop-color="#0009ff"/><stop offset="0.02" stop-color="#001aff"/><stop offset="0.02" stop-color="#002cff"/><stop offset="0.03" stop-color="#002cff"/><stop offset="0.04" stop-color="#003dff"/><stop offset="0.05" stop-color="#004fff"/><stop offset="0.06" stop-color="#0060ff"/><stop offset="0.07" stop-color="#0072ff"/><stop offset="0.08" stop-color="#0083ff"/><stop offset="0.1" stop-color="#0095ff"/><stop offset="0.13" stop-color="#00a6ff"/><stop offset="0.16" stop-color="#00b8ff"/><stop offset="0.2" stop-color="#00caff"/><stop offset="0.25" stop-color="#00dbff"/><stop offset="0.33" stop-color="#00dbff"/><stop offset="0.43" stop-color="#00dbff"/><stop offset="0.56" stop-color="#00dbff"/><stop offset="0.71" stop-color="#00dbff"/><stop offset="1" stop-color="#00dbff"/></linearGradient><linearGradient id="r85" gradientUnits="userSpaceOnUse" x1="480.8" y1="0" x2="658.3" y2="0"><stop offset="0" stop-color="#0009ff"/><stop offset="0" stop-color="#0009ff"/><stop offset="0.01" stop-color="#0009ff"/><stop offset="0.01" stop-color="#0009ff"/><stop offset="0.02" stop-color="#001aff"/><stop offset="0.02" stop-color="#001aff"/><stop offset="0.03" stop-color="#002cff"/><stop offset="0.04" stop-color="#003dff"/><stop offset="0.05" stop-color="#004fff"/><stop offset="0.06" stop-color="#004fff"/><stop offset="0.07" stop-color="#0060ff"/><stop offset="0.08" stop-color="#0083ff"/><stop offset="0.1" stop-color="#0095ff"/><stop offset="0.13" stop-color="#00a6ff"/><stop offset="0.16" stop-color="#00b8ff"/><stop offset="0.2" stop-color="#00caff"/><stop offset="0.25" stop-color="#00caff"/><stop offset="0.33" stop-color="#00dbff"/><stop offset="0.43" stop-color="#00dbff"/><stop offset="0.56" stop-color="#00dbff"/><stop offset="0.71" stop-color="#00dbff"/><stop offset="1" stop-color="#00dbff"/></linearGradient><linearGradient id="r86" gradientUnits="userSpaceOnUse" x1="480.8" y1="0" x2="658.3" y2="0"><stop offset="0" stop-color="#0009ff"/><stop offset="0" stop-color="#0009ff"/><stop offset="0.01" stop-color="#0009ff"/><stop offset="0.01" stop-color="#0009ff"/><stop offset="0.02" stop-color="#001aff"/><stop offset="0.02" stop-color="#001aff"/><stop offset="0.03" stop-color="#002cff"/><stop offset="0.04" stop-color="#003dff"/><stop offset="0.05" stop-color="#003dff"/><stop offset="0.06" stop-color="#004fff"/><stop offset="0.07" stop-color="#0060ff"/><stop offset="0.08" stop-color="#0072ff"/><stop offset="0.1" stop-color="#0083ff"/><stop offset="0.13" stop-color="#00a6ff"/><stop offset="0.16" stop-color="#00b8ff"/><stop offset="0.2" stop-color="#00b8ff"/><stop offset="0.25" stop-color="#00caff"/><stop offset="0.33" stop-color="#00caff"/><stop offset="0.43" stop-color="#00caff"/><stop offset="0.56" stop-color="#00caff"/><stop offset="0.71" stop-color="#00dbff"/><stop offset="1" stop-color="#00dbff"/></linearGradient><linearGradient id="r87" gradientUnits="userSpaceOnUse" x1="480.8" y1="0" x2="658.3" y2="0"><stop offset="0" stop-color="#0009ff"/><stop offset="0" stop-color="#0009ff"/><stop offset="0.01" stop-color="#0009ff"/><stop offset="0.01" stop-color="#0009ff"/><stop offset="0.02" stop-color="#001aff"/><stop offset="0.02" stop-color="#001aff"/><stop offset="0.03" stop-color="#002cff"/><stop offset="0.04" stop-color="#003dff"/><stop offset="0.05" stop-color="#003dff"/><stop offset="0.06" stop-color="#004fff"/><stop offset="0.07" stop-color="#0060ff"/><stop offset="0.08" stop-color="#0072ff"/><stop offset="0.1" stop-color="#0083ff"/><stop offset="0.13" stop-color="#0095ff"/><stop offset="0.16" stop-color="#00a6ff"/><stop offset="0.2" stop-color="#00b8ff"/><stop offset="0.25" stop-color="#00caff"/><stop offset="0.33" stop-color="#00caff"/><stop offset="0.43" stop-color="#00caff"/><stop offset="0.56" stop-color="#00caff"/><stop offset="0.71" stop-color="#00caff"/><stop offset="1" stop-color="#00caff"/></linearGradient><linearGradient id="r88" gradientUnits="userSpaceOnUse" x1="480.8" y1="0" x2="658.3" y2="0"><stop offset="0" stop-color="#0009ff"/><stop offset="0" stop-color="#0009ff"/><stop offset="0.01" stop-color="#0009ff"/><stop offset="0.01" stop-color="#0009ff"/><stop offset="0.02" stop-color="#001aff"/><stop offset="0.02" stop-color="#001aff"/><stop offset="0.03" stop-color="#002cff"/><stop offset="0.04" stop-color="#002cff"/><stop offset="0.05" stop-color="#003dff"/><stop offset="0.06" stop-color="#004fff"/><stop offset="0.07" stop-color="#0060ff"/><stop offset="0.08" stop-color="#0072ff"/><stop offset="0.1" stop-color="#0083ff"/><stop offset="0.13" stop-color="#0095ff"/><stop offset="0.16" stop-color="#00a6ff"/><stop offset="0.2" stop-color="#00b8ff"/><stop offset="0.25" stop-color="#00b8ff"/><stop offset="0.33" stop-color="#00caff"/><stop offset="0.43" stop-color="#00caff"/><stop offset="0.56" stop-color="#00caff"/><stop offset="0.71" stop-color="#00caff"/><stop offset="1" stop-color="#00caff"/></linearGradient><linearGradient id="r89" gradientUnits="userSpaceOnUse" x1="480.8" y1="0" x2="658.3" y2="0"><stop offset="0" stop-color="#0009ff"/><stop offset="0" stop-color="#0009ff"/><stop offset="0.01" stop-color="#0009ff"/><stop offset="0.01" stop-color="#0009ff"/><stop offset="0.02" stop-color="#001aff"/><stop offset="0.02" stop-color="#001aff"/><stop offset="0.03" stop-color="#002cff"/><stop offset="0.04" stop-color="#002cff"/><stop offset="0.05" stop-color="#003dff"/><stop offset="0.06" stop-color="#004fff"/><stop offset="0.07" stop-color="#0060ff"/><stop offset="0.08" stop-color="#0072ff"/><stop offset="0.1" stop-color="#0083ff"/><stop offset="0.13" stop-color="#0095ff"/><stop offset="0.16" stop-color="#00a6ff"/><stop offset="0.2" stop-color="#00b8ff"/><stop offset="0.25" stop-color="#00b8ff"/><stop offset="0.33" stop-color="#00caff"/><stop offset="0.43" stop-color="#00caff"/><stop offset="0.56" stop-color="#00caff"/><stop offset="0.71" stop-color="#00caff"/><stop offset="1" stop-color="#00caff"/></linearGradient><linearGradient id="r90" gradientUnits="userSpaceOnUse" x1="480.8" y1="0" x2="658.3" y2="0"><stop offset="0" stop-color="#0009ff"/><stop offset="0" stop-color="#0009ff"/><stop offset="0.01" stop-color="#0009ff"/><stop offset="0.01" stop-color="#0009ff"/><stop offset="0.02" stop-color="#001aff"/><stop offset="0.02" stop-color="#001aff"/><stop offset="0.03" stop-color="#002cff"/><stop offset="0.04" stop-color="#002cff"/><stop offset="0.05" stop-color="#003dff"/><stop offset="0.06" stop-color="#004fff"/><stop offset="0.07" stop-color="#004fff"/><stop offset="0.08" stop-color="#0060ff"/><stop offset="0.1" stop-color="#0072ff"/><stop offset="0.13" stop-color="#0083ff"/><stop offset="0.16" stop-color="#0095ff"/><stop offset="0.2" stop-color="#00a6ff"/><stop offset="0.25" stop-color="#00b8ff"/><stop offset="0.33" stop-color="#00b8ff"/><stop offset="0.43" stop-color="#00b8ff"/><stop offset="0.56" stop-color="#00b8ff"/><stop offset="0.71" stop-color="#00b8ff"/><stop offset="1" stop-color="#00b8ff"/></linearGradient><linearGradient id="r91" gradientUnits="userSpaceOnUse" x1="480.8" y1="0" x2="658.3" y2="0"><stop offset="0" stop-color="#0009ff"/><stop offset="0" stop-color="#0009ff"/><stop offset="0.01" stop-color="#0009ff"/><stop offset="0.01" stop-color="#0009ff"/><stop offset="0.02" stop-color="#001aff"/><stop offset="0.02" stop-color="#001aff"/><stop offset="0.03" stop-color="#002cff"/><stop offset="0.04" stop-color="#002cff"/><stop offset="0.05" stop-color="#003dff"/><stop offset="0.06" stop-color="#003dff"/><stop offset="0.07" stop-color="#004fff"/><stop offset="0.08" stop-color="#0060ff"/><stop offset="0.1" stop-color="#0072ff"/><stop offset="0.13" stop-color="#0083ff"/><stop offset="0.16" stop-color="#0095ff"/><stop offset="0.2" stop-color="#00a6ff"/><stop offset="0.25" stop-color="#00b8ff"/><stop offset="0.33" stop-color="#00b8ff"/><stop offset="0.43" stop-color="#00b8ff"/><stop offset="0.56" stop-color="#00b8ff"/><stop offset="0.71" stop-color="#00b8ff"/><stop offset="1" stop-color="#00b8ff"/></linearGradient><linearGradient id="r92" gradientUnits="userSpaceOnUse" x1="480.8" y1="0" x2="658.3" y2="0"><stop offset="0" stop-color="#0009ff"/><stop offset="0" stop-color="#0009ff"/><stop offset="0.01" stop-color="#0009ff"/><stop offset="0.01" stop-color="#0009ff"/><stop offset="0.02" stop-color="#001aff"/><stop offset="0.02" stop-color="#001aff"/><stop offset="0.03" stop-color="#001aff"/><stop offset="0.04" stop-color="#002cff"/><stop offset="0.05" stop-color="#003dff"/><stop offset="0.06" stop-color="#003dff"/><stop offset="0.07" stop-color="#004fff"/><stop offset="0.08" stop-color="#0060ff"/><stop offset="0.1" stop-color="#0072ff"/><stop offset="0.13" stop-color="#0083ff"/><stop offset="0.16" stop-color="#0095ff"/><stop offset="0.2" stop-color="#00a6ff"/><stop offset="0.25" stop-color="#00a6ff"/><stop offset="0.33" stop-color="#00b8ff"/><stop offset="0.43" stop-color="#00b8ff"/><stop offset="0.56" stop-color="#00b8ff"/><stop offset="0.71" stop-color="#00b8ff"/><stop offset="1" stop-color="#00b8ff"/></linearGradient><linearGradient id="r93" gradientUnits="userSpaceOnUse" x1="480.8" y1="0" x2="658.3" y2="0"><stop offset="0" stop-color="#0009ff"/><stop offset="0" stop-color="#0009ff"/><stop offset="0.01" stop-color="#0009ff"/><stop offset="0.01" stop-color="#0009ff"/><stop offset="0.02" stop-color="#001aff"/><stop offset="0.02" stop-color="#001aff"/><stop offset="0.03" stop-color="#001aff"/><stop offset="0.04" stop-color="#002cff"/><stop offset="0.05" stop-color="#002cff"/><stop offset="0.06" stop-color="#003dff"/><stop offset="0.07" stop-color="#004fff"/><stop offset="0.08" stop-color="#0060ff"/><stop offset="0.1" stop-color="#0072ff"/><stop offset="0.13" stop-color="#0083ff"/><stop offset="0.16" stop-color="#0095ff"/><stop offset="0.2" stop-color="#0095ff"/><stop offset="0.25" stop-color="#00a6ff"/><stop offset="0.33" stop-color="#00a6ff"/><stop offset="0.43" stop-color="#00b8ff"/><stop offset="0.56" stop-color="#00b8ff"/><stop offset="0.71" stop-color="#00b8ff"/><stop offset="1" stop-color="#00b8ff"/></linearGradient><linearGradient id="r94" gradientUnits="userSpaceOnUse" x1="480.8" y1="0" x2="658.3" y2="0"><stop offset="0" stop-color="#0009ff"/><stop offset="0" stop-color="#0009ff"/><stop offset="0.01" stop-color="#0009ff"/><stop offset="0.01" stop-color="#0009ff"/><stop offset="0.02" stop-color="#0009ff"/><stop offset="0.02" stop-color="#001aff"/><stop offset="0.03" stop-color="#001aff"/><stop offset="0.04" stop-color="#002cff"/><stop offset="0.05" stop-color="#002cff"/><stop offset="0.06" stop-color="#003dff"/><stop offset="0.07" stop-color="#004fff"/><stop offset="0.08" stop-color="#0060ff"/><stop offset="0.1" stop-color="#0060ff"/><stop offset="0.13" stop-color="#0072ff"/><stop offset="0.16" stop-color="#0083ff"/><stop offset="0.2" stop-color="#0095ff"/><stop offset="0.25" stop-color="#00a6ff"/><stop offset="0.33" stop-color="#00a6ff"/><stop offset="0.43" stop-color="#00a6ff"/><stop offset="0.56" stop-color="#00a6ff"/><stop offset="0.71" stop-color="#00a6ff"/><stop offset="1" stop-color="#00a6ff"/></linearGradient><linearGradient id="r95" gradientUnits="userSpaceOnUse" x1="480.8" y1="0" x2="658.3" y2="0"><stop offset="0" stop-color="#0009ff"/><stop offset="0" stop-color="#0009ff"/><stop offset="0.01" stop-color="#0009ff"/><stop offset="0.01" stop-color="#0009ff"/><stop offset="0.02" stop-color="#0009ff"/><stop offset="0.02" stop-color="#001aff"/><stop offset="0.03" stop-color="#001aff"/><stop offset="0.04" stop-color="#002cff"/><stop offset="0.05" stop-color="#002cff"/><stop offset="0.06" stop-color="#003dff"/><stop offset="0.07" stop-color="#004fff"/><stop offset="0.08" stop-color="#004fff"/><stop offset="0.1" stop-color="#0060ff"/><stop offset="0.13" stop-color="#0072ff"/><stop offset="0.16" stop-color="#0083ff"/><stop offset="0.2" stop-color="#0095ff"/><stop offset="0.25" stop-color="#0095ff"/><stop offset="0.33" stop-color="#00a6ff"/><stop offset="0.43" stop-color="#00a6ff"/><stop offset="0.56" stop-color="#00a6ff"/><stop offset="0.71" stop-color="#00a6ff"/><stop offset="1" stop-color="#00a6ff"/></linearGradient><linearGradient id="r96" gradientUnits="userSpaceOnUse" x1="480.8" y1="0" x2="658.3" y2="0"><stop offset="0" stop-color="#0009ff"/><stop offset="0" stop-color="#0009ff"/><stop offset="0.01" stop-color="#0009ff"/><stop offset="0.01" stop-color="#0009ff"/><stop offset="0.02" stop-color="#0009ff"/><stop offset="0.02" stop-color="#001aff"/><stop offset="0.03" stop-color="#001aff"/><stop offset="0.04" stop-color="#002cff"/><stop offset="0.05" stop-color="#002cff"/><stop offset="0.06" stop-color="#003dff"/><stop offset="0.07" stop-color="#003dff"/><stop offset="0.08" stop-color="#004fff"/><stop offset="0.1" stop-color="#0060ff"/><stop offset="0.13" stop-color="#0072ff"/><stop offset="0.16" stop-color="#0083ff"/><stop offset="0.2" stop-color="#0095ff"/><stop offset="0.25" stop-color="#0095ff"/><stop offset="0.33" stop-color="#00a6ff"/><stop offset="0.43" stop-color="#00a6ff"/><stop offset="0.56" stop-color="#00a6ff"/><stop offset="0.71" stop-color="#00a6ff"/><stop offset="1" stop-color="#00a6ff"/></linearGradient><linearGradient id="r97" gradientUnits="userSpaceOnUse" x1="480.8" y1="0" x2="658.3" y2="0"><stop offset="0" stop-color="#0009ff"/><stop offset="0" stop-color="#0009ff"/><stop offset="0.01" stop-color="#0009ff"/><stop offset="0.01" stop-color="#0009ff"/><stop offset="0.02" stop-color="#0009ff"/><stop offset="0.02" stop-color="#001aff"/><stop offset="0.03" stop-color="#001aff"/><stop offset="0.04" stop-color="#002cff"/><stop offset="0.05" stop-color="#002cff"/><stop offset="0.06" stop-color="#003dff"/><stop offset="0.07" stop-color="#003dff"/><stop offset="0.08" stop-color="#004fff"/><stop offset="0.1" stop-color="#0060ff"/><stop offset="0.13" stop-color="#0072ff"/><stop offset="0.16" stop-color="#0083ff"/><stop offset="0.2" stop-color="#0083ff"/><stop offset="0.25" stop-color="#0095ff"/><stop offset="0.33" stop-color="#0095ff"/><stop offset="0.43" stop-color="#0095ff"/><stop offset="0.56" stop-color="#0095ff"/><stop offset="0.71" stop-color="#0095ff"/><stop offset="1" stop-color="#0095ff"/></linearGradient><linearGradient id="r98" gradientUnits="userSpaceOnUse" x1="480.8" y1="0" x2="658.3" y2="0"><stop offset="0" stop-color="#0009ff"/><stop offset="0" stop-color="#0009ff"/><stop offset="0.01" stop-color="#0009ff"/><stop offset="0.01" stop-color="#0009ff"/><stop offset="0.02" stop-color="#0009ff"/><stop offset="0.02" stop-color="#001aff"/><stop offset="0.03" stop-color="#001aff"/><stop offset="0.04" stop-color="#001aff"/><stop offset="0.05" stop-color="#002cff"/><stop offset="0.06" stop-color="#002cff"/><stop offset="0.07" stop-color="#003dff"/><stop offset="0.08" stop-color="#004fff"/><stop offset="0.1" stop-color="#0060ff"/><stop offset="0.13" stop-color="#0072ff"/><stop offset="0.16" stop-color="#0072ff"/><stop offset="0.2" stop-color="#0083ff"/><stop offset="0.25" stop-color="#0095ff"/><stop offset="0.33" stop-color="#0095ff"/><stop offset="0.43" stop-color="#0095ff"/><stop offset="0.56" stop-color="#0095ff"/><stop offset="0.71" stop-color="#0095ff"/><stop offset="1" stop-color="#0095ff"/></linearGradient><linearGradient id="r99" gradientUnits="userSpaceOnUse" x1="480.8" y1="0" x2="658.3" y2="0"><stop offset="0" stop-color="#0009ff"/><stop offset="0" stop-color="#0009ff"/><stop offset="0.01" stop-color="#0009ff"/><stop offset="0.01" stop-color="#0009ff"/><stop offset="0.02" stop-color="#0009ff"/><stop offset="0.02" stop-color="#001aff"/><stop offset="0.03" stop-color="#001aff"/><stop offset="0.04" stop-color="#001aff"/><stop offset="0.05" stop-color="#002cff"/><stop offset="0.06" stop-color="#002cff"/><stop offset="0.07" stop-color="#003dff"/><stop offset="0.08" stop-color="#004fff"/><stop offset="0.1" stop-color="#004fff"/><stop offset="0.13" stop-color="#0060ff"/><stop offset="0.16" stop-color="#0072ff"/><stop offset="0.2" stop-color="#0083ff"/><stop offset="0.25" stop-color="#0083ff"/><stop offset="0.33" stop-color="#0095ff"/><stop offset="0.43" stop-color="#0095ff"/><stop offset="0.56" stop-color="#0095ff"/><stop offset="0.71" stop-color="#0095ff"/><stop offset="1" stop-color="#0095ff"/></linearGradient><linearGradient id="r100" gradientUnits="userSpaceOnUse" x1="480.8" y1="0" x2="658.3" y2="0"><stop offset="0" stop-color="#0009ff"/><stop offset="0" stop-color="#0009ff"/><stop offset="0.01" stop-color="#0009ff"/><stop offset="0.01" stop-color="#0009ff"/><stop offset="0.02" stop-color="#0009ff"/><stop offset="0.02" stop-color="#001aff"/><stop offset="0.03" stop-color="#001aff"/><stop offset="0.04" stop-color="#001aff"/><stop offset="0.05" stop-color="#002cff"/><stop offset="0.06" stop-color="#002cff"/><stop offset="0.07" stop-color="#003dff"/><stop offset="0.08" stop-color="#004fff"/><stop offset="0.1" stop-color="#004fff"/><stop offset="0.13" stop-color="#0060ff"/><stop offset="0.16" stop-color="#0072ff"/><stop offset="0.2" stop-color="#0083ff"/><stop offset="0.25" stop-color="#0083ff"/><stop offset="0.33" stop-color="#0095ff"/><stop offset="0.43" stop-color="#0095ff"/><stop offset="0.56" stop-color="#0095ff"/><stop offset="0.71" stop-color="#0095ff"/><stop offset="1" stop-color="#0095ff"/></linearGradient><linearGradient id="r101" gradientUnits="userSpaceOnUse" x1="480.8" y1="0" x2="658.3" y2="0"><stop offset="0" stop-color="#0009ff"/><stop offset="0" stop-color="#0009ff"/><stop offset="0.01" stop-color="#0009ff"/><stop offset="0.01" stop-color="#0009ff"/><stop offset="0.02" stop-color="#0009ff"/><stop offset="0.02" stop-color="#001aff"/><stop offset="0.03" stop-color="#001aff"/><stop offset="0.04" stop-color="#001aff"/><stop offset="0.05" stop-color="#002cff"/><stop offset="0.06" stop-color="#002cff"/><stop offset="0.07" stop-color="#003dff"/><stop offset="0.08" stop-color="#003dff"/><stop offset="0.1" stop-color="#004fff"/><stop offset="0.13" stop-color="#0060ff"/><stop offset="0.16" stop-color="#0072ff"/><stop offset="0.2" stop-color="#0072ff"/><stop offset="0.25" stop-color="#0083ff"/><stop offset="0.33" stop-color="#0083ff"/><stop offset="0.43" stop-color="#0083ff"/><stop offset="0.56" stop-color="#0083ff"/><stop offset="0.71" stop-color="#0095ff"/><stop offset="1" stop-color="#0095ff"/></linearGradient><linearGradient id="r102" gradientUnits="userSpaceOnUse" x1="480.8" y1="0" x2="658.3" y2="0"><stop offset="0" stop-color="#0009ff"/><stop offset="0" stop-color="#0009ff"/><stop offset="0.01" stop-color="#0009ff"/><stop offset="0.01" stop-color="#0009ff"/><stop offset="0.02" stop-color="#0009ff"/><stop offset="0.02" stop-color="#0009ff"/><stop offset="0.03" stop-color="#001aff"/><stop offset="0.04" stop-color="#001aff"/><stop offset="0.05" stop-color="#002cff"/><stop offset="0.06" stop-color="#002cff"/><stop offset="0.07" stop-color="#003dff"/><stop offset="0.08" stop-color="#003dff"/><stop offset="0.1" stop-color="#004fff"/><stop offset="0.13" stop-color="#0060ff"/><stop offset="0.16" stop-color="#0060ff"/><stop offset="0.2" stop-color="#0072ff"/><stop offset="0.25" stop-color="#0083ff"/><stop offset="0.33" stop-color="#0083ff"/><stop offset="0.43" stop-color="#0083ff"/><stop offset="0.56" stop-color="#0083ff"/><stop offset="0.71" stop-color="#0083ff"/><stop offset="1" stop-color="#0083ff"/></linearGradient><linearGradient id="r103" gradientUnits="userSpaceOnUse" x1="480.8" y1="0" x2="658.3" y2="0"><stop offset="0" stop-color="#0009ff"/><stop offset="0" stop-color="#0009ff"/><stop offset="0.01" stop-color="#0009ff"/><stop offset="0.01" stop-color="#0009ff"/><stop offset="0.02" stop-color="#0009ff"/><stop offset="0.02" stop-color="#0009ff"/><stop offset="0.03" stop-color="#001aff"/><stop offset="0.04" stop-color="#001aff"/><stop offset="0.05" stop-color="#001aff"/><stop offset="0.06" stop-color="#002cff"/><stop offset="0.07" stop-color="#002cff"/><stop offset="0.08" stop-color="#003dff"/><stop offset="0.1" stop-color="#004fff"/><stop offset="0.13" stop-color="#004fff"/><stop offset="0.16" stop-color="#0060ff"/><stop offset="0.2" stop-color="#0072ff"/><stop offset="0.25" stop-color="#0072ff"/><stop offset="0.33" stop-color="#0083ff"/><stop offset="0.43" stop-color="#0083ff"/><stop offset="0.56" stop-color="#0083ff"/><stop offset="0.71" stop-color="#0083ff"/><stop offset="1" stop-color="#0083ff"/></linearGradient><linearGradient id="r104" gradientUnits="userSpaceOnUse" x1="480.8" y1="0" x2="658.3" y2="0"><stop offset="0" stop-color="#0009ff"/><stop offset="0" stop-color="#0009ff"/><stop offset="0.01" stop-color="#0009ff"/><stop offset="0.01" stop-color="#0009ff"/><stop offset="0.02" stop-color="#0009ff"/><stop offset="0.02" stop-color="#0009ff"/><stop offset="0.03" stop-color="#001aff"/><stop offset="0.04" stop-color="#001aff"/><stop offset="0.05" stop-color="#001aff"/><stop offset="0.06" stop-color="#002cff"/><stop offset="0.07" stop-color="#002cff"/><stop offset="0.08" stop-color="#003dff"/><stop offset="0.1" stop-color="#004fff"/><stop offset="0.13" stop-color="#004fff"/><stop offset="0.16" stop-color="#0060ff"/><stop offset="0.2" stop-color="#0072ff"/><stop offset="0.25" stop-color="#0072ff"/><stop offset="0.33" stop-color="#0083ff"/><stop offset="0.43" stop-color="#0083ff"/><stop offset="0.56" stop-color="#0083ff"/><stop offset="0.71" stop-color="#0083ff"/><stop offset="1" stop-color="#0083ff"/></linearGradient><linearGradient id="r105" gradientUnits="userSpaceOnUse" x1="480.8" y1="0" x2="658.3" y2="0"><stop offset="0" stop-color="#0009ff"/><stop offset="0" stop-color="#0009ff"/><stop offset="0.01" stop-color="#0009ff"/><stop offset="0.01" stop-color="#0009ff"/><stop offset="0.02" stop-color="#0009ff"/><stop offset="0.02" stop-color="#0009ff"/><stop offset="0.03" stop-color="#001aff"/><stop offset="0.04" stop-color="#001aff"/><stop offset="0.05" stop-color="#001aff"/><stop offset="0.06" stop-color="#002cff"/><stop offset="0.07" stop-color="#002cff"/><stop offset="0.08" stop-color="#003dff"/><stop offset="0.1" stop-color="#003dff"/><stop offset="0.13" stop-color="#004fff"/><stop offset="0.16" stop-color="#0060ff"/><stop offset="0.2" stop-color="#0060ff"/><stop offset="0.25" stop-color="#0072ff"/><stop offset="0.33" stop-color="#0072ff"/><stop offset="0.43" stop-color="#0083ff"/><stop offset="0.56" stop-color="#0083ff"/><stop offset="0.71" stop-color="#0083ff"/><stop offset="1" stop-color="#0083ff"/></linearGradient><linearGradient id="r106" gradientUnits="userSpaceOnUse" x1="480.8" y1="0" x2="658.3" y2="0"><stop offset="0" stop-color="#0009ff"/><stop offset="0" stop-color="#0009ff"/><stop offset="0.01" stop-color="#0009ff"/><stop offset="0.01" stop-color="#0009ff"/><stop offset="0.02" stop-color="#0009ff"/><stop offset="0.02" stop-color="#0009ff"/><stop offset="0.03" stop-color="#001aff"/><stop offset="0.04" stop-color="#001aff"/><stop offset="0.05" stop-color="#001aff"/><stop offset="0.06" stop-color="#002cff"/><stop offset="0.07" stop-color="#002cff"/><stop offset="0.08" stop-color="#003dff"/><stop offset="0.1" stop-color="#003dff"/><stop offset="0.13" stop-color="#004fff"/><stop offset="0.16" stop-color="#0060ff"/><stop offset="0.2" stop-color="#0060ff"/><stop offset="0.25" stop-color="#0072ff"/><stop offset="0.33" stop-color="#0072ff"/><stop offset="0.43" stop-color="#0072ff"/><stop offset="0.56" stop-color="#0072ff"/><stop offset="0.71" stop-color="#0072ff"/><stop offset="1" stop-color="#0072ff"/></linearGradient><linearGradient id="r107" gradientUnits="userSpaceOnUse" x1="480.8" y1="0" x2="658.3" y2="0"><stop offset="0" stop-color="#0009ff"/><stop offset="0" stop-color="#0009ff"/><stop offset="0.01" stop-color="#0009ff"/><stop offset="0.01" stop-color="#0009ff"/><stop offset="0.02" stop-color="#0009ff"/><stop offset="0.02" stop-color="#0009ff"/><stop offset="0.03" stop-color="#001aff"/><stop offset="0.04" stop-color="#001aff"/><stop offset="0.05" stop-color="#001aff"/><stop offset="0.06" stop-color="#002cff"/><stop offset="0.07" stop-color="#002cff"/><stop offset="0.08" stop-color="#002cff"/><stop offset="0.1" stop-color="#003dff"/><stop offset="0.13" stop-color="#004fff"/><stop offset="0.16" stop-color="#004fff"/><stop offset="0.2" stop-color="#0060ff"/><stop offset="0.25" stop-color="#0072ff"/><stop offset="0.33" stop-color="#0072ff"/><stop offset="0.43" stop-color="#0072ff"/><stop offset="0.56" stop-color="#0072ff"/><stop offset="0.71" stop-color="#0072ff"/><stop offset="1" stop-color="#0072ff"/></linearGradient><linearGradient id="r108" gradientUnits="userSpaceOnUse" x1="480.8" y1="0" x2="658.3" y2="0"><stop offset="0" stop-color="#0009ff"/><stop offset="0" stop-color="#0009ff"/><stop offset="0.01" stop-color="#0009ff"/><stop offset="0.01" stop-color="#0009ff"/><stop offset="0.02" stop-color="#0009ff"/><stop offset="0.02" stop-color="#0009ff"/><stop offset="0.03" stop-color="#0009ff"/><stop offset="0.04" stop-color="#001aff"/><stop offset="0.05" stop-color="#001aff"/><stop offset="0.06" stop-color="#001aff"/><stop offset="0.07" stop-color="#002cff"/><stop offset="0.08" stop-color="#002cff"/><stop offset="0.1" stop-color="#003dff"/><stop offset="0.13" stop-color="#004fff"/><stop offset="0.16" stop-color="#004fff"/><stop offset="0.2" stop-color="#0060ff"/><stop offset="0.25" stop-color="#0060ff"/><stop offset="0.33" stop-color="#0072ff"/><stop offset="0.43" stop-color="#0072ff"/><stop offset="0.56" stop-color="#0072ff"/><stop offset="0.71" stop-color="#0072ff"/><stop offset="1" stop-color="#0072ff"/></linearGradient><linearGradient id="r109" gradientUnits="userSpaceOnUse" x1="480.8" y1="0" x2="658.3" y2="0"><stop offset="0" stop-color="#0009ff"/><stop offset="0" stop-color="#0009ff"/><stop offset="0.01" stop-color="#0009ff"/><stop offset="0.01" stop-color="#0009ff"/><stop offset="0.02" stop-color="#0009ff"/><stop offset="0.02" stop-color="#0009ff"/><stop offset="0.03" stop-color="#0009ff"/><stop offset="0.04" stop-color="#001aff"/><stop offset="0.05" stop-color="#001aff"/><stop offset="0.06" stop-color="#001aff"/><stop offset="0.07" stop-color="#002cff"/><stop offset="0.08" stop-color="#002cff"/><stop offset="0.1" stop-color="#003dff"/><stop offset="0.13" stop-color="#003dff"/><stop offset="0.16" stop-color="#004fff"/><stop offset="0.2" stop-color="#0060ff"/><stop offset="0.25" stop-color="#0060ff"/><stop offset="0.33" stop-color="#0060ff"/><stop offset="0.43" stop-color="#0072ff"/><stop offset="0.56" stop-color="#0072ff"/><stop offset="0.71" stop-color="#0072ff"/><stop offset="1" stop-color="#0072ff"/></linearGradient><linearGradient id="r110" gradientUnits="userSpaceOnUse" x1="480.8" y1="0" x2="658.3" y2="0"><stop offset="0" stop-color="#0009ff"/><stop offset="0" stop-color="#0009ff"/><stop offset="0.01" stop-color="#0009ff"/><stop offset="0.01" stop-color="#0009ff"/><stop offset="0.02" stop-color="#0009ff"/><stop offset="0.02" stop-color="#0009ff"/><stop offset="0.03" stop-color="#0009ff"/><stop offset="0.04" stop-color="#001aff"/><stop offset="0.05" stop-color="#001aff"/><stop offset="0.06" stop-color="#001aff"/><stop offset="0.07" stop-color="#002cff"/><stop offset="0.08" stop-color="#002cff"/><stop offset="0.1" stop-color="#003dff"/><stop offset="0.13" stop-color="#003dff"/><stop offset="0.16" stop-color="#004fff"/><stop offset="0.2" stop-color="#004fff"/><stop offset="0.25" stop-color="#0060ff"/><stop offset="0.33" stop-color="#0060ff"/><stop offset="0.43" stop-color="#0060ff"/><stop offset="0.56" stop-color="#0060ff"/><stop offset="0.71" stop-color="#0060ff"/><stop offset="1" stop-color="#0060ff"/></linearGradient><linearGradient id="r111" gradientUnits="userSpaceOnUse" x1="480.8" y1="0" x2="658.3" y2="0"><stop offset="0" stop-color="#0009ff"/><stop offset="0" stop-color="#0009ff"/><stop offset="0.01" stop-color="#0009ff"/><stop offset="0.01" stop-color="#0009ff"/><stop offset="0.02" stop-color="#0009ff"/><stop offset="0.02" stop-color="#0009ff"/><stop offset="0.03" stop-color="#0009ff"/><stop offset="0.04" stop-color="#001aff"/><stop offset="0.05" stop-color="#001aff"/><stop offset="0.06" stop-color="#001aff"/><stop offset="0.07" stop-color="#002cff"/><stop offset="0.08" stop-color="#002cff"/><stop offset="0.1" stop-color="#002cff"/><stop offset="0.13" stop-color="#003dff"/><stop offset="0.16" stop-color="#004fff"/><stop offset="0.2" stop-color="#004fff"/><stop offset="0.25" stop-color="#0060ff"/><stop offset="0.33" stop-color="#0060ff"/><stop offset="0.43" stop-color="#0060ff"/><stop offset="0.56" stop-color="#0060ff"/><stop offset="0.71" stop-color="#0060ff"/><stop offset="1" stop-color="#0060ff"/></linearGradient><linearGradient id="r112" gradientUnits="userSpaceOnUse" x1="480.8" y1="0" x2="658.3" y2="0"><stop offset="0" stop-color="#0009ff"/><stop offset="0" stop-color="#0009ff"/><stop offset="0.01" stop-color="#0009ff"/><stop offset="0.01" stop-color="#0009ff"/><stop offset="0.02" stop-color="#0009ff"/><stop offset="0.02" stop-color="#0009ff"/><stop offset="0.03" stop-color="#0009ff"/><stop offset="0.04" stop-color="#001aff"/><stop offset="0.05" stop-color="#001aff"/><stop offset="0.06" stop-color="#001aff"/><stop offset="0.07" stop-color="#001aff"/><stop offset="0.08" stop-color="#002cff"/><stop offset="0.1" stop-color="#002cff"/><stop offset="0.13" stop-color="#003dff"/><stop offset="0.16" stop-color="#003dff"/><stop offset="0.2" stop-color="#004fff"/><stop offset="0.25" stop-color="#004fff"/><stop offset="0.33" stop-color="#0060ff"/><stop offset="0.43" stop-color="#0060ff"/><stop offset="0.56" stop-color="#0060ff"/><stop offset="0.71" stop-color="#0060ff"/><stop offset="1" stop-color="#0060ff"/></linearGradient><linearGradient id="r113" gradientUnits="userSpaceOnUse" x1="480.8" y1="0" x2="658.3" y2="0"><stop offset="0" stop-color="#0009ff"/><stop offset="0" stop-color="#0009ff"/><stop offset="0.01" stop-color="#0009ff"/><stop offset="0.01" stop-color="#0009ff"/><stop offset="0.02" stop-color="#0009ff"/><stop offset="0.02" stop-color="#0009ff"/><stop offset="0.03" stop-color="#0009ff"/><stop offset="0.04" stop-color="#0009ff"/><stop offset="0.05" stop-color="#001aff"/><stop offset="0.06" stop-color="#001aff"/><stop offset="0.07" stop-color="#001aff"/><stop offset="0.08" stop-color="#002cff"/><stop offset="0.1" stop-color="#002cff"/><stop offset="0.13" stop-color="#003dff"/><stop offset="0.16" stop-color="#003dff"/><stop offset="0.2" stop-color="#004fff"/><stop offset="0.25" stop-color="#004fff"/><stop offset="0.33" stop-color="#0060ff"/><stop offset="0.43" stop-color="#0060ff"/><stop offset="0.56" stop-color="#0060ff"/><stop offset="0.71" stop-color="#0060ff"/><stop offset="1" stop-color="#0060ff"/></linearGradient><linearGradient id="r114" gradientUnits="userSpaceOnUse" x1="480.8" y1="0" x2="658.3" y2="0"><stop offset="0" stop-color="#0009ff"/><stop offset="0" stop-color="#0009ff"/><stop offset="0.01" stop-color="#0009ff"/><stop offset="0.01" stop-color="#0009ff"/><stop offset="0.02" stop-color="#0009ff"/><stop offset="0.02" stop-color="#0009ff"/><stop offset="0.03" stop-color="#0009ff"/><stop offset="0.04" stop-color="#0009ff"/><stop offset="0.05" stop-color="#001aff"/><stop offset="0.06" stop-color="#001aff"/><stop offset="0.07" stop-color="#001aff"/><stop offset="0.08" stop-color="#002cff"/><stop offset="0.1" stop-color="#002cff"/><stop offset="0.13" stop-color="#003dff"/><stop offset="0.16" stop-color="#003dff"/><stop offset="0.2" stop-color="#004fff"/><stop offset="0.25" stop-color="#004fff"/><stop offset="0.33" stop-color="#004fff"/><stop offset="0.43" stop-color="#0060ff"/><stop offset="0.56" stop-color="#0060ff"/><stop offset="0.71" stop-color="#0060ff"/><stop offset="1" stop-color="#0060ff"/></linearGradient><linearGradient id="r115" gradientUnits="userSpaceOnUse" x1="480.8" y1="0" x2="658.3" y2="0"><stop offset="0" stop-color="#0009ff"/><stop offset="0" stop-color="#0009ff"/><stop offset="0.01" stop-color="#0009ff"/><stop offset="0.01" stop-color="#0009ff"/><stop offset="0.02" stop-color="#0009ff"/><stop offset="0.02" stop-color="#0009ff"/><stop offset="0.03" stop-color="#0009ff"/><stop offset="0.04" stop-color="#0009ff"/><stop offset="0.05" stop-color="#001aff"/><stop offset="0.06" stop-color="#001aff"/><stop offset="0.07" stop-color="#001aff"/><stop offset="0.08" stop-color="#001aff"/><stop offset="0.1" stop-color="#002cff"/><stop offset="0.13" stop-color="#002cff"/><stop offset="0.16" stop-color="#003dff"/><stop offset="0.2" stop-color="#003dff"/><stop offset="0.25" stop-color="#004fff"/><stop offset="0.33" stop-color="#004fff"/><stop offset="0.43" stop-color="#004fff"/><stop offset="0.56" stop-color="#004fff"/><stop offset="0.71" stop-color="#0060ff"/><stop offset="1" stop-color="#0060ff"/></linearGradient><linearGradient id="r116" gradientUnits="userSpaceOnUse" x1="480.8" y1="0" x2="658.3" y2="0"><stop offset="0" stop-color="#0009ff"/><stop offset="0" stop-color="#0009ff"/><stop offset="0.01" stop-color="#0009ff"/><stop offset="0.01" stop-color="#0009ff"/><stop offset="0.02" stop-color="#0009ff"/><stop offset="0.02" stop-color="#0009ff"/><stop offset="0.03" stop-color="#0009ff"/><stop offset="0.04" stop-color="#0009ff"/><stop offset="0.05" stop-color="#001aff"/><stop offset="0.06" stop-color="#001aff"/><stop offset="0.07" stop-color="#001aff"/><stop offset="0.08" stop-color="#001aff"/><stop offset="0.1" stop-color="#002cff"/><stop offset="0.13" stop-color="#002cff"/><stop offset="0.16" stop-color="#003dff"/><stop offset="0.2" stop-color="#003dff"/><stop offset="0.25" stop-color="#004fff"/><stop offset="0.33" stop-color="#004fff"/><stop offset="0.43" stop-color="#004fff"/><stop offset="0.56" stop-color="#004fff"/><stop offset="0.71" stop-color="#004fff"/><stop offset="1" stop-color="#004fff"/></linearGradient><linearGradient id="r117" gradientUnits="userSpaceOnUse" x1="480.8" y1="0" x2="658.3" y2="0"><stop offset="0" stop-color="#0009ff"/><stop offset="0" stop-color="#0009ff"/><stop offset="0.01" stop-color="#0009ff"/><stop offset="0.01" stop-color="#0009ff"/><stop offset="0.02" stop-color="#0009ff"/><stop offset="0.02" stop-color="#0009ff"/><stop offset="0.03" stop-color="#0009ff"/><stop offset="0.04" stop-color="#0009ff"/><stop offset="0.05" stop-color="#0009ff"/><stop offset="0.06" stop-color="#001aff"/><stop offset="0.07" stop-color="#001aff"/><stop offset="0.08" stop-color="#001aff"/><stop offset="0.1" stop-color="#002cff"/><stop offset="0.13" stop-color="#002cff"/><stop offset="0.16" stop-color="#003dff"/><stop offset="0.2" stop-color="#003dff"/><stop offset="0.25" stop-color="#003dff"/><stop offset="0.33" stop-color="#004fff"/><stop offset="0.43" stop-color="#004fff"/><stop offset="0.56" stop-color="#004fff"/><stop offset="0.71" stop-color="#004fff"/><stop offset="1" stop-color="#004fff"/></linearGradient><linearGradient id="r118" gradientUnits="userSpaceOnUse" x1="480.8" y1="0" x2="658.3" y2="0"><stop offset="0" stop-color="#0009ff"/><stop offset="0" stop-color="#0009ff"/><stop offset="0.01" stop-color="#0009ff"/><stop offset="0.01" stop-color="#0009ff"/><stop offset="0.02" stop-color="#0009ff"/><stop offset="0.02" stop-color="#0009ff"/><stop offset="0.03" stop-color="#0009ff"/><stop offset="0.04" stop-color="#0009ff"/><stop offset="0.05" stop-color="#0009ff"/><stop offset="0.06" stop-color="#001aff"/><stop offset="0.07" stop-color="#001aff"/><stop offset="0.08" stop-color="#001aff"/><stop offset="0.1" stop-color="#002cff"/><stop offset="0.13" stop-color="#002cff"/><stop offset="0.16" stop-color="#002cff"/><stop offset="0.2" stop-color="#003dff"/><stop offset="0.25" stop-color="#003dff"/><stop offset="0.33" stop-color="#004fff"/><stop offset="0.43" stop-color="#004fff"/><stop offset="0.56" stop-color="#004fff"/><stop offset="0.71" stop-color="#004fff"/><stop offset="1" stop-color="#004fff"/></linearGradient><linearGradient id="r119" gradientUnits="userSpaceOnUse" x1="480.8" y1="0" x2="658.3" y2="0"><stop offset="0" stop-color="#0009ff"/><stop offset="0" stop-color="#0009ff"/><stop offset="0.01" stop-color="#0009ff"/><stop offset="0.01" stop-color="#0009ff"/><stop offset="0.02" stop-color="#0009ff"/><stop offset="0.02" stop-color="#0009ff"/><stop offset="0.03" stop-color="#0009ff"/><stop offset="0.04" stop-color="#0009ff"/><stop offset="0.05" stop-color="#0009ff"/><stop offset="0.06" stop-color="#001aff"/><stop offset="0.07" stop-color="#001aff"/><stop offset="0.08" stop-color="#001aff"/><stop offset="0.1" stop-color="#001aff"/><stop offset="0.13" stop-color="#002cff"/><stop offset="0.16" stop-color="#002cff"/><stop offset="0.2" stop-color="#003dff"/><stop offset="0.25" stop-color="#003dff"/><stop offset="0.33" stop-color="#003dff"/><stop offset="0.43" stop-color="#004fff"/><stop offset="0.56" stop-color="#004fff"/><stop offset="0.71" stop-color="#004fff"/><stop offset="1" stop-color="#004fff"/></linearGradient><linearGradient id="r120" gradientUnits="userSpaceOnUse" x1="480.8" y1="0" x2="658.3" y2="0"><stop offset="0" stop-color="#0009ff"/><stop offset="0" stop-color="#0009ff"/><stop offset="0.01" stop-color="#0009ff"/><stop offset="0.01" stop-color="#0009ff"/><stop offset="0.02" stop-color="#0009ff"/><stop offset="0.02" stop-color="#0009ff"/><stop offset="0.03" stop-color="#0009ff"/><stop offset="0.04" stop-color="#0009ff"/><stop offset="0.05" stop-color="#0009ff"/><stop offset="0.06" stop-color="#0009ff"/><stop offset="0.07" stop-color="#001aff"/><stop offset="0.08" stop-color="#001aff"/><stop offset="0.1" stop-color="#001aff"/><stop offset="0.13" stop-color="#002cff"/><stop offset="0.16" stop-color="#002cff"/><stop offset="0.2" stop-color="#003dff"/><stop offset="0.25" stop-color="#003dff"/><stop offset="0.33" stop-color="#003dff"/><stop offset="0.43" stop-color="#003dff"/><stop offset="0.56" stop-color="#004fff"/><stop offset="0.71" stop-color="#004fff"/><stop offset="1" stop-color="#004fff"/></linearGradient><linearGradient id="r121" gradientUnits="userSpaceOnUse" x1="480.8" y1="0" x2="658.3" y2="0"><stop offset="0" stop-color="#0009ff"/><stop offset="0" stop-color="#0009ff"/><stop offset="0.01" stop-color="#0009ff"/><stop offset="0.01" stop-color="#0009ff"/><stop offset="0.02" stop-color="#0009ff"/><stop offset="0.02" stop-color="#0009ff"/><stop offset="0.03" stop-color="#0009ff"/><stop offset="0.04" stop-color="#0009ff"/><stop offset="0.05" stop-color="#0009ff"/><stop offset="0.06" stop-color="#0009ff"/><stop offset="0.07" stop-color="#001aff"/><stop offset="0.08" stop-color="#001aff"/><stop offset="0.1" stop-color="#001aff"/><stop offset="0.13" stop-color="#002cff"/><stop offset="0.16" stop-color="#002cff"/><stop offset="0.2" stop-color="#002cff"/><stop offset="0.25" stop-color="#003dff"/><stop offset="0.33" stop-color="#003dff"/><stop offset="0.43" stop-color="#003dff"/><stop offset="0.56" stop-color="#003dff"/><stop offset="0.71" stop-color="#003dff"/><stop offset="1" stop-color="#003dff"/></linearGradient><linearGradient id="r122" gradientUnits="userSpaceOnUse" x1="480.8" y1="0" x2="658.3" y2="0"><stop offset="0" stop-color="#0009ff"/><stop offset="0" stop-color="#0009ff"/><stop offset="0.01" stop-color="#0009ff"/><stop offset="0.01" stop-color="#0009ff"/><stop offset="0.02" stop-color="#0009ff"/><stop offset="0.02" stop-color="#0009ff"/><stop offset="0.03" stop-color="#0009ff"/><stop offset="0.04" stop-color="#0009ff"/><stop offset="0.05" stop-color="#0009ff"/><stop offset="0.06" stop-color="#0009ff"/><stop offset="0.07" stop-color="#001aff"/><stop offset="0.08" stop-color="#001aff"/><stop offset="0.1" stop-color="#001aff"/><stop offset="0.13" stop-color="#001aff"/><stop offset="0.16" stop-color="#002cff"/><stop offset="0.2" stop-color="#002cff"/><stop offset="0.25" stop-color="#003dff"/><stop offset="0.33" stop-color="#003dff"/><stop offset="0.43" stop-color="#003dff"/><stop offset="0.56" stop-color="#003dff"/><stop offset="0.71" stop-color="#003dff"/><stop offset="1" stop-color="#003dff"/></linearGradient><linearGradient id="r123" gradientUnits="userSpaceOnUse" x1="480.8" y1="0" x2="658.3" y2="0"><stop offset="0" stop-color="#0009ff"/><stop offset="0" stop-color="#0009ff"/><stop offset="0.01" stop-color="#0009ff"/><stop offset="0.01" stop-color="#0009ff"/><stop offset="0.02" stop-color="#0009ff"/><stop offset="0.02" stop-color="#0009ff"/><stop offset="0.03" stop-color="#0009ff"/><stop offset="0.04" stop-color="#0009ff"/><stop offset="0.05" stop-color="#0009ff"/><stop offset="0.06" stop-color="#0009ff"/><stop offset="0.07" stop-color="#001aff"/><stop offset="0.08" stop-color="#001aff"/><stop offset="0.1" stop-color="#001aff"/><stop offset="0.13" stop-color="#001aff"/><stop offset="0.16" stop-color="#002cff"/><stop offset="0.2" stop-color="#002cff"/><stop offset="0.25" stop-color="#002cff"/><stop offset="0.33" stop-color="#003dff"/><stop offset="0.43" stop-color="#003dff"/><stop offset="0.56" stop-color="#003dff"/><stop offset="0.71" stop-color="#003dff"/><stop offset="1" stop-color="#003dff"/></linearGradient><linearGradient id="r124" gradientUnits="userSpaceOnUse" x1="480.8" y1="0" x2="658.3" y2="0"><stop offset="0" stop-color="#0009ff"/><stop offset="0" stop-color="#0009ff"/><stop offset="0.01" stop-color="#0009ff"/><stop offset="0.01" stop-color="#0009ff"/><stop offset="0.02" stop-color="#0009ff"/><stop offset="0.02" stop-color="#0009ff"/><stop offset="0.03" stop-color="#0009ff"/><stop offset="0.04" stop-color="#0009ff"/><stop offset="0.05" stop-color="#0009ff"/><stop offset="0.06" stop-color="#0009ff"/><stop offset="0.07" stop-color="#0009ff"/><stop offset="0.08" stop-color="#001aff"/><stop offset="0.1" stop-color="#001aff"/><stop offset="0.13" stop-color="#001aff"/><stop offset="0.16" stop-color="#002cff"/><stop offset="0.2" stop-color="#002cff"/><stop offset="0.25" stop-color="#002cff"/><stop offset="0.33" stop-color="#003dff"/><stop offset="0.43" stop-color="#003dff"/><stop offset="0.56" stop-color="#003dff"/><stop offset="0.71" stop-color="#003dff"/><stop offset="1" stop-color="#003dff"/></linearGradient><linearGradient id="r125" gradientUnits="userSpaceOnUse" x1="480.8" y1="0" x2="658.3" y2="0"><stop offset="0" stop-color="#0009ff"/><stop offset="0" stop-color="#0009ff"/><stop offset="0.01" stop-color="#0009ff"/><stop offset="0.01" stop-color="#0009ff"/><stop offset="0.02" stop-color="#0009ff"/><stop offset="0.02" stop-color="#0009ff"/><stop offset="0.03" stop-color="#0009ff"/><stop offset="0.04" stop-color="#0009ff"/><stop offset="0.05" stop-color="#0009ff"/><stop offset="0.06" stop-color="#0009ff"/><stop offset="0.07" stop-color="#0009ff"/><stop offset="0.08" stop-color="#001aff"/><stop offset="0.1" stop-color="#001aff"/><stop offset="0.13" stop-color="#001aff"/><stop offset="0.16" stop-color="#001aff"/><stop offset="0.2" stop-color="#002cff"/><stop offset="0.25" stop-color="#002cff"/><stop offset="0.33" stop-color="#002cff"/><stop offset="0.43" stop-color="#003dff"/><stop offset="0.56" stop-color="#003dff"/><stop offset="0.71" stop-color="#003dff"/><stop offset="1" stop-color="#003dff"/></linearGradient><linearGradient id="r126" gradientUnits="userSpaceOnUse" x1="480.8" y1="0" x2="658.3" y2="0"><stop offset="0" stop-color="#0009ff"/><stop offset="0" stop-color="#0009ff"/><stop offset="0.01" stop-color="#0009ff"/><stop offset="0.01" stop-color="#0009ff"/><stop offset="0.02" stop-color="#0009ff"/><stop offset="0.02" stop-color="#0009ff"/><stop offset="0.03" stop-color="#0009ff"/><stop offset="0.04" stop-color="#0009ff"/><stop offset="0.05" stop-color="#0009ff"/><stop offset="0.06" stop-color="#0009ff"/><stop offset="0.07" stop-color="#0009ff"/><stop offset="0.08" stop-color="#001aff"/><stop offset="0.1" stop-color="#001aff"/><stop offset="0.13" stop-color="#001aff"/><stop offset="0.16" stop-color="#001aff"/><stop offset="0.2" stop-color="#002cff"/><stop offset="0.25" stop-color="#002cff"/><stop offset="0.33" stop-color="#002cff"/><stop offset="0.43" stop-color="#002cff"/><stop offset="0.56" stop-color="#003dff"/><stop offset="0.71" stop-color="#003dff"/><stop offset="1" stop-color="#003dff"/></linearGradient><linearGradient id="r127" gradientUnits="userSpaceOnUse" x1="480.8" y1="0" x2="658.3" y2="0"><stop offset="0" stop-color="#0009ff"/><stop offset="0" stop-color="#0009ff"/><stop offset="0.01" stop-color="#0009ff"/><stop offset="0.01" stop-color="#0009ff"/><stop offset="0.02" stop-color="#0009ff"/><stop offset="0.02" stop-color="#0009ff"/><stop offset="0.03" stop-color="#0009ff"/><stop offset="0.04" stop-color="#0009ff"/><stop offset="0.05" stop-color="#0009ff"/><stop offset="0.06" stop-color="#0009ff"/><stop offset="0.07" stop-color="#0009ff"/><stop offset="0.08" stop-color="#0009ff"/><stop offset="0.1" stop-color="#001aff"/><stop offset="0.13" stop-color="#001aff"/><stop offset="0.16" stop-color="#001aff"/><stop offset="0.2" stop-color="#002cff"/><stop offset="0.25" stop-color="#002cff"/><stop offset="0.33" stop-color="#002cff"/><stop offset="0.43" stop-color="#002cff"/><stop offset="0.56" stop-color="#002cff"/><stop offset="0.71" stop-color="#002cff"/><stop offset="1" stop-color="#002cff"/></linearGradient><linearGradient id="r128" gradientUnits="userSpaceOnUse" x1="480.8" y1="0" x2="658.3" y2="0"><stop offset="0" stop-color="#0009ff"/><stop offset="0" stop-color="#0009ff"/><stop offset="0.01" stop-color="#0009ff"/><stop offset="0.01" stop-color="#0009ff"/><stop offset="0.02" stop-color="#0009ff"/><stop offset="0.02" stop-color="#0009ff"/><stop offset="0.03" stop-color="#0009ff"/><stop offset="0.04" stop-color="#0009ff"/><stop offset="0.05" stop-color="#0009ff"/><stop offset="0.06" stop-color="#0009ff"/><stop offset="0.07" stop-color="#0009ff"/><stop offset="0.08" stop-color="#0009ff"/><stop offset="0.1" stop-color="#001aff"/><stop offset="0.13" stop-color="#001aff"/><stop offset="0.16" stop-color="#001aff"/><stop offset="0.2" stop-color="#001aff"/><stop offset="0.25" stop-color="#002cff"/><stop offset="0.33" stop-color="#002cff"/><stop offset="0.43" stop-color="#002cff"/><stop offset="0.56" stop-color="#002cff"/><stop offset="0.71" stop-color="#002cff"/><stop offset="1" stop-color="#002cff"/></linearGradient><linearGradient id="r129" gradientUnits="userSpaceOnUse" x1="480.8" y1="0" x2="658.3" y2="0"><stop offset="0" stop-color="#0009ff"/><stop offset="0" stop-color="#0009ff"/><stop offset="0.01" stop-color="#0009ff"/><stop offset="0.01" stop-color="#0009ff"/><stop offset="0.02" stop-color="#0009ff"/><stop offset="0.02" stop-color="#0009ff"/><stop offset="0.03" stop-color="#0009ff"/><stop offset="0.04" stop-color="#0009ff"/><stop offset="0.05" stop-color="#0009ff"/><stop offset="0.06" stop-color="#0009ff"/><stop offset="0.07" stop-color="#0009ff"/><stop offset="0.08" stop-color="#0009ff"/><stop offset="0.1" stop-color="#0009ff"/><stop offset="0.13" stop-color="#001aff"/><stop offset="0.16" stop-color="#001aff"/><stop offset="0.2" stop-color="#001aff"/><stop offset="0.25" stop-color="#002cff"/><stop offset="0.33" stop-color="#002cff"/><stop offset="0.43" stop-color="#002cff"/><stop offset="0.56" stop-color="#002cff"/><stop offset="0.71" stop-color="#002cff"/><stop offset="1" stop-color="#002cff"/></linearGradient><linearGradient id="r130" gradientUnits="userSpaceOnUse" x1="480.8" y1="0" x2="658.3" y2="0"><stop offset="0" stop-color="#0009ff"/><stop offset="0" stop-color="#0009ff"/><stop offset="0.01" stop-color="#0009ff"/><stop offset="0.01" stop-color="#0009ff"/><stop offset="0.02" stop-color="#0009ff"/><stop offset="0.02" stop-color="#0009ff"/><stop offset="0.03" stop-color="#0009ff"/><stop offset="0.04" stop-color="#0009ff"/><stop offset="0.05" stop-color="#0009ff"/><stop offset="0.06" stop-color="#0009ff"/><stop offset="0.07" stop-color="#0009ff"/><stop offset="0.08" stop-color="#0009ff"/><stop offset="0.1" stop-color="#0009ff"/><stop offset="0.13" stop-color="#001aff"/><stop offset="0.16" stop-color="#001aff"/><stop offset="0.2" stop-color="#001aff"/><stop offset="0.25" stop-color="#001aff"/><stop offset="0.33" stop-color="#002cff"/><stop offset="0.43" stop-color="#002cff"/><stop offset="0.56" stop-color="#002cff"/><stop offset="0.71" stop-color="#002cff"/><stop offset="1" stop-color="#002cff"/></linearGradient><linearGradient id="r131" gradientUnits="userSpaceOnUse" x1="480.8" y1="0" x2="658.3" y2="0"><stop offset="0" stop-color="#0009ff"/><stop offset="0" stop-color="#0009ff"/><stop offset="0.01" stop-color="#0009ff"/><stop offset="0.01" stop-color="#0009ff"/><stop offset="0.02" stop-color="#0009ff"/><stop offset="0.02" stop-color="#0009ff"/><stop offset="0.03" stop-color="#0009ff"/><stop offset="0.04" stop-color="#0009ff"/><stop offset="0.05" stop-color="#0009ff"/><stop offset="0.06" stop-color="#0009ff"/><stop offset="0.07" stop-color="#0009ff"/><stop offset="0.08" stop-color="#0009ff"/><stop offset="0.1" stop-color="#0009ff"/><stop offset="0.13" stop-color="#001aff"/><stop offset="0.16" stop-color="#001aff"/><stop offset="0.2" stop-color="#001aff"/><stop offset="0.25" stop-color="#001aff"/><stop offset="0.33" stop-color="#002cff"/><stop offset="0.43" stop-color="#002cff"/><stop offset="0.56" stop-color="#002cff"/><stop offset="0.71" stop-color="#002cff"/><stop offset="1" stop-color="#002cff"/></linearGradient><linearGradient id="r132" gradientUnits="userSpaceOnUse" x1="480.8" y1="0" x2="658.3" y2="0"><stop offset="0" stop-color="#0009ff"/><stop offset="0" stop-color="#0009ff"/><stop offset="0.01" stop-color="#0009ff"/><stop offset="0.01" stop-color="#0009ff"/><stop offset="0.02" stop-color="#0009ff"/><stop offset="0.02" stop-color="#0009ff"/><stop offset="0.03" stop-color="#0009ff"/><stop offset="0.04" stop-color="#0009ff"/><stop offset="0.05" stop-color="#0009ff"/><stop offset="0.06" stop-color="#0009ff"/><stop offset="0.07" stop-color="#0009ff"/><stop offset="0.08" stop-color="#0009ff"/><stop offset="0.1" stop-color="#0009ff"/><stop offset="0.13" stop-color="#0009ff"/><stop offset="0.16" stop-color="#001aff"/><stop offset="0.2" stop-color="#001aff"/><stop offset="0.25" stop-color="#001aff"/><stop offset="0.33" stop-color="#001aff"/><stop offset="0.43" stop-color="#002cff"/><stop offset="0.56" stop-color="#002cff"/><stop offset="0.71" stop-color="#002cff"/><stop offset="1" stop-color="#002cff"/></linearGradient><linearGradient id="r133" gradientUnits="userSpaceOnUse" x1="480.8" y1="0" x2="658.3" y2="0"><stop offset="0" stop-color="#0009ff"/><stop offset="0" stop-color="#0009ff"/><stop offset="0.01" stop-color="#0009ff"/><stop offset="0.01" stop-color="#0009ff"/><stop offset="0.02" stop-color="#0009ff"/><stop offset="0.02" stop-color="#0009ff"/><stop offset="0.03" stop-color="#0009ff"/><stop offset="0.04" stop-color="#0009ff"/><stop offset="0.05" stop-color="#0009ff"/><stop offset="0.06" stop-color="#0009ff"/><stop offset="0.07" stop-color="#0009ff"/><stop offset="0.08" stop-color="#0009ff"/><stop offset="0.1" stop-color="#0009ff"/><stop offset="0.13" stop-color="#0009ff"/><stop offset="0.16" stop-color="#001aff"/><stop offset="0.2" stop-color="#001aff"/><stop offset="0.25" stop-color="#001aff"/><stop offset="0.33" stop-color="#001aff"/><stop offset="0.43" stop-color="#001aff"/><stop offset="0.56" stop-color="#002cff"/><stop offset="0.71" stop-color="#002cff"/><stop offset="1" stop-color="#002cff"/></linearGradient><linearGradient id="r134" gradientUnits="userSpaceOnUse" x1="480.8" y1="0" x2="658.3" y2="0"><stop offset="0" stop-color="#0009ff"/><stop offset="0" stop-color="#0009ff"/><stop offset="0.01" stop-color="#0009ff"/><stop offset="0.01" stop-color="#0009ff"/><stop offset="0.02" stop-color="#0009ff"/><stop offset="0.02" stop-color="#0009ff"/><stop offset="0.03" stop-color="#0009ff"/><stop offset="0.04" stop-color="#0009ff"/><stop offset="0.05" stop-color="#0009ff"/><stop offset="0.06" stop-color="#0009ff"/><stop offset="0.07" stop-color="#0009ff"/><stop offset="0.08" stop-color="#0009ff"/><stop offset="0.1" stop-color="#0009ff"/><stop offset="0.13" stop-color="#0009ff"/><stop offset="0.16" stop-color="#001aff"/><stop offset="0.2" stop-color="#001aff"/><stop offset="0.25" stop-color="#001aff"/><stop offset="0.33" stop-color="#001aff"/><stop offset="0.43" stop-color="#001aff"/><stop offset="0.56" stop-color="#001aff"/><stop offset="0.71" stop-color="#002cff"/><stop offset="1" stop-color="#002cff"/></linearGradient><linearGradient id="r135" gradientUnits="userSpaceOnUse" x1="480.8" y1="0" x2="658.3" y2="0"><stop offset="0" stop-color="#0009ff"/><stop offset="0" stop-color="#0009ff"/><stop offset="0.01" stop-color="#0009ff"/><stop offset="0.01" stop-color="#0009ff"/><stop offset="0.02" stop-color="#0009ff"/><stop offset="0.02" stop-color="#0009ff"/><stop offset="0.03" stop-color="#0009ff"/><stop offset="0.04" stop-color="#0009ff"/><stop offset="0.05" stop-color="#0009ff"/><stop offset="0.06" stop-color="#0009ff"/><stop offset="0.07" stop-color="#0009ff"/><stop offset="0.08" stop-color="#0009ff"/><stop offset="0.1" stop-color="#0009ff"/><stop offset="0.13" stop-color="#0009ff"/><stop offset="0.16" stop-color="#0009ff"/><stop offset="0.2" stop-color="#001aff"/><stop offset="0.25" stop-color="#001aff"/><stop offset="0.33" stop-color="#001aff"/><stop offset="0.43" stop-color="#001aff"/><stop offset="0.56" stop-color="#001aff"/><stop offset="0.71" stop-color="#001aff"/><stop offset="1" stop-color="#001aff"/></linearGradient><linearGradient id="r136" gradientUnits="userSpaceOnUse" x1="480.8" y1="0" x2="658.3" y2="0"><stop offset="0" stop-color="#0009ff"/><stop offset="0" stop-color="#0009ff"/><stop offset="0.01" stop-color="#0009ff"/><stop offset="0.01" stop-color="#0009ff"/><stop offset="0.02" stop-color="#0009ff"/><stop offset="0.02" stop-color="#0009ff"/><stop offset="0.03" stop-color="#0009ff"/><stop offset="0.04" stop-color="#0009ff"/><stop offset="0.05" stop-color="#0009ff"/><stop offset="0.06" stop-color="#0009ff"/><stop offset="0.07" stop-color="#0009ff"/><stop offset="0.08" stop-color="#0009ff"/><stop offset="0.1" stop-color="#0009ff"/><stop offset="0.13" stop-color="#0009ff"/><stop offset="0.16" stop-color="#0009ff"/><stop offset="0.2" stop-color="#001aff"/><stop offset="0.25" stop-color="#001aff"/><stop offset="0.33" stop-color="#001aff"/><stop offset="0.43" stop-color="#001aff"/><stop offset="0.56" stop-color="#001aff"/><stop offset="0.71" stop-color="#001aff"/><stop offset="1" stop-color="#001aff"/></linearGradient><linearGradient id="r137" gradientUnits="userSpaceOnUse" x1="480.8" y1="0" x2="658.3" y2="0"><stop offset="0" stop-color="#0009ff"/><stop offset="0" stop-color="#0009ff"/><stop offset="0.01" stop-color="#0009ff"/><stop offset="0.01" stop-color="#0009ff"/><stop offset="0.02" stop-color="#0009ff"/><stop offset="0.02" stop-color="#0009ff"/><stop offset="0.03" stop-color="#0009ff"/><stop offset="0.04" stop-color="#0009ff"/><stop offset="0.05" stop-color="#0009ff"/><stop offset="0.06" stop-color="#0009ff"/><stop offset="0.07" stop-color="#0009ff"/><stop offset="0.08" stop-color="#0009ff"/><stop offset="0.1" stop-color="#0009ff"/><stop offset="0.13" stop-color="#0009ff"/><stop offset="0.16" stop-color="#0009ff"/><stop offset="0.2" stop-color="#0009ff"/><stop offset="0.25" stop-color="#001aff"/><stop offset="0.33" stop-color="#001aff"/><stop offset="0.43" stop-color="#001aff"/><stop offset="0.56" stop-color="#001aff"/><stop offset="0.71" stop-color="#001aff"/><stop offset="1" stop-color="#001aff"/></linearGradient><linearGradient id="r138" gradientUnits="userSpaceOnUse" x1="480.8" y1="0" x2="658.3" y2="0"><stop offset="0" stop-color="#0009ff"/><stop offset="0" stop-color="#0009ff"/><stop offset="0.01" stop-color="#0009ff"/><stop offset="0.01" stop-color="#0009ff"/><stop offset="0.02" stop-color="#0009ff"/><stop offset="0.02" stop-color="#0009ff"/><stop offset="0.03" stop-color="#0009ff"/><stop offset="0.04" stop-color="#0009ff"/><stop offset="0.05" stop-color="#0009ff"/><stop offset="0.06" stop-color="#0009ff"/><stop offset="0.07" stop-color="#0009ff"/><stop offset="0.08" stop-color="#0009ff"/><stop offset="0.1" stop-color="#0009ff"/><stop offset="0.13" stop-color="#0009ff"/><stop offset="0.16" stop-color="#0009ff"/><stop offset="0.2" stop-color="#0009ff"/><stop offset="0.25" stop-color="#001aff"/><stop offset="0.33" stop-color="#001aff"/><stop offset="0.43" stop-color="#001aff"/><stop offset="0.56" stop-color="#001aff"/><stop offset="0.71" stop-color="#001aff"/><stop offset="1" stop-color="#001aff"/></linearGradient><linearGradient id="r139" gradientUnits="userSpaceOnUse" x1="480.8" y1="0" x2="658.3" y2="0"><stop offset="0" stop-color="#0009ff"/><stop offset="0" stop-color="#0009ff"/><stop offset="0.01" stop-color="#0009ff"/><stop offset="0.01" stop-color="#0009ff"/><stop offset="0.02" stop-color="#0009ff"/><stop offset="0.02" stop-color="#0009ff"/><stop offset="0.03" stop-color="#0009ff"/><stop offset="0.04" stop-color="#0009ff"/><stop offset="0.05" stop-color="#0009ff"/><stop offset="0.06" stop-color="#0009ff"/><stop offset="0.07" stop-color="#0009ff"/><stop offset="0.08" stop-color="#0009ff"/><stop offset="0.1" stop-color="#0009ff"/><stop offset="0.13" stop-color="#0009ff"/><stop offset="0.16" stop-color="#0009ff"/><stop offset="0.2" stop-color="#0009ff"/><stop offset="0.25" stop-color="#0009ff"/><stop offset="0.33" stop-color="#001aff"/><stop offset="0.43" stop-color="#001aff"/><stop offset="0.56" stop-color="#001aff"/><stop offset="0.71" stop-color="#001aff"/><stop offset="1" stop-color="#001aff"/></linearGradient><linearGradient id="r140" gradientUnits="userSpaceOnUse" x1="480.8" y1="0" x2="658.3" y2="0"><stop offset="0" stop-color="#0009ff"/><stop offset="0" stop-color="#0009ff"/><stop offset="0.01" stop-color="#0009ff"/><stop offset="0.01" stop-color="#0009ff"/><stop offset="0.02" stop-color="#0009ff"/><stop offset="0.02" stop-color="#0009ff"/><stop offset="0.03" stop-color="#0009ff"/><stop offset="0.04" stop-color="#0009ff"/><stop offset="0.05" stop-color="#0009ff"/><stop offset="0.06" stop-color="#0009ff"/><stop offset="0.07" stop-color="#0009ff"/><stop offset="0.08" stop-color="#0009ff"/><stop offset="0.1" stop-color="#0009ff"/><stop offset="0.13" stop-color="#0009ff"/><stop offset="0.16" stop-color="#0009ff"/><stop offset="0.2" stop-color="#0009ff"/><stop offset="0.25" stop-color="#0009ff"/><stop offset="0.33" stop-color="#001aff"/><stop offset="0.43" stop-color="#001aff"/><stop offset="0.56" stop-color="#001aff"/><stop offset="0.71" stop-color="#001aff"/><stop offset="1" stop-color="#001aff"/></linearGradient><linearGradient id="r141" gradientUnits="userSpaceOnUse" x1="480.8" y1="0" x2="658.3" y2="0"><stop offset="0" stop-color="#0009ff"/><stop offset="0" stop-color="#0009ff"/><stop offset="0.01" stop-color="#0009ff"/><stop offset="0.01" stop-color="#0009ff"/><stop offset="0.02" stop-color="#0009ff"/><stop offset="0.02" stop-color="#0009ff"/><stop offset="0.03" stop-color="#0009ff"/><stop offset="0.04" stop-color="#0009ff"/><stop offset="0.05" stop-color="#0009ff"/><stop offset="0.06" stop-color="#0009ff"/><stop offset="0.07" stop-color="#0009ff"/><stop offset="0.08" stop-color="#0009ff"/><stop offset="0.1" stop-color="#0009ff"/><stop offset="0.13" stop-color="#0009ff"/><stop offset="0.16" stop-color="#0009ff"/><stop offset="0.2" stop-color="#0009ff"/><stop offset="0.25" stop-color="#0009ff"/><stop offset="0.33" stop-color="#0009ff"/><stop offset="0.43" stop-color="#001aff"/><stop offset="0.56" stop-color="#001aff"/><stop offset="0.71" stop-color="#001aff"/><stop offset="1" stop-color="#001aff"/></linearGradient><linearGradient id="lstrip" x1="0" y1="0" x2="1" y2="0"><stop offset="0" stop-color="#0000a0"/><stop offset="0.5" stop-color="#0000c0" stop-opacity="0.75"/><stop offset="1" stop-color="#0000ff" stop-opacity="0"/></linearGradient><linearGradient id="cbF" x1="0" y1="1" x2="0" y2="0"><stop offset="0.0" stop-color="#0000ff"/><stop offset="0.25" stop-color="#00ffff"/><stop offset="0.5" stop-color="#00ff00"/><stop offset="0.75" stop-color="#ffff00"/><stop offset="1.0" stop-color="#ff0000"/></linearGradient></defs><rect width="685" height="355" fill="#fff"/><polyline points="30.5,145.25 31.78,143.44 33.06,141.64 34.35,139.85 35.63,138.06 36.91,136.27 38.19,134.5 39.48,132.72 40.76,130.95 42.04,129.19 43.32,127.44 44.61,125.69 45.89,123.96 47.17,122.23 48.45,120.51 49.74,118.8 51.02,117.11 52.3,115.42 53.58,113.75 54.87,112.09 56.15,110.44 57.43,108.81 58.71,107.18 60,105.58 61.28,103.99 62.56,102.41 63.84,100.85 65.12,99.31 66.41,97.78 67.69,96.27 68.97,94.77 70.25,93.29 71.54,91.83 72.82,90.39 74.1,88.96 75.38,87.55 76.67,86.16 77.95,84.78 79.23,83.42 80.51,82.08 81.8,80.76 83.08,79.45 84.36,78.16 85.64,76.89 86.93,75.64 88.21,74.4 89.49,73.18 90.77,71.97 92.06,70.79 93.34,69.61 94.62,68.46 95.9,67.32 97.18,66.2 98.47,65.09 99.75,64 101.03,62.92 102.31,61.86 103.6,60.81 104.88,59.78 106.16,58.76 107.44,57.76 108.73,56.77 110.01,55.79 111.29,54.83 112.57,53.88 113.86,52.94 115.14,52.02 116.42,51.1 117.7,50.2 118.99,49.31 120.27,48.43 121.55,47.57 122.83,46.71 124.12,45.87 125.4,45.03 126.68,44.21 127.96,43.39 129.24,42.59 130.53,41.79 131.81,41 133.09,40.23 134.37,39.46 135.66,38.7 136.94,37.94 138.22,37.2 139.5,36.46 140.79,35.74 142.07,35.01 143.35,34.3 144.63,33.59 145.92,32.89 147.2,32.2 148.48,31.51 149.76,30.83 151.05,30.16 152.33,29.49 153.61,28.83 154.89,28.17 156.18,27.52 157.46,26.87 158.74,26.23 160.02,25.59 161.3,24.96 162.59,24.33 163.87,23.71 165.15,23.09 166.43,22.48 167.72,21.87 169,21.26 170.28,20.66 171.56,20.06 172.85,19.47 174.13,18.88 175.41,18.29 176.69,17.71 177.98,17.13 179.26,16.55 180.54,15.98 181.82,15.41 183.11,14.84 184.39,14.28 185.67,13.72 186.95,13.16 188.24,12.61 189.52,12.06 190.8,11.53" fill="none" stroke="#d8362c" stroke-width="1.05" stroke-linejoin="round" stroke-linecap="round"/><polyline points="30.5,145.25 31.78,143.11 33.06,141.14 34.35,139.22 35.63,137.31 36.91,135.42 38.19,133.54 39.48,131.68 40.76,129.82 42.04,127.98 43.32,126.15 44.61,124.33 45.89,122.52 47.17,120.73 48.45,118.94 49.74,117.17 51.02,115.41 52.3,113.67 53.58,111.94 54.87,110.22 56.15,108.52 57.43,106.83 58.71,105.16 60,103.51 61.28,101.87 62.56,100.25 63.84,98.65 65.12,97.06 66.41,95.49 67.69,93.94 68.97,92.4 70.25,90.89 71.54,89.39 72.82,87.91 74.1,86.45 75.38,85.01 76.67,83.58 77.95,82.18 79.23,80.79 80.51,79.42 81.8,78.07 83.08,76.74 84.36,75.43 85.64,74.13 86.93,72.86 88.21,71.6 89.49,70.36 90.77,69.13 92.06,67.93 93.34,66.74 94.62,65.57 95.9,64.42 97.18,63.29 98.47,62.17 99.75,61.07 101.03,59.98 102.31,58.91 103.6,57.86 104.88,56.82 106.16,55.8 107.44,54.79 108.73,53.8 110.01,52.82 111.29,51.86 112.57,50.91 113.86,49.97 115.14,49.05 116.42,48.14 117.7,47.24 118.99,46.36 120.27,45.49 121.55,44.63 122.83,43.79 124.12,42.95 125.4,42.13 126.68,41.32 127.96,40.52 129.24,39.73 130.53,38.95 131.81,38.18 133.09,37.43 134.37,36.68 135.66,35.94 136.94,35.21 138.22,34.49 139.5,33.78 140.79,33.08 142.07,32.38 143.35,31.7 144.63,31.02 145.92,30.35 147.2,29.69 148.48,29.04 149.76,28.39 151.05,27.75 152.33,27.12 153.61,26.5 154.89,25.88 156.18,25.27 157.46,24.66 158.74,24.07 160.02,23.47 161.3,22.89 162.59,22.31 163.87,21.74 165.15,21.17 166.43,20.61 167.72,20.06 169,19.51 170.28,18.97 171.56,18.43 172.85,17.9 174.13,17.37 175.41,16.85 176.69,16.34 177.98,15.84 179.26,15.34 180.54,14.84 181.82,14.36 183.11,13.89 184.39,13.42 185.67,12.97 186.95,12.53 188.24,12.11 189.52,11.73 190.8,11.53" fill="none" stroke="#f27c4c" stroke-width="1.05" stroke-linejoin="round" stroke-linecap="round"/><polyline points="30.5,145.25 31.78,143.16 33.06,141.22 34.35,139.32 35.63,137.43 36.91,135.55 38.19,133.69 39.48,131.84 40.76,130 42.04,128.17 43.32,126.35 44.61,124.55 45.89,122.75 47.17,120.96 48.45,119.19 49.74,117.43 51.02,115.68 52.3,113.94 53.58,112.22 54.87,110.52 56.15,108.82 57.43,107.15 58.71,105.48 60,103.84 61.28,102.21 62.56,100.59 63.84,99 65.12,97.41 66.41,95.85 67.69,94.31 68.97,92.78 70.25,91.27 71.54,89.78 72.82,88.3 74.1,86.84 75.38,85.41 76.67,83.99 77.95,82.59 79.23,81.2 80.51,79.84 81.8,78.49 83.08,77.17 84.36,75.86 85.64,74.57 86.93,73.29 88.21,72.04 89.49,70.8 90.77,69.58 92.06,68.38 93.34,67.2 94.62,66.03 95.9,64.88 97.18,63.75 98.47,62.63 99.75,61.53 101.03,60.44 102.31,59.38 103.6,58.32 104.88,57.29 106.16,56.27 107.44,55.26 108.73,54.27 110.01,53.29 111.29,52.33 112.57,51.38 113.86,50.44 115.14,49.52 116.42,48.61 117.7,47.71 118.99,46.83 120.27,45.96 121.55,45.1 122.83,44.25 124.12,43.41 125.4,42.59 126.68,41.78 127.96,40.97 129.24,40.18 130.53,39.4 131.81,38.63 133.09,37.87 134.37,37.12 135.66,36.37 136.94,35.64 138.22,34.92 139.5,34.2 140.79,33.5 142.07,32.8 143.35,32.11 144.63,31.43 145.92,30.75 147.2,30.09 148.48,29.43 149.76,28.78 151.05,28.13 152.33,27.49 153.61,26.86 154.89,26.24 156.18,25.62 157.46,25.01 158.74,24.41 160.02,23.81 161.3,23.22 162.59,22.63 163.87,22.05 165.15,21.47 166.43,20.91 167.72,20.34 169,19.78 170.28,19.23 171.56,18.69 172.85,18.15 174.13,17.61 175.41,17.08 176.69,16.56 177.98,16.04 179.26,15.53 180.54,15.02 181.82,14.53 183.11,14.04 184.39,13.56 185.67,13.09 186.95,12.63 188.24,12.19 189.52,11.79 190.8,11.53" fill="none" stroke="#fcc880" stroke-width="1.05" stroke-linejoin="round" stroke-linecap="round"/><polyline points="30.5,145.25 31.78,143.24 33.06,141.34 34.35,139.47 35.63,137.61 36.91,135.76 38.19,133.92 39.48,132.1 40.76,130.28 42.04,128.47 43.32,126.67 44.61,124.88 45.89,123.1 47.17,121.33 48.45,119.57 49.74,117.82 51.02,116.09 52.3,114.37 53.58,112.66 54.87,110.97 56.15,109.29 57.43,107.62 58.71,105.97 60,104.34 61.28,102.72 62.56,101.12 63.84,99.53 65.12,97.96 66.41,96.41 67.69,94.87 68.97,93.35 70.25,91.85 71.54,90.37 72.82,88.9 74.1,87.45 75.38,86.02 76.67,84.61 77.95,83.22 79.23,81.84 80.51,80.48 81.8,79.15 83.08,77.82 84.36,76.52 85.64,75.23 86.93,73.97 88.21,72.72 89.49,71.49 90.77,70.27 92.06,69.07 93.34,67.89 94.62,66.73 95.9,65.58 97.18,64.45 98.47,63.34 99.75,62.24 101.03,61.16 102.31,60.09 103.6,59.04 104.88,58 106.16,56.98 107.44,55.98 108.73,54.99 110.01,54.01 111.29,53.05 112.57,52.1 113.86,51.16 115.14,50.24 116.42,49.33 117.7,48.43 118.99,47.54 120.27,46.67 121.55,45.81 122.83,44.96 124.12,44.12 125.4,43.29 126.68,42.47 127.96,41.67 129.24,40.87 130.53,40.09 131.81,39.31 133.09,38.55 134.37,37.79 135.66,37.04 136.94,36.3 138.22,35.57 139.5,34.85 140.79,34.14 142.07,33.43 143.35,32.74 144.63,32.05 145.92,31.37 147.2,30.69 148.48,30.03 149.76,29.37 151.05,28.71 152.33,28.07 153.61,27.43 154.89,26.79 156.18,26.17 157.46,25.55 158.74,24.93 160.02,24.32 161.3,23.72 162.59,23.12 163.87,22.53 165.15,21.94 166.43,21.36 167.72,20.78 169,20.21 170.28,19.64 171.56,19.08 172.85,18.53 174.13,17.97 175.41,17.43 176.69,16.89 177.98,16.35 179.26,15.82 180.54,15.3 181.82,14.78 183.11,14.27 184.39,13.76 185.67,13.27 186.95,12.78 188.24,12.31 189.52,11.87 190.8,11.53" fill="none" stroke="#fbf0d0" stroke-width="1.05" stroke-linejoin="round" stroke-linecap="round"/><polyline points="30.5,145.25 31.78,143.32 33.06,141.46 34.35,139.61 35.63,137.78 36.91,135.96 38.19,134.14 39.48,132.34 40.76,130.54 42.04,128.75 43.32,126.96 44.61,125.19 45.89,123.43 47.17,121.68 48.45,119.93 49.74,118.2 51.02,116.48 52.3,114.77 53.58,113.08 54.87,111.4 56.15,109.73 57.43,108.08 58.71,106.44 60,104.82 61.28,103.21 62.56,101.62 63.84,100.04 65.12,98.48 66.41,96.94 67.69,95.41 68.97,93.9 70.25,92.41 71.54,90.93 72.82,89.47 74.1,88.03 75.38,86.61 76.67,85.21 77.95,83.82 79.23,82.45 80.51,81.1 81.8,79.77 83.08,78.45 84.36,77.15 85.64,75.87 86.93,74.61 88.21,73.37 89.49,72.14 90.77,70.93 92.06,69.73 93.34,68.56 94.62,67.4 95.9,66.25 97.18,65.13 98.47,64.01 99.75,62.92 101.03,61.84 102.31,60.77 103.6,59.72 104.88,58.69 106.16,57.67 107.44,56.67 108.73,55.67 110.01,54.7 111.29,53.73 112.57,52.78 113.86,51.85 115.14,50.92 116.42,50.01 117.7,49.11 118.99,48.23 120.27,47.35 121.55,46.49 122.83,45.63 124.12,44.79 125.4,43.96 126.68,43.14 127.96,42.33 129.24,41.53 130.53,40.74 131.81,39.96 133.09,39.19 134.37,38.43 135.66,37.68 136.94,36.94 138.22,36.2 139.5,35.47 140.79,34.76 142.07,34.04 143.35,33.34 144.63,32.65 145.92,31.96 147.2,31.27 148.48,30.6 149.76,29.93 151.05,29.27 152.33,28.62 153.61,27.97 154.89,27.32 156.18,26.69 157.46,26.06 158.74,25.43 160.02,24.81 161.3,24.2 162.59,23.59 163.87,22.98 165.15,22.38 166.43,21.79 167.72,21.2 169,20.62 170.28,20.04 171.56,19.46 172.85,18.89 174.13,18.32 175.41,17.76 176.69,17.2 177.98,16.65 179.26,16.1 180.54,15.56 181.82,15.02 183.11,14.49 184.39,13.96 185.67,13.44 186.95,12.93 188.24,12.43 189.52,11.94 190.8,11.53" fill="none" stroke="#bcd8ec" stroke-width="1.05" stroke-linejoin="round" stroke-linecap="round"/><polyline points="30.5,145.25 31.78,143.4 33.06,141.59 34.35,139.78 35.63,137.98 36.91,136.18 38.19,134.4 39.48,132.61 40.76,130.84 42.04,129.07 43.32,127.3 44.61,125.55 45.89,123.81 47.17,122.07 48.45,120.35 49.74,118.63 51.02,116.93 52.3,115.24 53.58,113.56 54.87,111.89 56.15,110.24 57.43,108.6 58.71,106.97 60,105.36 61.28,103.77 62.56,102.19 63.84,100.62 65.12,99.07 66.41,97.54 67.69,96.02 68.97,94.52 70.25,93.04 71.54,91.57 72.82,90.13 74.1,88.69 75.38,87.28 76.67,85.88 77.95,84.51 79.23,83.14 80.51,81.8 81.8,80.47 83.08,79.17 84.36,77.87 85.64,76.6 86.93,75.34 88.21,74.1 89.49,72.88 90.77,71.67 92.06,70.48 93.34,69.31 94.62,68.16 95.9,67.02 97.18,65.89 98.47,64.78 99.75,63.69 101.03,62.61 102.31,61.55 103.6,60.5 104.88,59.47 106.16,58.45 107.44,57.45 108.73,56.46 110.01,55.48 111.29,54.52 112.57,53.57 113.86,52.63 115.14,51.7 116.42,50.79 117.7,49.89 118.99,49 120.27,48.12 121.55,47.26 122.83,46.4 124.12,45.56 125.4,44.73 126.68,43.9 127.96,43.09 129.24,42.29 130.53,41.49 131.81,40.71 133.09,39.93 134.37,39.16 135.66,38.41 136.94,37.66 138.22,36.92 139.5,36.18 140.79,35.46 142.07,34.74 143.35,34.03 144.63,33.32 145.92,32.63 147.2,31.94 148.48,31.25 149.76,30.57 151.05,29.9 152.33,29.24 153.61,28.58 154.89,27.93 156.18,27.28 157.46,26.64 158.74,26 160.02,25.37 161.3,24.74 162.59,24.12 163.87,23.5 165.15,22.89 166.43,22.28 167.72,21.68 169,21.08 170.28,20.48 171.56,19.89 172.85,19.3 174.13,18.72 175.41,18.14 176.69,17.56 177.98,16.99 179.26,16.42 180.54,15.86 181.82,15.3 183.11,14.74 184.39,14.19 185.67,13.64 186.95,13.09 188.24,12.56 189.52,12.03 190.8,11.53" fill="none" stroke="#4676b6" stroke-width="1.05" stroke-linejoin="round" stroke-linecap="round"/><polyline points="30.5,135.86 31.78,134.2 33.06,132.56 34.35,130.92 35.63,129.28 36.91,127.65 38.19,126.02 39.48,124.39 40.76,122.77 42.04,121.15 43.32,119.53 44.61,117.93 45.89,116.32 47.17,114.73 48.45,113.14 49.74,111.56 51.02,109.98 52.3,108.42 53.58,106.86 54.87,105.32 56.15,103.78 57.43,102.26 58.71,100.74 60,99.24 61.28,97.74 62.56,96.26 63.84,94.79 65.12,93.33 66.41,91.88 67.69,90.45 68.97,89.03 70.25,87.63 71.54,86.24 72.82,84.87 74.1,83.51 75.38,82.16 76.67,80.84 77.95,79.52 79.23,78.23 80.51,76.95 81.8,75.68 83.08,74.44 84.36,73.2 85.64,71.99 86.93,70.79 88.21,69.61 89.49,68.44 90.77,67.29 92.06,66.15 93.34,65.03 94.62,63.93 95.9,62.84 97.18,61.77 98.47,60.71 99.75,59.67 101.03,58.64 102.31,57.63 103.6,56.63 104.88,55.65 106.16,54.68 107.44,53.72 108.73,52.78 110.01,51.85 111.29,50.93 112.57,50.02 113.86,49.13 115.14,48.24 116.42,47.37 117.7,46.51 118.99,45.67 120.27,44.83 121.55,44.01 122.83,43.2 124.12,42.39 125.4,41.6 126.68,40.83 127.96,40.06 129.24,39.3 130.53,38.55 131.81,37.82 133.09,37.09 134.37,36.37 135.66,35.66 136.94,34.96 138.22,34.27 139.5,33.59 140.79,32.91 142.07,32.24 143.35,31.58 144.63,30.93 145.92,30.28 147.2,29.64 148.48,29.01 149.76,28.38 151.05,27.75 152.33,27.14 153.61,26.52 154.89,25.92 156.18,25.31 157.46,24.71 158.74,24.12 160.02,23.53 161.3,22.94 162.59,22.36 163.87,21.78 165.15,21.2 166.43,20.62 167.72,20.04 169,19.46 170.28,18.89 171.56,18.33 172.85,17.77 174.13,17.22 175.41,16.68 176.69,16.14 177.98,15.62 179.26,15.12 180.54,14.65 181.82,14.19 183.11,13.76 184.39,13.35 185.67,12.96 186.95,12.58 188.24,12.21 189.52,11.86 190.8,11.53" fill="none" stroke="#f27c4c" stroke-width="1.05" stroke-linejoin="round" stroke-linecap="round"/><polyline points="30.5,134.92 31.78,133.29 33.06,131.66 34.35,130.04 35.63,128.42 36.91,126.81 38.19,125.19 39.48,123.58 40.76,121.97 42.04,120.37 43.32,118.77 44.61,117.18 45.89,115.59 47.17,114.01 48.45,112.43 49.74,110.87 51.02,109.31 52.3,107.76 53.58,106.21 54.87,104.68 56.15,103.16 57.43,101.64 58.71,100.14 60,98.65 61.28,97.16 62.56,95.69 63.84,94.23 65.12,92.78 66.41,91.34 67.69,89.92 68.97,88.51 70.25,87.11 71.54,85.73 72.82,84.37 74.1,83.01 75.38,81.68 76.67,80.36 77.95,79.05 79.23,77.76 80.51,76.49 81.8,75.23 83.08,73.99 84.36,72.77 85.64,71.56 86.93,70.36 88.21,69.19 89.49,68.02 90.77,66.88 92.06,65.75 93.34,64.64 94.62,63.54 95.9,62.45 97.18,61.39 98.47,60.33 99.75,59.3 101.03,58.28 102.31,57.27 103.6,56.28 104.88,55.3 106.16,54.34 107.44,53.38 108.73,52.44 110.01,51.52 111.29,50.6 112.57,49.7 113.86,48.81 115.14,47.93 116.42,47.06 117.7,46.21 118.99,45.37 120.27,44.53 121.55,43.71 122.83,42.91 124.12,42.11 125.4,41.32 126.68,40.55 127.96,39.79 129.24,39.03 130.53,38.29 131.81,37.56 133.09,36.84 134.37,36.12 135.66,35.42 136.94,34.72 138.22,34.04 139.5,33.36 140.79,32.69 142.07,32.02 143.35,31.37 144.63,30.72 145.92,30.07 147.2,29.44 148.48,28.81 149.76,28.18 151.05,27.57 152.33,26.95 153.61,26.34 154.89,25.74 156.18,25.14 157.46,24.55 158.74,23.95 160.02,23.37 161.3,22.78 162.59,22.2 163.87,21.63 165.15,21.05 166.43,20.47 167.72,19.89 169,19.32 170.28,18.75 171.56,18.19 172.85,17.63 174.13,17.08 175.41,16.55 176.69,16.02 177.98,15.5 179.26,15 180.54,14.54 181.82,14.1 183.11,13.68 184.39,13.28 185.67,12.9 186.95,12.53 188.24,12.19 189.52,11.85 190.8,11.53" fill="none" stroke="#fcc880" stroke-width="1.05" stroke-linejoin="round" stroke-linecap="round"/><polyline points="30.5,133.98 31.78,132.37 33.06,130.76 34.35,129.16 35.63,127.56 36.91,125.96 38.19,124.36 39.48,122.77 40.76,121.18 42.04,119.59 43.32,118.01 44.61,116.43 45.89,114.86 47.17,113.29 48.45,111.73 49.74,110.18 51.02,108.63 52.3,107.09 53.58,105.56 54.87,104.04 56.15,102.53 57.43,101.03 58.71,99.54 60,98.05 61.28,96.58 62.56,95.12 63.84,93.67 65.12,92.23 66.41,90.8 67.69,89.39 68.97,87.98 70.25,86.6 71.54,85.22 72.82,83.87 74.1,82.52 75.38,81.19 76.67,79.88 77.95,78.58 79.23,77.3 80.51,76.03 81.8,74.78 83.08,73.55 84.36,72.33 85.64,71.13 86.93,69.94 88.21,68.77 89.49,67.61 90.77,66.47 92.06,65.35 93.34,64.24 94.62,63.14 95.9,62.07 97.18,61 98.47,59.96 99.75,58.93 101.03,57.91 102.31,56.91 103.6,55.92 104.88,54.95 106.16,53.99 107.44,53.04 108.73,52.11 110.01,51.19 111.29,50.28 112.57,49.38 113.86,48.49 115.14,47.62 116.42,46.75 117.7,45.9 118.99,45.06 120.27,44.24 121.55,43.42 122.83,42.61 124.12,41.82 125.4,41.04 126.68,40.27 127.96,39.51 129.24,38.76 130.53,38.03 131.81,37.3 133.09,36.58 134.37,35.87 135.66,35.17 136.94,34.48 138.22,33.8 139.5,33.13 140.79,32.46 142.07,31.8 143.35,31.15 144.63,30.51 145.92,29.87 147.2,29.24 148.48,28.61 149.76,27.99 151.05,27.38 152.33,26.77 153.61,26.16 154.89,25.56 156.18,24.97 157.46,24.38 158.74,23.79 160.02,23.21 161.3,22.63 162.59,22.05 163.87,21.47 165.15,20.9 166.43,20.32 167.72,19.75 169,19.18 170.28,18.61 171.56,18.05 172.85,17.5 174.13,16.95 175.41,16.41 176.69,15.89 177.98,15.38 179.26,14.89 180.54,14.43 181.82,14 183.11,13.59 184.39,13.2 185.67,12.84 186.95,12.49 188.24,12.16 189.52,11.84 190.8,11.53" fill="none" stroke="#fbf0d0" stroke-width="1.05" stroke-linejoin="round" stroke-linecap="round"/><polyline points="30.5,133.04 31.78,131.45 33.06,129.87 34.35,128.28 35.63,126.7 36.91,125.12 38.19,123.54 39.48,121.96 40.76,120.38 42.04,118.81 43.32,117.24 44.61,115.68 45.89,114.12 47.17,112.57 48.45,111.03 49.74,109.49 51.02,107.95 52.3,106.43 53.58,104.91 54.87,103.41 56.15,101.91 57.43,100.42 58.71,98.93 60,97.46 61.28,96 62.56,94.55 63.84,93.11 65.12,91.68 66.41,90.26 67.69,88.85 68.97,87.46 70.25,86.08 71.54,84.72 72.82,83.37 74.1,82.03 75.38,80.71 76.67,79.4 77.95,78.11 79.23,76.84 80.51,75.58 81.8,74.33 83.08,73.1 84.36,71.89 85.64,70.69 86.93,69.51 88.21,68.35 89.49,67.2 90.77,66.06 92.06,64.94 93.34,63.84 94.62,62.75 95.9,61.68 97.18,60.62 98.47,59.58 99.75,58.55 101.03,57.54 102.31,56.55 103.6,55.56 104.88,54.6 106.16,53.64 107.44,52.7 108.73,51.77 110.01,50.85 111.29,49.95 112.57,49.05 113.86,48.17 115.14,47.3 116.42,46.44 117.7,45.6 118.99,44.76 120.27,43.94 121.55,43.13 122.83,42.32 124.12,41.54 125.4,40.76 126.68,39.99 127.96,39.24 129.24,38.5 130.53,37.76 131.81,37.04 133.09,36.33 134.37,35.62 135.66,34.93 136.94,34.24 138.22,33.56 139.5,32.9 140.79,32.23 142.07,31.58 143.35,30.93 144.63,30.29 145.92,29.66 147.2,29.03 148.48,28.41 149.76,27.8 151.05,27.19 152.33,26.58 153.61,25.98 154.89,25.39 156.18,24.79 157.46,24.21 158.74,23.62 160.02,23.04 161.3,22.47 162.59,21.9 163.87,21.32 165.15,20.75 166.43,20.17 167.72,19.6 169,19.03 170.28,18.47 171.56,17.91 172.85,17.36 174.13,16.82 175.41,16.28 176.69,15.76 177.98,15.25 179.26,14.77 180.54,14.32 181.82,13.9 183.11,13.5 184.39,13.13 185.67,12.78 186.95,12.45 188.24,12.13 189.52,11.82 190.8,11.53" fill="none" stroke="#bcd8ec" stroke-width="1.05" stroke-linejoin="round" stroke-linecap="round"/><polyline points="30.5,132.1 31.78,130.54 33.06,128.97 34.35,127.4 35.63,125.84 36.91,124.27 38.19,122.71 39.48,121.15 40.76,119.59 42.04,118.03 43.32,116.48 44.61,114.93 45.89,113.39 47.17,111.85 48.45,110.32 49.74,108.8 51.02,107.28 52.3,105.77 53.58,104.26 54.87,102.77 56.15,101.28 57.43,99.8 58.71,98.33 60,96.87 61.28,95.42 62.56,93.98 63.84,92.55 65.12,91.13 66.41,89.72 67.69,88.32 68.97,86.94 70.25,85.56 71.54,84.21 72.82,82.87 74.1,81.54 75.38,80.22 76.67,78.92 77.95,77.64 79.23,76.37 80.51,75.12 81.8,73.88 83.08,72.66 84.36,71.45 85.64,70.26 86.93,69.09 88.21,67.93 89.49,66.78 90.77,65.65 92.06,64.54 93.34,63.44 94.62,62.36 95.9,61.29 97.18,60.24 98.47,59.21 99.75,58.18 101.03,57.18 102.31,56.19 103.6,55.21 104.88,54.25 106.16,53.3 107.44,52.36 108.73,51.44 110.01,50.52 111.29,49.62 112.57,48.73 113.86,47.85 115.14,46.99 116.42,46.13 117.7,45.29 118.99,44.46 120.27,43.64 121.55,42.83 122.83,42.03 124.12,41.25 125.4,40.48 126.68,39.72 127.96,38.97 129.24,38.23 130.53,37.5 131.81,36.78 133.09,36.07 134.37,35.37 135.66,34.68 136.94,34 138.22,33.33 139.5,32.66 140.79,32.01 142.07,31.36 143.35,30.72 144.63,30.08 145.92,29.45 147.2,28.83 148.48,28.21 149.76,27.6 151.05,27 152.33,26.4 153.61,25.8 154.89,25.21 156.18,24.62 157.46,24.04 158.74,23.46 160.02,22.88 161.3,22.31 162.59,21.74 163.87,21.17 165.15,20.6 166.43,20.03 167.72,19.46 169,18.89 170.28,18.33 171.56,17.77 172.85,17.22 174.13,16.68 175.41,16.15 176.69,15.63 177.98,15.13 179.26,14.65 180.54,14.21 181.82,13.8 183.11,13.41 184.39,13.06 185.67,12.72 186.95,12.4 188.24,12.1 189.52,11.81 190.8,11.53" fill="none" stroke="#4676b6" stroke-width="1.1" stroke-linejoin="round" stroke-linecap="round"/><polyline points="30.5,136.96 31.78,135.22 33.06,133.53 34.35,131.85 35.63,130.17 36.91,128.5 38.19,126.84 39.48,125.18 40.76,123.52 42.04,121.87 43.32,120.23 44.61,118.59 45.89,116.96 47.17,115.33 48.45,113.72 49.74,112.11 51.02,110.51 52.3,108.92 53.58,107.34 54.87,105.77 56.15,104.22 57.43,102.67 58.71,101.13 60,99.61 61.28,98.09 62.56,96.59 63.84,95.1 65.12,93.63 66.41,92.16 67.69,90.71 68.97,89.28 70.25,87.86 71.54,86.45 72.82,85.07 74.1,83.69 75.38,82.34 76.67,81 77.95,79.67 79.23,78.36 80.51,77.07 81.8,75.8 83.08,74.54 84.36,73.29 85.64,72.07 86.93,70.86 88.21,69.66 89.49,68.49 90.77,67.33 92.06,66.18 93.34,65.05 94.62,63.94 95.9,62.84 97.18,61.76 98.47,60.7 99.75,59.65 101.03,58.61 102.31,57.6 103.6,56.59 104.88,55.6 106.16,54.63 107.44,53.66 108.73,52.71 110.01,51.78 111.29,50.85 112.57,49.94 113.86,49.04 115.14,48.15 116.42,47.28 117.7,46.42 118.99,45.56 120.27,44.73 121.55,43.9 122.83,43.08 124.12,42.28 125.4,41.49 126.68,40.7 127.96,39.93 129.24,39.17 130.53,38.42 131.81,37.68 133.09,36.96 134.37,36.24 135.66,35.52 136.94,34.82 138.22,34.13 139.5,33.44 140.79,32.77 142.07,32.1 143.35,31.43 144.63,30.78 145.92,30.13 147.2,29.49 148.48,28.86 149.76,28.23 151.05,27.6 152.33,26.99 153.61,26.38 154.89,25.77 156.18,25.17 157.46,24.57 158.74,23.98 160.02,23.39 161.3,22.81 162.59,22.23 163.87,21.65 165.15,21.07 166.43,20.5 167.72,19.93 169,19.36 170.28,18.8 171.56,18.24 172.85,17.69 174.13,17.14 175.41,16.61 176.69,16.08 177.98,15.57 179.26,15.07 180.54,14.6 181.82,14.15 183.11,13.72 184.39,13.31 185.67,12.91 186.95,12.53 188.24,12.17 189.52,11.83 190.8,11.53" fill="none" stroke="#d8362c" stroke-width="1.1" stroke-linejoin="round" stroke-linecap="round"/><polyline points="30.5,145.25 31.78,143.47 33.06,141.69 34.35,139.91 35.63,138.14 36.91,136.36 38.19,134.6 39.48,132.83 40.76,131.07 42.04,129.32 43.32,127.58 44.61,125.84 45.89,124.11 47.17,122.39 48.45,120.68 49.74,118.97 51.02,117.28 52.3,115.61 53.58,113.94 54.87,112.28 56.15,110.64 57.43,109.01 58.71,107.4 60,105.8 61.28,104.21 62.56,102.64 63.84,101.08 65.12,99.54 66.41,98.02 67.69,96.51 68.97,95.02 70.25,93.55 71.54,92.09 72.82,90.65 74.1,89.22 75.38,87.82 76.67,86.43 77.95,85.05 79.23,83.7 80.51,82.36 81.8,81.04 83.08,79.74 84.36,78.45 85.64,77.18 86.93,75.93 88.21,74.69 89.49,73.47 90.77,72.27 92.06,71.09 93.34,69.92 94.62,68.76 95.9,67.63 97.18,66.5 98.47,65.4 99.75,64.31 101.03,63.23 102.31,62.17 103.6,61.13 104.88,60.09 106.16,59.08 107.44,58.07 108.73,57.08 110.01,56.11 111.29,55.14 112.57,54.19 113.86,53.25 115.14,52.33 116.42,51.41 117.7,50.51 118.99,49.62 120.27,48.74 121.55,47.88 122.83,47.02 124.12,46.17 125.4,45.34 126.68,44.51 127.96,43.69 129.24,42.89 130.53,42.09 131.81,41.3 133.09,40.52 134.37,39.75 135.66,38.99 136.94,38.23 138.22,37.49 139.5,36.75 140.79,36.02 142.07,35.29 143.35,34.57 144.63,33.86 145.92,33.16 147.2,32.46 148.48,31.77 149.76,31.09 151.05,30.41 152.33,29.74 153.61,29.07 154.89,28.41 156.18,27.75 157.46,27.1 158.74,26.45 160.02,25.81 161.3,25.18 162.59,24.54 163.87,23.92 165.15,23.29 166.43,22.67 167.72,22.06 169,21.45 170.28,20.84 171.56,20.23 172.85,19.63 174.13,19.03 175.41,18.44 176.69,17.85 177.98,17.26 179.26,16.68 180.54,16.1 181.82,15.52 183.11,14.94 184.39,14.37 185.67,13.79 186.95,13.23 188.24,12.66 189.52,12.1 190.8,11.53" fill="none" stroke="#2d5898" stroke-width="1.45" stroke-linejoin="round" stroke-linecap="round"/><polyline points="30.5,131.16 31.78,129.62 33.06,128.07 34.35,126.52 35.63,124.98 36.91,123.43 38.19,121.88 39.48,120.34 40.76,118.79 42.04,117.25 43.32,115.72 44.61,114.19 45.89,112.66 47.17,111.13 48.45,109.62 49.74,108.11 51.02,106.6 52.3,105.1 53.58,103.61 54.87,102.13 56.15,100.66 57.43,99.19 58.71,97.73 60,96.28 61.28,94.84 62.56,93.41 63.84,91.99 65.12,90.58 66.41,89.18 67.69,87.79 68.97,86.41 70.25,85.05 71.54,83.7 72.82,82.37 74.1,81.04 75.38,79.74 76.67,78.45 77.95,77.17 79.23,75.91 80.51,74.66 81.8,73.43 83.08,72.22 84.36,71.01 85.64,69.83 86.93,68.66 88.21,67.51 89.49,66.37 90.77,65.24 92.06,64.14 93.34,63.04 94.62,61.97 95.9,60.91 97.18,59.86 98.47,58.83 99.75,57.81 101.03,56.81 102.31,55.82 103.6,54.85 104.88,53.9 106.16,52.95 107.44,52.02 108.73,51.1 110.01,50.19 111.29,49.29 112.57,48.41 113.86,47.53 115.14,46.67 116.42,45.82 117.7,44.98 118.99,44.16 120.27,43.34 121.55,42.54 122.83,41.74 124.12,40.96 125.4,40.2 126.68,39.44 127.96,38.69 129.24,37.96 130.53,37.24 131.81,36.52 133.09,35.82 134.37,35.12 135.66,34.44 136.94,33.76 138.22,33.09 139.5,32.43 140.79,31.78 142.07,31.14 143.35,30.5 144.63,29.87 145.92,29.24 147.2,28.63 148.48,28.01 149.76,27.41 151.05,26.81 152.33,26.21 153.61,25.62 154.89,25.03 156.18,24.45 157.46,23.87 158.74,23.29 160.02,22.72 161.3,22.15 162.59,21.59 163.87,21.02 165.15,20.45 166.43,19.88 167.72,19.31 169,18.75 170.28,18.19 171.56,17.63 172.85,17.09 174.13,16.55 175.41,16.02 176.69,15.51 177.98,15.01 179.26,14.54 180.54,14.1 181.82,13.7 183.11,13.33 184.39,12.98 185.67,12.66 186.95,12.36 188.24,12.07 189.52,11.8 190.8,11.53" fill="none" stroke="#2d5898" stroke-width="1.45" stroke-linejoin="round" stroke-linecap="round"/><rect x="30.5" y="4.5" width="176.5" height="140.75" fill="none" stroke="#111" stroke-width="1.15"/><line x1="30.5" y1="145.25" x2="30.5" y2="142.25" stroke="#000" stroke-width="1"/><text x="30.5" y="156.2" font-size="8.8" text-anchor="middle" stroke="#000">0</text><line x1="62.56" y1="145.25" x2="62.56" y2="142.25" stroke="#000" stroke-width="1"/><text x="62.56" y="156.2" font-size="8.8" text-anchor="middle" stroke="#000">100</text><line x1="94.62" y1="145.25" x2="94.62" y2="142.25" stroke="#000" stroke-width="1"/><text x="94.62" y="156.2" font-size="8.8" text-anchor="middle" stroke="#000">200</text><line x1="126.68" y1="145.25" x2="126.68" y2="142.25" stroke="#000" stroke-width="1"/><text x="126.68" y="156.2" font-size="8.8" text-anchor="middle" stroke="#000">300</text><line x1="158.74" y1="145.25" x2="158.74" y2="142.25" stroke="#000" stroke-width="1"/><text x="158.74" y="156.2" font-size="8.8" text-anchor="middle" stroke="#000">400</text><line x1="190.8" y1="145.25" x2="190.8" y2="142.25" stroke="#000" stroke-width="1"/><text x="190.8" y="156.2" font-size="8.8" text-anchor="middle" stroke="#000">500</text><line x1="30.5" y1="145.25" x2="33.5" y2="145.25" stroke="#000" stroke-width="1"/><text x="27" y="147.7" font-size="8.8" text-anchor="end" stroke="#000">0</text><line x1="30.5" y1="113.95" x2="33.5" y2="113.95" stroke="#000" stroke-width="1"/><text x="27" y="116.4" font-size="8.8" text-anchor="end" stroke="#000">10</text><line x1="30.5" y1="82.65" x2="33.5" y2="82.65" stroke="#000" stroke-width="1"/><text x="27" y="85.1" font-size="8.8" text-anchor="end" stroke="#000">20</text><line x1="30.5" y1="51.35" x2="33.5" y2="51.35" stroke="#000" stroke-width="1"/><text x="27" y="53.8" font-size="8.8" text-anchor="end" stroke="#000">30</text><line x1="30.5" y1="20.05" x2="33.5" y2="20.05" stroke="#000" stroke-width="1"/><text x="27" y="22.5" font-size="8.8" text-anchor="end" stroke="#000">40</text><text x="-0.8" y="10" font-size="13" font-weight="bold" stroke="#000">a</text><text x="118.75" y="171" font-size="9.9" text-anchor="middle" stroke="#000">Electric field (kV cm<tspan dy="-3.8" font-size="7">−1</tspan><tspan dy="3.8">)</tspan></text><text transform="translate(9.9,74.88) rotate(-90)" font-size="9.9" text-anchor="middle" stroke="#000">Polarization (μC cm<tspan dy="-3.8" font-size="7">−2</tspan><tspan dy="3.8">)</tspan></text><rect x="163.5" y="61" width="7.2" height="77.8" fill="url(#cbA)"/><text x="168.7" y="56.7" font-size="8.6" text-anchor="middle" stroke="#000">(°C)</text><text x="173.8" y="69.8" font-size="8.3" stroke="#000">140</text><text x="173.8" y="105.3" font-size="8.3" stroke="#000">80</text><text x="173.8" y="140.9" font-size="8.3" stroke="#000">20</text><polyline points="263.5,145.25 264.78,143.52 266.06,141.69 267.35,139.85 268.63,138 269.91,136.15 271.19,134.3 272.48,132.45 273.76,130.6 275.04,128.76 276.32,126.93 277.61,125.1 278.89,123.28 280.17,121.47 281.45,119.67 282.74,117.88 284.02,116.1 285.3,114.33 286.58,112.58 287.87,110.84 289.15,109.12 290.43,107.41 291.71,105.71 293,104.04 294.28,102.38 295.56,100.73 296.84,99.11 298.12,97.5 299.41,95.91 300.69,94.34 301.97,92.79 303.25,91.26 304.54,89.75 305.82,88.25 307.1,86.78 308.38,85.33 309.67,83.89 310.95,82.48 312.23,81.09 313.51,79.71 314.8,78.36 316.08,77.03 317.36,75.71 318.64,74.42 319.93,73.14 321.21,71.89 322.49,70.65 323.77,69.44 325.06,68.24 326.34,67.06 327.62,65.9 328.9,64.75 330.18,63.63 331.47,62.52 332.75,61.43 334.03,60.36 335.31,59.31 336.6,58.27 337.88,57.25 339.16,56.24 340.44,55.25 341.73,54.27 343.01,53.31 344.29,52.37 345.57,51.44 346.86,50.52 348.14,49.62 349.42,48.73 350.7,47.85 351.99,46.99 353.27,46.14 354.55,45.3 355.83,44.47 357.12,43.66 358.4,42.86 359.68,42.06 360.96,41.28 362.24,40.51 363.53,39.75 364.81,39 366.09,38.26 367.37,37.52 368.66,36.8 369.94,36.09 371.22,35.38 372.5,34.68 373.79,33.99 375.07,33.31 376.35,32.64 377.63,31.97 378.92,31.31 380.2,30.65 381.48,30.01 382.76,29.37 384.05,28.73 385.33,28.1 386.61,27.48 387.89,26.86 389.18,26.25 390.46,25.64 391.74,25.04 393.02,24.44 394.3,23.85 395.59,23.26 396.87,22.68 398.15,22.09 399.43,21.52 400.72,20.94 402,20.37 403.28,19.81 404.56,19.24 405.85,18.68 407.13,18.12 408.41,17.56 409.69,17.01 410.98,16.46 412.26,15.9 413.54,15.35 414.82,14.8 416.11,14.25 417.39,13.7 418.67,13.15 419.95,12.59 421.24,12.03 422.52,11.45 423.8,10.78" fill="none" stroke="#b3232b" stroke-width="1.3" stroke-linejoin="round" stroke-linecap="round"/><polyline points="263.5,145.25 264.78,143.5 266.06,141.66 267.35,139.81 268.63,137.95 269.91,136.1 271.19,134.24 272.48,132.38 273.76,130.53 275.04,128.68 276.32,126.84 277.61,125.01 278.89,123.19 280.17,121.37 281.45,119.56 282.74,117.77 284.02,115.99 285.3,114.22 286.58,112.46 287.87,110.72 289.15,108.99 290.43,107.28 291.71,105.58 293,103.9 294.28,102.24 295.56,100.6 296.84,98.97 298.12,97.36 299.41,95.77 300.69,94.19 301.97,92.64 303.25,91.11 304.54,89.59 305.82,88.1 307.1,86.62 308.38,85.16 309.67,83.73 310.95,82.31 312.23,80.92 313.51,79.54 314.8,78.19 316.08,76.85 317.36,75.54 318.64,74.24 319.93,72.96 321.21,71.71 322.49,70.47 323.77,69.25 325.06,68.05 326.34,66.87 327.62,65.71 328.9,64.57 330.18,63.44 331.47,62.33 332.75,61.24 334.03,60.17 335.31,59.12 336.6,58.08 337.88,57.05 339.16,56.05 340.44,55.06 341.73,54.08 343.01,53.12 344.29,52.18 345.57,51.25 346.86,50.33 348.14,49.43 349.42,48.54 350.7,47.66 351.99,46.8 353.27,45.95 354.55,45.11 355.83,44.29 357.12,43.47 358.4,42.67 359.68,41.88 360.96,41.1 362.24,40.33 363.53,39.57 364.81,38.82 366.09,38.08 367.37,37.34 368.66,36.62 369.94,35.91 371.22,35.21 372.5,34.51 373.79,33.82 375.07,33.14 376.35,32.47 377.63,31.8 378.92,31.14 380.2,30.49 381.48,29.85 382.76,29.21 384.05,28.58 385.33,27.95 386.61,27.33 387.89,26.71 389.18,26.1 390.46,25.5 391.74,24.9 393.02,24.31 394.3,23.72 395.59,23.13 396.87,22.55 398.15,21.97 399.43,21.4 400.72,20.83 402,20.26 403.28,19.7 404.56,19.14 405.85,18.58 407.13,18.02 408.41,17.47 409.69,16.92 410.98,16.37 412.26,15.83 413.54,15.28 414.82,14.74 416.11,14.19 417.39,13.65 418.67,13.1 419.95,12.55 421.24,12 422.52,11.43 423.8,10.78" fill="none" stroke="#cf2f30" stroke-width="1.2" stroke-linejoin="round" stroke-linecap="round"/><polyline points="263.5,145.25 264.78,143.47 266.06,141.63 267.35,139.77 268.63,137.91 269.91,136.04 271.19,134.18 272.48,132.32 273.76,130.46 275.04,128.61 276.32,126.76 277.61,124.92 278.89,123.09 280.17,121.27 281.45,119.46 282.74,117.67 284.02,115.88 285.3,114.11 286.58,112.35 287.87,110.6 289.15,108.87 290.43,107.15 291.71,105.45 293,103.77 294.28,102.1 295.56,100.46 296.84,98.83 298.12,97.21 299.41,95.62 300.69,94.04 301.97,92.49 303.25,90.95 304.54,89.43 305.82,87.94 307.1,86.46 308.38,85 309.67,83.56 310.95,82.15 312.23,80.75 313.51,79.37 314.8,78.01 316.08,76.68 317.36,75.36 318.64,74.06 319.93,72.79 321.21,71.53 322.49,70.29 323.77,69.07 325.06,67.87 326.34,66.69 327.62,65.53 328.9,64.38 330.18,63.26 331.47,62.15 332.75,61.06 334.03,59.98 335.31,58.93 336.6,57.89 337.88,56.86 339.16,55.86 340.44,54.87 341.73,53.89 343.01,52.93 344.29,51.99 345.57,51.05 346.86,50.14 348.14,49.24 349.42,48.35 350.7,47.47 351.99,46.61 353.27,45.76 354.55,44.92 355.83,44.1 357.12,43.28 358.4,42.48 359.68,41.69 360.96,40.91 362.24,40.14 363.53,39.38 364.81,38.63 366.09,37.9 367.37,37.17 368.66,36.45 369.94,35.73 371.22,35.03 372.5,34.34 373.79,33.65 375.07,32.97 376.35,32.3 377.63,31.64 378.92,30.98 380.2,30.33 381.48,29.69 382.76,29.05 384.05,28.42 385.33,27.8 386.61,27.18 387.89,26.57 389.18,25.96 390.46,25.36 391.74,24.76 393.02,24.17 394.3,23.58 395.59,23 396.87,22.42 398.15,21.85 399.43,21.28 400.72,20.71 402,20.15 403.28,19.59 404.56,19.03 405.85,18.48 407.13,17.93 408.41,17.38 409.69,16.83 410.98,16.29 412.26,15.75 413.54,15.21 414.82,14.67 416.11,14.13 417.39,13.59 418.67,13.05 419.95,12.51 421.24,11.96 422.52,11.4 423.8,10.78" fill="none" stroke="#eb6142" stroke-width="1.2" stroke-linejoin="round" stroke-linecap="round"/><polyline points="263.5,145.25 264.78,143.45 266.06,141.6 267.35,139.73 268.63,137.86 269.91,135.99 271.19,134.12 272.48,132.25 273.76,130.39 275.04,128.53 276.32,126.68 277.61,124.83 278.89,123 280.17,121.18 281.45,119.36 282.74,117.56 284.02,115.77 285.3,113.99 286.58,112.23 287.87,110.48 289.15,108.75 290.43,107.03 291.71,105.32 293,103.64 294.28,101.97 295.56,100.32 296.84,98.68 298.12,97.07 299.41,95.47 300.69,93.89 301.97,92.34 303.25,90.8 304.54,89.28 305.82,87.78 307.1,86.3 308.38,84.84 309.67,83.4 310.95,81.98 312.23,80.58 313.51,79.2 314.8,77.84 316.08,76.5 317.36,75.18 318.64,73.89 319.93,72.61 321.21,71.35 322.49,70.11 323.77,68.89 325.06,67.69 326.34,66.5 327.62,65.34 328.9,64.19 330.18,63.07 331.47,61.96 332.75,60.87 334.03,59.79 335.31,58.74 336.6,57.7 337.88,56.67 339.16,55.67 340.44,54.68 341.73,53.7 343.01,52.74 344.29,51.79 345.57,50.86 346.86,49.95 348.14,49.05 349.42,48.16 350.7,47.28 351.99,46.42 353.27,45.57 354.55,44.73 355.83,43.91 357.12,43.1 358.4,42.3 359.68,41.51 360.96,40.73 362.24,39.96 363.53,39.2 364.81,38.45 366.09,37.72 367.37,36.99 368.66,36.27 369.94,35.56 371.22,34.86 372.5,34.16 373.79,33.48 375.07,32.8 376.35,32.13 377.63,31.47 378.92,30.82 380.2,30.17 381.48,29.53 382.76,28.89 384.05,28.27 385.33,27.65 386.61,27.03 387.89,26.42 389.18,25.82 390.46,25.22 391.74,24.62 393.02,24.03 394.3,23.45 395.59,22.87 396.87,22.29 398.15,21.72 399.43,21.16 400.72,20.59 402,20.03 403.28,19.48 404.56,18.93 405.85,18.38 407.13,17.83 408.41,17.29 409.69,16.75 410.98,16.21 412.26,15.67 413.54,15.14 414.82,14.6 416.11,14.07 417.39,13.54 418.67,13 419.95,12.47 421.24,11.93 422.52,11.38 423.8,10.78" fill="none" stroke="#f7985b" stroke-width="1.2" stroke-linejoin="round" stroke-linecap="round"/><polyline points="263.5,145.25 264.78,143.43 266.06,141.56 267.35,139.69 268.63,137.81 269.91,135.93 271.19,134.05 272.48,132.18 273.76,130.31 275.04,128.45 276.32,126.59 277.61,124.75 278.89,122.91 280.17,121.08 281.45,119.26 282.74,117.46 284.02,115.66 285.3,113.88 286.58,112.11 287.87,110.36 289.15,108.62 290.43,106.9 291.71,105.19 293,103.5 294.28,101.83 295.56,100.18 296.84,98.54 298.12,96.92 299.41,95.32 300.69,93.74 301.97,92.18 303.25,90.64 304.54,89.12 305.82,87.62 307.1,86.14 308.38,84.67 309.67,83.23 310.95,81.81 312.23,80.41 313.51,79.03 314.8,77.67 316.08,76.33 317.36,75.01 318.64,73.71 319.93,72.43 321.21,71.17 322.49,69.93 323.77,68.7 325.06,67.5 326.34,66.32 327.62,65.15 328.9,64.01 330.18,62.88 331.47,61.77 332.75,60.68 334.03,59.6 335.31,58.55 336.6,57.51 337.88,56.48 339.16,55.48 340.44,54.48 341.73,53.51 343.01,52.55 344.29,51.6 345.57,50.67 346.86,49.76 348.14,48.85 349.42,47.97 350.7,47.09 351.99,46.23 353.27,45.38 354.55,44.55 355.83,43.72 357.12,42.91 358.4,42.11 359.68,41.32 360.96,40.54 362.24,39.78 363.53,39.02 364.81,38.27 366.09,37.54 367.37,36.81 368.66,36.09 369.94,35.38 371.22,34.68 372.5,33.99 373.79,33.31 375.07,32.63 376.35,31.97 377.63,31.31 378.92,30.65 380.2,30.01 381.48,29.37 382.76,28.74 384.05,28.11 385.33,27.49 386.61,26.88 387.89,26.27 389.18,25.67 390.46,25.07 391.74,24.48 393.02,23.9 394.3,23.32 395.59,22.74 396.87,22.17 398.15,21.6 399.43,21.04 400.72,20.48 402,19.92 403.28,19.37 404.56,18.82 405.85,18.28 407.13,17.73 408.41,17.19 409.69,16.66 410.98,16.12 412.26,15.59 413.54,15.06 414.82,14.53 416.11,14.01 417.39,13.48 418.67,12.96 419.95,12.43 421.24,11.9 422.52,11.36 423.8,10.78" fill="none" stroke="#fccb84" stroke-width="1.2" stroke-linejoin="round" stroke-linecap="round"/><polyline points="263.5,145.25 264.78,143.41 266.06,141.53 267.35,139.65 268.63,137.76 269.91,135.88 271.19,133.99 272.48,132.11 273.76,130.24 275.04,128.37 276.32,126.51 277.61,124.66 278.89,122.82 280.17,120.98 281.45,119.16 282.74,117.35 284.02,115.55 285.3,113.77 286.58,112 287.87,110.24 289.15,108.5 290.43,106.77 291.71,105.06 293,103.37 294.28,101.7 295.56,100.04 296.84,98.4 298.12,96.78 299.41,95.18 300.69,93.59 301.97,92.03 303.25,90.49 304.54,88.96 305.82,87.46 307.1,85.97 308.38,84.51 309.67,83.07 310.95,81.64 312.23,80.24 313.51,78.86 314.8,77.5 316.08,76.15 317.36,74.83 318.64,73.53 319.93,72.25 321.21,70.99 322.49,69.75 323.77,68.52 325.06,67.32 326.34,66.13 327.62,64.97 328.9,63.82 330.18,62.69 331.47,61.58 332.75,60.49 334.03,59.42 335.31,58.36 336.6,57.32 337.88,56.29 339.16,55.28 340.44,54.29 341.73,53.32 343.01,52.36 344.29,51.41 345.57,50.48 346.86,49.57 348.14,48.66 349.42,47.78 350.7,46.9 351.99,46.04 353.27,45.19 354.55,44.36 355.83,43.53 357.12,42.72 358.4,41.92 359.68,41.13 360.96,40.36 362.24,39.59 363.53,38.84 364.81,38.09 366.09,37.36 367.37,36.63 368.66,35.91 369.94,35.21 371.22,34.51 372.5,33.82 373.79,33.14 375.07,32.46 376.35,31.8 377.63,31.14 378.92,30.49 380.2,29.85 381.48,29.21 382.76,28.58 384.05,27.96 385.33,27.34 386.61,26.73 387.89,26.13 389.18,25.53 390.46,24.93 391.74,24.34 393.02,23.76 394.3,23.18 395.59,22.61 396.87,22.04 398.15,21.48 399.43,20.92 400.72,20.36 402,19.81 403.28,19.26 404.56,18.72 405.85,18.18 407.13,17.64 408.41,17.1 409.69,16.57 410.98,16.04 412.26,15.51 413.54,14.99 414.82,14.47 416.11,13.95 417.39,13.43 418.67,12.91 419.95,12.39 421.24,11.87 422.52,11.34 423.8,10.78" fill="none" stroke="#f4eccc" stroke-width="1.2" stroke-linejoin="round" stroke-linecap="round"/><polyline points="263.5,145.25 264.78,143.39 266.06,141.5 267.35,139.61 268.63,137.71 269.91,135.82 271.19,133.93 272.48,132.05 273.76,130.17 275.04,128.29 276.32,126.43 277.61,124.57 278.89,122.72 280.17,120.89 281.45,119.06 282.74,117.25 284.02,115.44 285.3,113.65 286.58,111.88 287.87,110.12 289.15,108.38 290.43,106.65 291.71,104.93 293,103.24 294.28,101.56 295.56,99.9 296.84,98.26 298.12,96.63 299.41,95.03 300.69,93.44 301.97,91.88 303.25,90.33 304.54,88.81 305.82,87.3 307.1,85.81 308.38,84.35 309.67,82.9 310.95,81.48 312.23,80.07 313.51,78.69 314.8,77.32 316.08,75.98 317.36,74.66 318.64,73.35 319.93,72.07 321.21,70.81 322.49,69.56 323.77,68.34 325.06,67.14 326.34,65.95 327.62,64.78 328.9,63.64 330.18,62.51 331.47,61.39 332.75,60.3 334.03,59.23 335.31,58.17 336.6,57.13 337.88,56.1 339.16,55.09 340.44,54.1 341.73,53.13 343.01,52.17 344.29,51.22 345.57,50.29 346.86,49.37 348.14,48.47 349.42,47.59 350.7,46.71 351.99,45.85 353.27,45 354.55,44.17 355.83,43.35 357.12,42.54 358.4,41.74 359.68,40.95 360.96,40.17 362.24,39.41 363.53,38.65 364.81,37.91 366.09,37.18 367.37,36.45 368.66,35.74 369.94,35.03 371.22,34.33 372.5,33.64 373.79,32.97 375.07,32.29 376.35,31.63 377.63,30.97 378.92,30.33 380.2,29.68 381.48,29.05 382.76,28.42 384.05,27.8 385.33,27.19 386.61,26.58 387.89,25.98 389.18,25.38 390.46,24.79 391.74,24.21 393.02,23.63 394.3,23.05 395.59,22.48 396.87,21.91 398.15,21.35 399.43,20.8 400.72,20.24 402,19.7 403.28,19.15 404.56,18.61 405.85,18.07 407.13,17.54 408.41,17.01 409.69,16.48 410.98,15.96 412.26,15.44 413.54,14.92 414.82,14.4 416.11,13.89 417.39,13.37 418.67,12.86 419.95,12.35 421.24,11.84 422.52,11.32 423.8,10.78" fill="none" stroke="#b5d2e5" stroke-width="1.2" stroke-linejoin="round" stroke-linecap="round"/><polyline points="263.5,145.25 264.78,143.37 266.06,141.47 267.35,139.57 268.63,137.67 269.91,135.77 271.19,133.87 272.48,131.98 273.76,130.09 275.04,128.22 276.32,126.35 277.61,124.48 278.89,122.63 280.17,120.79 281.45,118.96 282.74,117.14 284.02,115.33 285.3,113.54 286.58,111.76 287.87,110 289.15,108.25 290.43,106.52 291.71,104.8 293,103.11 294.28,101.42 295.56,99.76 296.84,98.12 298.12,96.49 299.41,94.88 300.69,93.29 301.97,91.73 303.25,90.18 304.54,88.65 305.82,87.14 307.1,85.65 308.38,84.18 309.67,82.74 310.95,81.31 312.23,79.9 313.51,78.52 314.8,77.15 316.08,75.81 317.36,74.48 318.64,73.18 319.93,71.89 321.21,70.63 322.49,69.38 323.77,68.16 325.06,66.95 326.34,65.77 327.62,64.6 328.9,63.45 330.18,62.32 331.47,61.21 332.75,60.11 334.03,59.04 335.31,57.98 336.6,56.94 337.88,55.91 339.16,54.9 340.44,53.91 341.73,52.93 343.01,51.97 344.29,51.03 345.57,50.1 346.86,49.18 348.14,48.28 349.42,47.39 350.7,46.52 351.99,45.66 353.27,44.81 354.55,43.98 355.83,43.16 357.12,42.35 358.4,41.55 359.68,40.76 360.96,39.99 362.24,39.22 363.53,38.47 364.81,37.73 366.09,37 367.37,36.27 368.66,35.56 369.94,34.85 371.22,34.16 372.5,33.47 373.79,32.79 375.07,32.12 376.35,31.46 377.63,30.81 378.92,30.16 380.2,29.52 381.48,28.89 382.76,28.27 384.05,27.65 385.33,27.04 386.61,26.43 387.89,25.83 389.18,25.24 390.46,24.65 391.74,24.07 393.02,23.49 394.3,22.92 395.59,22.35 396.87,21.79 398.15,21.23 399.43,20.68 400.72,20.13 402,19.58 403.28,19.04 404.56,18.51 405.85,17.97 407.13,17.44 408.41,16.92 409.69,16.39 410.98,15.88 412.26,15.36 413.54,14.84 414.82,14.33 416.11,13.82 417.39,13.32 418.67,12.81 419.95,12.31 421.24,11.8 422.52,11.3 423.8,10.78" fill="none" stroke="#739ecb" stroke-width="1.2" stroke-linejoin="round" stroke-linecap="round"/><polyline points="263.5,145.25 264.78,143.35 266.06,141.44 267.35,139.53 268.63,137.62 269.91,135.71 271.19,133.81 272.48,131.91 273.76,130.02 275.04,128.14 276.32,126.26 277.61,124.4 278.89,122.54 280.17,120.69 281.45,118.86 282.74,117.04 284.02,115.23 285.3,113.43 286.58,111.65 287.87,109.88 289.15,108.13 290.43,106.39 291.71,104.67 293,102.97 294.28,101.29 295.56,99.62 296.84,97.97 298.12,96.34 299.41,94.73 300.69,93.14 301.97,91.57 303.25,90.02 304.54,88.49 305.82,86.98 307.1,85.49 308.38,84.02 309.67,82.57 310.95,81.14 312.23,79.73 313.51,78.34 314.8,76.98 316.08,75.63 317.36,74.3 318.64,73 319.93,71.71 321.21,70.45 322.49,69.2 323.77,67.97 325.06,66.77 326.34,65.58 327.62,64.41 328.9,63.26 330.18,62.13 331.47,61.02 332.75,59.92 334.03,58.85 335.31,57.79 336.6,56.75 337.88,55.72 339.16,54.71 340.44,53.72 341.73,52.74 343.01,51.78 344.29,50.84 345.57,49.91 346.86,48.99 348.14,48.09 349.42,47.2 350.7,46.33 351.99,45.47 353.27,44.62 354.55,43.79 355.83,42.97 357.12,42.16 358.4,41.36 359.68,40.58 360.96,39.8 362.24,39.04 363.53,38.29 364.81,37.55 366.09,36.81 367.37,36.09 368.66,35.38 369.94,34.68 371.22,33.98 372.5,33.3 373.79,32.62 375.07,31.95 376.35,31.3 377.63,30.64 378.92,30 380.2,29.36 381.48,28.73 382.76,28.11 384.05,27.49 385.33,26.88 386.61,26.28 387.89,25.68 389.18,25.09 390.46,24.51 391.74,23.93 393.02,23.35 394.3,22.78 395.59,22.22 396.87,21.66 398.15,21.11 399.43,20.56 400.72,20.01 402,19.47 403.28,18.93 404.56,18.4 405.85,17.87 407.13,17.35 408.41,16.83 409.69,16.31 410.98,15.79 412.26,15.28 413.54,14.77 414.82,14.27 416.11,13.76 417.39,13.26 418.67,12.76 419.95,12.27 421.24,11.77 422.52,11.28 423.8,10.78" fill="none" stroke="#4a75af" stroke-width="1.2" stroke-linejoin="round" stroke-linecap="round"/><polyline points="263.5,136.15 264.78,134.39 266.06,132.61 267.35,130.84 268.63,129.06 269.91,127.29 271.19,125.52 272.48,123.75 273.76,121.99 275.04,120.23 276.32,118.48 277.61,116.74 278.89,115.01 280.17,113.29 281.45,111.57 282.74,109.87 284.02,108.18 285.3,106.5 286.58,104.83 287.87,103.18 289.15,101.54 290.43,99.91 291.71,98.3 293,96.71 294.28,95.13 295.56,93.56 296.84,92.02 298.12,90.49 299.41,88.98 300.69,87.48 301.97,86 303.25,84.54 304.54,83.11 305.82,81.69 307.1,80.29 308.38,78.91 309.67,77.55 310.95,76.2 312.23,74.88 313.51,73.58 314.8,72.3 316.08,71.04 317.36,69.79 318.64,68.57 319.93,67.37 321.21,66.18 322.49,65.01 323.77,63.87 325.06,62.74 326.34,61.62 327.62,60.53 328.9,59.45 330.18,58.4 331.47,57.35 332.75,56.33 334.03,55.32 335.31,54.33 336.6,53.35 337.88,52.39 339.16,51.45 340.44,50.51 341.73,49.6 343.01,48.7 344.29,47.81 345.57,46.93 346.86,46.07 348.14,45.23 349.42,44.4 350.7,43.59 351.99,42.79 353.27,42 354.55,41.22 355.83,40.45 357.12,39.69 358.4,38.93 359.68,38.19 360.96,37.45 362.24,36.72 363.53,35.99 364.81,35.27 366.09,34.55 367.37,33.83 368.66,33.13 369.94,32.43 371.22,31.74 372.5,31.06 373.79,30.39 375.07,29.73 376.35,29.07 377.63,28.42 378.92,27.78 380.2,27.15 381.48,26.53 382.76,25.91 384.05,25.3 385.33,24.7 386.61,24.11 387.89,23.53 389.18,22.95 390.46,22.39 391.74,21.83 393.02,21.28 394.3,20.74 395.59,20.2 396.87,19.67 398.15,19.15 399.43,18.64 400.72,18.13 402,17.63 403.28,17.14 404.56,16.65 405.85,16.17 407.13,15.7 408.41,15.26 409.69,14.82 410.98,14.4 412.26,14 413.54,13.61 414.82,13.22 416.11,12.85 417.39,12.49 418.67,12.14 419.95,11.79 421.24,11.45 422.52,11.12 423.8,10.78" fill="none" stroke="#4a75af" stroke-width="1.2" stroke-linejoin="round" stroke-linecap="round"/><polyline points="263.5,136.66 264.78,134.91 266.06,133.14 267.35,131.36 268.63,129.59 269.91,127.82 271.19,126.04 272.48,124.28 273.76,122.51 275.04,120.75 276.32,119 277.61,117.26 278.89,115.53 280.17,113.8 281.45,112.08 282.74,110.38 284.02,108.68 285.3,107 286.58,105.33 287.87,103.67 289.15,102.03 290.43,100.4 291.71,98.79 293,97.19 294.28,95.61 295.56,94.04 296.84,92.49 298.12,90.96 299.41,89.45 300.69,87.95 301.97,86.47 303.25,85.01 304.54,83.57 305.82,82.14 307.1,80.74 308.38,79.36 309.67,77.99 310.95,76.65 312.23,75.33 313.51,74.02 314.8,72.74 316.08,71.47 317.36,70.22 318.64,69 319.93,67.79 321.21,66.6 322.49,65.43 323.77,64.28 325.06,63.15 326.34,62.03 327.62,60.93 328.9,59.85 330.18,58.79 331.47,57.75 332.75,56.72 334.03,55.71 335.31,54.71 336.6,53.73 337.88,52.77 339.16,51.82 340.44,50.89 341.73,49.97 343.01,49.06 344.29,48.17 345.57,47.29 346.86,46.43 348.14,45.58 349.42,44.75 350.7,43.93 351.99,43.13 353.27,42.33 354.55,41.55 355.83,40.78 357.12,40.01 358.4,39.26 359.68,38.51 360.96,37.77 362.24,37.03 363.53,36.3 364.81,35.58 366.09,34.85 367.37,34.14 368.66,33.43 369.94,32.73 371.22,32.04 372.5,31.36 373.79,30.69 375.07,30.02 376.35,29.36 377.63,28.71 378.92,28.07 380.2,27.44 381.48,26.81 382.76,26.19 384.05,25.58 385.33,24.98 386.61,24.38 387.89,23.8 389.18,23.22 390.46,22.65 391.74,22.09 393.02,21.53 394.3,20.99 395.59,20.45 396.87,19.91 398.15,19.39 399.43,18.87 400.72,18.35 402,17.85 403.28,17.35 404.56,16.85 405.85,16.37 407.13,15.89 408.41,15.44 409.69,14.99 410.98,14.56 412.26,14.15 413.54,13.74 414.82,13.35 416.11,12.97 417.39,12.59 418.67,12.22 419.95,11.86 421.24,11.5 422.52,11.15 423.8,10.78" fill="none" stroke="#739ecb" stroke-width="1.2" stroke-linejoin="round" stroke-linecap="round"/><polyline points="263.5,137.17 264.78,135.44 266.06,133.67 267.35,131.89 268.63,130.12 269.91,128.34 271.19,126.57 272.48,124.8 273.76,123.04 275.04,121.28 276.32,119.52 277.61,117.78 278.89,116.04 280.17,114.31 281.45,112.59 282.74,110.88 284.02,109.19 285.3,107.5 286.58,105.83 287.87,104.17 289.15,102.53 290.43,100.89 291.71,99.28 293,97.68 294.28,96.09 295.56,94.52 296.84,92.97 298.12,91.44 299.41,89.92 300.69,88.42 301.97,86.93 303.25,85.47 304.54,84.02 305.82,82.6 307.1,81.19 308.38,79.81 309.67,78.44 310.95,77.09 312.23,75.77 313.51,74.46 314.8,73.17 316.08,71.9 317.36,70.65 318.64,69.42 319.93,68.21 321.21,67.02 322.49,65.85 323.77,64.69 325.06,63.56 326.34,62.44 327.62,61.34 328.9,60.26 330.18,59.19 331.47,58.14 332.75,57.11 334.03,56.1 335.31,55.1 336.6,54.11 337.88,53.15 339.16,52.19 340.44,51.26 341.73,50.33 343.01,49.43 344.29,48.53 345.57,47.65 346.86,46.78 348.14,45.93 349.42,45.1 350.7,44.28 351.99,43.47 353.27,42.67 354.55,41.88 355.83,41.11 357.12,40.34 358.4,39.58 359.68,38.83 360.96,38.08 362.24,37.35 363.53,36.61 364.81,35.89 366.09,35.16 367.37,34.44 368.66,33.74 369.94,33.04 371.22,32.34 372.5,31.66 373.79,30.98 375.07,30.32 376.35,29.66 377.63,29 378.92,28.36 380.2,27.72 381.48,27.09 382.76,26.47 384.05,25.86 385.33,25.25 386.61,24.65 387.89,24.07 389.18,23.48 390.46,22.91 391.74,22.34 393.02,21.79 394.3,21.23 395.59,20.69 396.87,20.15 398.15,19.62 399.43,19.1 400.72,18.58 402,18.06 403.28,17.56 404.56,17.06 405.85,16.56 407.13,16.08 408.41,15.62 409.69,15.16 410.98,14.73 412.26,14.3 413.54,13.88 414.82,13.48 416.11,13.08 417.39,12.69 418.67,12.3 419.95,11.93 421.24,11.55 422.52,11.18 423.8,10.78" fill="none" stroke="#b5d2e5" stroke-width="1.2" stroke-linejoin="round" stroke-linecap="round"/><polyline points="263.5,137.69 264.78,135.96 266.06,134.2 267.35,132.42 268.63,130.65 269.91,128.87 271.19,127.1 272.48,125.33 273.76,123.56 275.04,121.8 276.32,120.04 277.61,118.3 278.89,116.56 280.17,114.82 281.45,113.1 282.74,111.39 284.02,109.69 285.3,108.01 286.58,106.33 287.87,104.67 289.15,103.02 290.43,101.39 291.71,99.77 293,98.16 294.28,96.57 295.56,95 296.84,93.45 298.12,91.91 299.41,90.39 300.69,88.88 301.97,87.4 303.25,85.93 304.54,84.48 305.82,83.06 307.1,81.65 308.38,80.26 309.67,78.89 310.95,77.54 312.23,76.21 313.51,74.9 314.8,73.61 316.08,72.34 317.36,71.08 318.64,69.85 319.93,68.64 321.21,67.44 322.49,66.26 323.77,65.11 325.06,63.97 326.34,62.85 327.62,61.74 328.9,60.66 330.18,59.59 331.47,58.54 332.75,57.5 334.03,56.48 335.31,55.48 336.6,54.49 337.88,53.52 339.16,52.57 340.44,51.63 341.73,50.7 343.01,49.79 344.29,48.89 345.57,48.01 346.86,47.14 348.14,46.29 349.42,45.45 350.7,44.62 351.99,43.81 353.27,43.01 354.55,42.22 355.83,41.44 357.12,40.67 358.4,39.9 359.68,39.15 360.96,38.4 362.24,37.66 363.53,36.93 364.81,36.19 366.09,35.47 367.37,34.75 368.66,34.04 369.94,33.34 371.22,32.64 372.5,31.96 373.79,31.28 375.07,30.61 376.35,29.95 377.63,29.29 378.92,28.65 380.2,28.01 381.48,27.38 382.76,26.75 384.05,26.14 385.33,25.53 386.61,24.93 387.89,24.33 389.18,23.75 390.46,23.17 391.74,22.6 393.02,22.04 394.3,21.48 395.59,20.93 396.87,20.39 398.15,19.85 399.43,19.32 400.72,18.8 402,18.28 403.28,17.77 404.56,17.26 405.85,16.76 407.13,16.27 408.41,15.8 409.69,15.34 410.98,14.89 412.26,14.45 413.54,14.02 414.82,13.6 416.11,13.19 417.39,12.79 418.67,12.39 419.95,11.99 421.24,11.6 422.52,11.21 423.8,10.78" fill="none" stroke="#f4eccc" stroke-width="1.2" stroke-linejoin="round" stroke-linecap="round"/><polyline points="263.5,138.2 264.78,136.49 266.06,134.72 267.35,132.95 268.63,131.18 269.91,129.4 271.19,127.63 272.48,125.85 273.76,124.08 275.04,122.32 276.32,120.56 277.61,118.81 278.89,117.07 280.17,115.34 281.45,113.61 282.74,111.9 284.02,110.2 285.3,108.51 286.58,106.83 287.87,105.16 289.15,103.51 290.43,101.88 291.71,100.25 293,98.65 294.28,97.06 295.56,95.48 296.84,93.92 298.12,92.38 299.41,90.86 300.69,89.35 301.97,87.86 303.25,86.39 304.54,84.94 305.82,83.51 307.1,82.1 308.38,80.71 309.67,79.34 310.95,77.98 312.23,76.65 313.51,75.34 314.8,74.04 316.08,72.77 317.36,71.51 318.64,70.28 319.93,69.06 321.21,67.86 322.49,66.68 323.77,65.52 325.06,64.38 326.34,63.25 327.62,62.15 328.9,61.06 330.18,59.98 331.47,58.93 332.75,57.89 334.03,56.87 335.31,55.86 336.6,54.88 337.88,53.9 339.16,52.94 340.44,52 341.73,51.07 343.01,50.15 344.29,49.25 345.57,48.37 346.86,47.49 348.14,46.64 349.42,45.79 350.7,44.97 351.99,44.15 353.27,43.34 354.55,42.55 355.83,41.77 357.12,40.99 358.4,40.23 359.68,39.47 360.96,38.72 362.24,37.97 363.53,37.24 364.81,36.5 366.09,35.78 367.37,35.06 368.66,34.34 369.94,33.64 371.22,32.94 372.5,32.26 373.79,31.58 375.07,30.9 376.35,30.24 377.63,29.58 378.92,28.94 380.2,28.29 381.48,27.66 382.76,27.03 384.05,26.41 385.33,25.8 386.61,25.2 387.89,24.6 389.18,24.01 390.46,23.43 391.74,22.86 393.02,22.29 394.3,21.73 395.59,21.18 396.87,20.63 398.15,20.09 399.43,19.55 400.72,19.02 402,18.5 403.28,17.98 404.56,17.46 405.85,16.96 407.13,16.46 408.41,15.98 409.69,15.51 410.98,15.05 412.26,14.6 413.54,14.16 414.82,13.73 416.11,13.3 417.39,12.88 418.67,12.47 419.95,12.06 421.24,11.65 422.52,11.24 423.8,10.78" fill="none" stroke="#fccb84" stroke-width="1.2" stroke-linejoin="round" stroke-linecap="round"/><polyline points="263.5,138.71 264.78,137.01 266.06,135.25 267.35,133.48 268.63,131.71 269.91,129.93 271.19,128.15 272.48,126.38 273.76,124.61 275.04,122.84 276.32,121.08 277.61,119.33 278.89,117.59 280.17,115.85 281.45,114.12 282.74,112.41 284.02,110.7 285.3,109.01 286.58,107.33 287.87,105.66 289.15,104.01 290.43,102.37 291.71,100.74 293,99.13 294.28,97.54 295.56,95.96 296.84,94.4 298.12,92.86 299.41,91.33 300.69,89.82 301.97,88.33 303.25,86.86 304.54,85.4 305.82,83.97 307.1,82.56 308.38,81.16 309.67,79.78 310.95,78.43 312.23,77.09 313.51,75.78 314.8,74.48 316.08,73.2 317.36,71.94 318.64,70.7 319.93,69.48 321.21,68.28 322.49,67.1 323.77,65.93 325.06,64.79 326.34,63.66 327.62,62.55 328.9,61.46 330.18,60.38 331.47,59.32 332.75,58.28 334.03,57.26 335.31,56.25 336.6,55.26 337.88,54.28 339.16,53.32 340.44,52.37 341.73,51.44 343.01,50.52 344.29,49.62 345.57,48.72 346.86,47.85 348.14,46.99 349.42,46.14 350.7,45.31 351.99,44.49 353.27,43.68 354.55,42.88 355.83,42.1 357.12,41.32 358.4,40.55 359.68,39.79 360.96,39.04 362.24,38.29 363.53,37.55 364.81,36.81 366.09,36.08 367.37,35.36 368.66,34.65 369.94,33.94 371.22,33.24 372.5,32.56 373.79,31.87 375.07,31.2 376.35,30.53 377.63,29.87 378.92,29.22 380.2,28.58 381.48,27.94 382.76,27.31 384.05,26.69 385.33,26.08 386.61,25.47 387.89,24.87 389.18,24.28 390.46,23.69 391.74,23.11 393.02,22.54 394.3,21.98 395.59,21.42 396.87,20.87 398.15,20.32 399.43,19.78 400.72,19.24 402,18.71 403.28,18.19 404.56,17.67 405.85,17.15 407.13,16.65 408.41,16.16 409.69,15.68 410.98,15.21 412.26,14.75 413.54,14.3 414.82,13.85 416.11,13.42 417.39,12.98 418.67,12.55 419.95,12.13 421.24,11.7 422.52,11.27 423.8,10.78" fill="none" stroke="#f7985b" stroke-width="1.2" stroke-linejoin="round" stroke-linecap="round"/><polyline points="263.5,139.22 264.78,137.53 266.06,135.78 267.35,134.01 268.63,132.23 269.91,130.46 271.19,128.68 272.48,126.91 273.76,125.13 275.04,123.37 276.32,121.6 277.61,119.85 278.89,118.1 280.17,116.36 281.45,114.63 282.74,112.92 284.02,111.21 285.3,109.51 286.58,107.83 287.87,106.16 289.15,104.5 290.43,102.86 291.71,101.23 293,99.62 294.28,98.02 295.56,96.44 296.84,94.88 298.12,93.33 299.41,91.8 300.69,90.29 301.97,88.8 303.25,87.32 304.54,85.86 305.82,84.43 307.1,83.01 308.38,81.61 309.67,80.23 310.95,78.87 312.23,77.53 313.51,76.21 314.8,74.91 316.08,73.63 317.36,72.37 318.64,71.13 319.93,69.9 321.21,68.7 322.49,67.51 323.77,66.35 325.06,65.2 326.34,64.07 327.62,62.95 328.9,61.86 330.18,60.78 331.47,59.72 332.75,58.67 334.03,57.65 335.31,56.63 336.6,55.64 337.88,54.66 339.16,53.69 340.44,52.74 341.73,51.81 343.01,50.88 344.29,49.98 345.57,49.08 346.86,48.2 348.14,47.34 349.42,46.49 350.7,45.65 351.99,44.83 353.27,44.02 354.55,43.22 355.83,42.43 357.12,41.64 358.4,40.87 359.68,40.11 360.96,39.35 362.24,38.6 363.53,37.86 364.81,37.12 366.09,36.39 367.37,35.67 368.66,34.95 369.94,34.24 371.22,33.55 372.5,32.85 373.79,32.17 375.07,31.49 376.35,30.83 377.63,30.16 378.92,29.51 380.2,28.87 381.48,28.23 382.76,27.59 384.05,26.97 385.33,26.35 386.61,25.74 387.89,25.14 389.18,24.54 390.46,23.95 391.74,23.37 393.02,22.8 394.3,22.23 395.59,21.66 396.87,21.1 398.15,20.55 399.43,20.01 400.72,19.46 402,18.93 403.28,18.4 404.56,17.87 405.85,17.35 407.13,16.84 408.41,16.34 409.69,15.85 410.98,15.37 412.26,14.9 413.54,14.44 414.82,13.98 416.11,13.53 417.39,13.08 418.67,12.64 419.95,12.2 421.24,11.75 422.52,11.3 423.8,10.78" fill="none" stroke="#eb6142" stroke-width="1.2" stroke-linejoin="round" stroke-linecap="round"/><polyline points="263.5,139.73 264.78,138.06 266.06,136.31 267.35,134.54 268.63,132.76 269.91,130.99 271.19,129.21 272.48,127.43 273.76,125.66 275.04,123.89 276.32,122.12 277.61,120.37 278.89,118.62 280.17,116.88 281.45,115.14 282.74,113.42 284.02,111.71 285.3,110.01 286.58,108.33 287.87,106.65 289.15,104.99 290.43,103.35 291.71,101.72 293,100.1 294.28,98.5 295.56,96.92 296.84,95.35 298.12,93.8 299.41,92.27 300.69,90.76 301.97,89.26 303.25,87.78 304.54,86.32 305.82,84.88 307.1,83.46 308.38,82.06 309.67,80.68 310.95,79.32 312.23,77.98 313.51,76.65 314.8,75.35 316.08,74.07 317.36,72.8 318.64,71.55 319.93,70.33 321.21,69.12 322.49,67.93 323.77,66.76 325.06,65.61 326.34,64.47 327.62,63.36 328.9,62.26 330.18,61.18 331.47,60.11 332.75,59.06 334.03,58.03 335.31,57.02 336.6,56.02 337.88,55.03 339.16,54.07 340.44,53.11 341.73,52.17 343.01,51.25 344.29,50.34 345.57,49.44 346.86,48.56 348.14,47.69 349.42,46.84 350.7,46 351.99,45.17 353.27,44.35 354.55,43.55 355.83,42.76 357.12,41.97 358.4,41.2 359.68,40.43 360.96,39.67 362.24,38.92 363.53,38.17 364.81,37.43 366.09,36.7 367.37,35.97 368.66,35.26 369.94,34.55 371.22,33.85 372.5,33.15 373.79,32.47 375.07,31.79 376.35,31.12 377.63,30.46 378.92,29.8 380.2,29.15 381.48,28.51 382.76,27.88 384.05,27.25 385.33,26.63 386.61,26.01 387.89,25.41 389.18,24.81 390.46,24.21 391.74,23.63 393.02,23.05 394.3,22.47 395.59,21.91 396.87,21.34 398.15,20.79 399.43,20.23 400.72,19.69 402,19.14 403.28,18.61 404.56,18.07 405.85,17.55 407.13,17.03 408.41,16.52 409.69,16.02 410.98,15.53 412.26,15.05 413.54,14.57 414.82,14.1 416.11,13.64 417.39,13.18 418.67,12.72 419.95,12.26 421.24,11.8 422.52,11.33 423.8,10.78" fill="none" stroke="#cf2f30" stroke-width="1.2" stroke-linejoin="round" stroke-linecap="round"/><polyline points="263.5,140.24 264.78,138.58 266.06,136.83 267.35,135.07 268.63,133.29 269.91,131.51 271.19,129.73 272.48,127.96 273.76,126.18 275.04,124.41 276.32,122.64 277.61,120.89 278.89,119.13 280.17,117.39 281.45,115.66 282.74,113.93 284.02,112.22 285.3,110.52 286.58,108.83 287.87,107.15 289.15,105.49 290.43,103.84 291.71,102.21 293,100.59 294.28,98.99 295.56,97.4 296.84,95.83 298.12,94.28 299.41,92.74 300.69,91.23 301.97,89.73 303.25,88.25 304.54,86.78 305.82,85.34 307.1,83.92 308.38,82.51 309.67,81.13 310.95,79.76 312.23,78.42 313.51,77.09 314.8,75.79 316.08,74.5 317.36,73.23 318.64,71.98 319.93,70.75 321.21,69.54 322.49,68.35 323.77,67.17 325.06,66.02 326.34,64.88 327.62,63.76 328.9,62.66 330.18,61.57 331.47,60.51 332.75,59.45 334.03,58.42 335.31,57.4 336.6,56.4 337.88,55.41 339.16,54.44 340.44,53.48 341.73,52.54 343.01,51.61 344.29,50.7 345.57,49.8 346.86,48.91 348.14,48.04 349.42,47.19 350.7,46.34 351.99,45.51 353.27,44.69 354.55,43.88 355.83,43.08 357.12,42.3 358.4,41.52 359.68,40.75 360.96,39.99 362.24,39.23 363.53,38.48 364.81,37.74 366.09,37.01 367.37,36.28 368.66,35.56 369.94,34.85 371.22,34.15 372.5,33.45 373.79,32.76 375.07,32.08 376.35,31.41 377.63,30.75 378.92,30.09 380.2,29.44 381.48,28.79 382.76,28.16 384.05,27.53 385.33,26.9 386.61,26.29 387.89,25.68 389.18,25.07 390.46,24.48 391.74,23.89 393.02,23.3 394.3,22.72 395.59,22.15 396.87,21.58 398.15,21.02 399.43,20.46 400.72,19.91 402,19.36 403.28,18.82 404.56,18.28 405.85,17.74 407.13,17.22 408.41,16.7 409.69,16.19 410.98,15.69 412.26,15.2 413.54,14.71 414.82,14.23 416.11,13.75 417.39,13.28 418.67,12.8 419.95,12.33 421.24,11.85 422.52,11.36 423.8,10.78" fill="none" stroke="#b3232b" stroke-width="1.3" stroke-linejoin="round" stroke-linecap="round"/><polyline points="263.5,145.25 264.78,143.33 266.06,141.41 267.35,139.49 268.63,137.57 269.91,135.66 271.19,133.75 272.48,131.85 273.76,129.95 275.04,128.06 276.32,126.18 277.61,124.31 278.89,122.45 280.17,120.6 281.45,118.76 282.74,116.93 284.02,115.12 285.3,113.32 286.58,111.53 287.87,109.76 289.15,108.01 290.43,106.27 291.71,104.54 293,102.84 294.28,101.15 295.56,99.48 296.84,97.83 298.12,96.2 299.41,94.59 300.69,92.99 301.97,91.42 303.25,89.87 304.54,88.33 305.82,86.82 307.1,85.33 308.38,83.86 309.67,82.4 310.95,80.97 312.23,79.56 313.51,78.17 314.8,76.8 316.08,75.46 317.36,74.13 318.64,72.82 319.93,71.53 321.21,70.27 322.49,69.02 323.77,67.79 325.06,66.58 326.34,65.4 327.62,64.23 328.9,63.08 330.18,61.94 331.47,60.83 332.75,59.74 334.03,58.66 335.31,57.6 336.6,56.56 337.88,55.53 339.16,54.52 340.44,53.53 341.73,52.55 343.01,51.59 344.29,50.65 345.57,49.72 346.86,48.8 348.14,47.9 349.42,47.01 350.7,46.14 351.99,45.28 353.27,44.44 354.55,43.6 355.83,42.78 357.12,41.97 358.4,41.18 359.68,40.39 360.96,39.62 362.24,38.86 363.53,38.11 364.81,37.37 366.09,36.63 367.37,35.91 368.66,35.2 369.94,34.5 371.22,33.81 372.5,33.13 373.79,32.45 375.07,31.79 376.35,31.13 377.63,30.48 378.92,29.84 380.2,29.2 381.48,28.57 382.76,27.95 384.05,27.34 385.33,26.73 386.61,26.13 387.89,25.54 389.18,24.95 390.46,24.37 391.74,23.79 393.02,23.22 394.3,22.65 395.59,22.09 396.87,21.53 398.15,20.98 399.43,20.44 400.72,19.9 402,19.36 403.28,18.83 404.56,18.3 405.85,17.77 407.13,17.25 408.41,16.73 409.69,16.22 410.98,15.71 412.26,15.2 413.54,14.7 414.82,14.2 416.11,13.7 417.39,13.21 418.67,12.72 419.95,12.23 421.24,11.74 422.52,11.26 423.8,10.78" fill="none" stroke="#2d5898" stroke-width="1.6" stroke-linejoin="round" stroke-linecap="round"/><polyline points="263.5,135.64 264.78,133.86 266.06,132.08 267.35,130.31 268.63,128.53 269.91,126.76 271.19,124.99 272.48,123.22 273.76,121.46 275.04,119.71 276.32,117.96 277.61,116.22 278.89,114.49 280.17,112.77 281.45,111.06 282.74,109.36 284.02,107.67 285.3,106 286.58,104.33 287.87,102.68 289.15,101.04 290.43,99.42 291.71,97.81 293,96.22 294.28,94.65 295.56,93.09 296.84,91.54 298.12,90.01 299.41,88.5 300.69,87.01 301.97,85.54 303.25,84.08 304.54,82.65 305.82,81.23 307.1,79.83 308.38,78.45 309.67,77.1 310.95,75.76 312.23,74.44 313.51,73.14 314.8,71.86 316.08,70.6 317.36,69.37 318.64,68.14 319.93,66.94 321.21,65.76 322.49,64.6 323.77,63.45 325.06,62.33 326.34,61.22 327.62,60.13 328.9,59.05 330.18,58 331.47,56.96 332.75,55.94 334.03,54.93 335.31,53.94 336.6,52.97 337.88,52.01 339.16,51.07 340.44,50.14 341.73,49.23 343.01,48.33 344.29,47.45 345.57,46.57 346.86,45.72 348.14,44.88 349.42,44.06 350.7,43.24 351.99,42.45 353.27,41.66 354.55,40.88 355.83,40.12 357.12,39.36 358.4,38.61 359.68,37.87 360.96,37.13 362.24,36.4 363.53,35.68 364.81,34.96 366.09,34.24 367.37,33.53 368.66,32.82 369.94,32.13 371.22,31.44 372.5,30.76 373.79,30.09 375.07,29.43 376.35,28.78 377.63,28.13 378.92,27.49 380.2,26.86 381.48,26.24 382.76,25.63 384.05,25.02 385.33,24.43 386.61,23.84 387.89,23.26 389.18,22.69 390.46,22.13 391.74,21.57 393.02,21.03 394.3,20.49 395.59,19.96 396.87,19.44 398.15,18.92 399.43,18.41 400.72,17.91 402,17.42 403.28,16.93 404.56,16.45 405.85,15.97 407.13,15.51 408.41,15.07 409.69,14.65 410.98,14.24 412.26,13.85 413.54,13.47 414.82,13.1 416.11,12.74 417.39,12.39 418.67,12.06 419.95,11.73 421.24,11.4 422.52,11.09 423.8,10.78" fill="none" stroke="#2d5898" stroke-width="1.6" stroke-linejoin="round" stroke-linecap="round"/><rect x="263.5" y="4.5" width="176.35" height="140.75" fill="none" stroke="#111" stroke-width="1.15"/><line x1="263.5" y1="145.25" x2="263.5" y2="142.25" stroke="#000" stroke-width="1"/><text x="263.5" y="156.2" font-size="8.8" text-anchor="middle" stroke="#000">0</text><line x1="295.56" y1="145.25" x2="295.56" y2="142.25" stroke="#000" stroke-width="1"/><text x="295.56" y="156.2" font-size="8.8" text-anchor="middle" stroke="#000">100</text><line x1="327.62" y1="145.25" x2="327.62" y2="142.25" stroke="#000" stroke-width="1"/><text x="327.62" y="156.2" font-size="8.8" text-anchor="middle" stroke="#000">200</text><line x1="359.68" y1="145.25" x2="359.68" y2="142.25" stroke="#000" stroke-width="1"/><text x="359.68" y="156.2" font-size="8.8" text-anchor="middle" stroke="#000">300</text><line x1="391.74" y1="145.25" x2="391.74" y2="142.25" stroke="#000" stroke-width="1"/><text x="391.74" y="156.2" font-size="8.8" text-anchor="middle" stroke="#000">400</text><line x1="423.8" y1="145.25" x2="423.8" y2="142.25" stroke="#000" stroke-width="1"/><text x="423.8" y="156.2" font-size="8.8" text-anchor="middle" stroke="#000">500</text><line x1="263.5" y1="145.25" x2="266.5" y2="145.25" stroke="#000" stroke-width="1"/><text x="260" y="147.7" font-size="8.8" text-anchor="end" stroke="#000">0</text><line x1="263.5" y1="113.95" x2="266.5" y2="113.95" stroke="#000" stroke-width="1"/><text x="260" y="116.4" font-size="8.8" text-anchor="end" stroke="#000">10</text><line x1="263.5" y1="82.65" x2="266.5" y2="82.65" stroke="#000" stroke-width="1"/><text x="260" y="85.1" font-size="8.8" text-anchor="end" stroke="#000">20</text><line x1="263.5" y1="51.35" x2="266.5" y2="51.35" stroke="#000" stroke-width="1"/><text x="260" y="53.8" font-size="8.8" text-anchor="end" stroke="#000">30</text><line x1="263.5" y1="20.05" x2="266.5" y2="20.05" stroke="#000" stroke-width="1"/><text x="260" y="22.5" font-size="8.8" text-anchor="end" stroke="#000">40</text><text x="233.7" y="10" font-size="13" font-weight="bold" stroke="#000">b</text><text x="351.68" y="171" font-size="9.9" text-anchor="middle" stroke="#000">Electric field (kV cm<tspan dy="-3.8" font-size="7">−1</tspan><tspan dy="3.8">)</tspan></text><text transform="translate(242.9,74.88) rotate(-90)" font-size="9.9" text-anchor="middle" stroke="#000">Polarization (μC cm<tspan dy="-3.8" font-size="7">−2</tspan><tspan dy="3.8">)</tspan></text><rect x="395.5" y="64" width="7.2" height="76.5" fill="url(#cbA)"/><text x="402" y="59.7" font-size="8.6" text-anchor="middle" stroke="#000">(Hz)</text><text x="404.9" y="69" font-size="8.3" stroke="#000">500</text><text x="404.9" y="140.9" font-size="8.3" stroke="#000">1</text><line x1="491.45" y1="25.11" x2="501.14" y2="25.26" stroke="#6ab45c" stroke-width="1.2"/><line x1="510.31" y1="25.88" x2="526.37" y2="27.86" stroke="#6ab45c" stroke-width="1.2"/><line x1="535.53" y1="28.52" x2="551.53" y2="28.88" stroke="#6ab45c" stroke-width="1.2"/><line x1="560.71" y1="29.34" x2="576.74" y2="30.59" stroke="#6ab45c" stroke-width="1.2"/><line x1="585.59" y1="32.67" x2="589.65" y2="34.3" stroke="#6ab45c" stroke-width="1.2"/><line x1="598.52" y1="36.12" x2="601.92" y2="36.2" stroke="#6ab45c" stroke-width="1.2"/><line x1="610.71" y1="38.17" x2="614.91" y2="40.05" stroke="#6ab45c" stroke-width="1.2"/><line x1="623.24" y1="43.96" x2="627.58" y2="46.09" stroke="#6ab45c" stroke-width="1.2"/><line x1="635.21" y1="51.09" x2="640.8" y2="55.83" stroke="#6ab45c" stroke-width="1.2"/><line x1="491.65" y1="81.97" x2="500.94" y2="82.15" stroke="#ffa24a" stroke-width="1.2"/><line x1="510.54" y1="82.5" x2="526.14" y2="83.38" stroke="#ffa24a" stroke-width="1.2"/><line x1="535.74" y1="83.64" x2="551.33" y2="83.64" stroke="#ffa24a" stroke-width="1.2"/><line x1="560.93" y1="83.58" x2="576.52" y2="83.36" stroke="#ffa24a" stroke-width="1.2"/><line x1="586.06" y1="84.09" x2="589.18" y2="84.61" stroke="#ffa24a" stroke-width="1.2"/><line x1="598.71" y1="85.67" x2="601.72" y2="85.84" stroke="#ffa24a" stroke-width="1.2"/><line x1="611.18" y1="87.21" x2="614.44" y2="87.99" stroke="#ffa24a" stroke-width="1.2"/><line x1="623.88" y1="89.63" x2="626.94" y2="89.97" stroke="#ffa24a" stroke-width="1.2"/><line x1="636.31" y1="91.85" x2="639.7" y2="92.85" stroke="#ffa24a" stroke-width="1.2"/><rect x="483.75" y="21.94" width="6.2" height="6.2" fill="#5faa50"/><rect x="502.64" y="22.22" width="6.2" height="6.2" fill="#5faa50"/><rect x="527.84" y="25.32" width="6.2" height="6.2" fill="#5faa50"/><rect x="553.03" y="25.88" width="6.2" height="6.2" fill="#5faa50"/><rect x="578.22" y="27.85" width="6.2" height="6.2" fill="#5faa50"/><rect x="590.82" y="32.92" width="6.2" height="6.2" fill="#5faa50"/><rect x="603.41" y="33.2" width="6.2" height="6.2" fill="#5faa50"/><rect x="616.01" y="38.83" width="6.2" height="6.2" fill="#5faa50"/><rect x="628.61" y="45.02" width="6.2" height="6.2" fill="#5faa50"/><rect x="641.2" y="55.71" width="6.2" height="6.2" fill="#5faa50"/><circle cx="486.85" cy="81.88" r="3.5" fill="#ff9a3d"/><circle cx="505.74" cy="82.24" r="3.5" fill="#ff9a3d"/><circle cx="530.94" cy="83.64" r="3.5" fill="#ff9a3d"/><circle cx="556.13" cy="83.64" r="3.5" fill="#ff9a3d"/><circle cx="581.32" cy="83.29" r="3.5" fill="#ff9a3d"/><circle cx="593.92" cy="85.4" r="3.5" fill="#ff9a3d"/><circle cx="606.51" cy="86.11" r="3.5" fill="#ff9a3d"/><circle cx="619.11" cy="89.1" r="3.5" fill="#ff9a3d"/><circle cx="631.71" cy="90.5" r="3.5" fill="#ff9a3d"/><circle cx="644.3" cy="94.2" r="3.5" fill="#ff9a3d"/><rect x="480.55" y="4.5" width="176.35" height="140.7" fill="none" stroke="#111" stroke-width="1.15"/><line x1="480.55" y1="145.2" x2="480.55" y2="142.2" stroke="#000" stroke-width="1"/><text x="480.55" y="156" font-size="8.8" text-anchor="middle" stroke="#000">20</text><line x1="505.74" y1="145.2" x2="505.74" y2="142.2" stroke="#000" stroke-width="1"/><text x="505.74" y="156" font-size="8.8" text-anchor="middle" stroke="#000">40</text><line x1="530.94" y1="145.2" x2="530.94" y2="142.2" stroke="#000" stroke-width="1"/><text x="530.94" y="156" font-size="8.8" text-anchor="middle" stroke="#000">60</text><line x1="556.13" y1="145.2" x2="556.13" y2="142.2" stroke="#000" stroke-width="1"/><text x="556.13" y="156" font-size="8.8" text-anchor="middle" stroke="#000">80</text><line x1="581.32" y1="145.2" x2="581.32" y2="142.2" stroke="#000" stroke-width="1"/><text x="581.32" y="156" font-size="8.8" text-anchor="middle" stroke="#000">100</text><line x1="606.51" y1="145.2" x2="606.51" y2="142.2" stroke="#000" stroke-width="1"/><text x="606.51" y="156" font-size="8.8" text-anchor="middle" stroke="#000">120</text><line x1="631.71" y1="145.2" x2="631.71" y2="142.2" stroke="#000" stroke-width="1"/><text x="631.71" y="156" font-size="8.8" text-anchor="middle" stroke="#000">140</text><line x1="656.9" y1="145.2" x2="656.9" y2="142.2" stroke="#000" stroke-width="1"/><text x="656.9" y="156" font-size="8.8" text-anchor="middle" stroke="#000">160</text><line x1="480.55" y1="145.2" x2="483.55" y2="145.2" stroke="#000" stroke-width="1"/><text x="477.05" y="147.65" font-size="8.8" text-anchor="end" stroke="#000">4</text><line x1="480.55" y1="110.02" x2="483.55" y2="110.02" stroke="#000" stroke-width="1"/><text x="477.05" y="112.47" font-size="8.8" text-anchor="end" stroke="#000">6</text><line x1="480.55" y1="74.85" x2="483.55" y2="74.85" stroke="#000" stroke-width="1"/><text x="477.05" y="77.3" font-size="8.8" text-anchor="end" stroke="#000">8</text><line x1="480.55" y1="39.67" x2="483.55" y2="39.67" stroke="#000" stroke-width="1"/><text x="477.05" y="42.12" font-size="8.8" text-anchor="end" stroke="#000">10</text><line x1="480.55" y1="4.5" x2="483.55" y2="4.5" stroke="#000" stroke-width="1"/><text x="477.05" y="6.95" font-size="8.8" text-anchor="end" stroke="#000">12</text><line x1="656.9" y1="145.2" x2="653.9" y2="145.2" stroke="#000" stroke-width="1"/><text x="660.4" y="147.65" font-size="8.8" stroke="#000">50</text><line x1="656.9" y1="117.06" x2="653.9" y2="117.06" stroke="#000" stroke-width="1"/><text x="660.4" y="119.51" font-size="8.8" stroke="#000">60</text><line x1="656.9" y1="88.92" x2="653.9" y2="88.92" stroke="#000" stroke-width="1"/><text x="660.4" y="91.37" font-size="8.8" stroke="#000">70</text><line x1="656.9" y1="60.78" x2="653.9" y2="60.78" stroke="#000" stroke-width="1"/><text x="660.4" y="63.23" font-size="8.8" stroke="#000">80</text><line x1="656.9" y1="32.64" x2="653.9" y2="32.64" stroke="#000" stroke-width="1"/><text x="660.4" y="35.09" font-size="8.8" stroke="#000">90</text><line x1="656.9" y1="4.5" x2="653.9" y2="4.5" stroke="#000" stroke-width="1"/><text x="660.4" y="6.95" font-size="8.8" stroke="#000">100</text><text x="568.73" y="170.7" font-size="9.9" text-anchor="middle" stroke="#000">Temperature (°C)</text><text x="448.95" y="10.2" font-size="13" font-weight="bold" stroke="#000">c</text><text transform="translate(460.05,74.85) rotate(-90)" font-size="9.9" text-anchor="middle" stroke="#000"><tspan font-style="italic">W</tspan><tspan dy="2.5" font-size="6.5">rec</tspan><tspan dy="-2.5"> (J cm</tspan><tspan dy="-3.8" font-size="7">−3</tspan><tspan dy="3.8">)</tspan></text><text transform="translate(683.2,74.8) rotate(-90)" font-size="9.9" text-anchor="middle" stroke="#000"><tspan font-style="italic" font-family="Liberation Serif" font-size="11">η</tspan> (%)</text><line x1="610.4" y1="116.1" x2="613.6" y2="116.1" stroke="#ffa24a" stroke-width="1.2"/><line x1="623.2" y1="116.1" x2="626.4" y2="116.1" stroke="#ffa24a" stroke-width="1.2"/><circle cx="618.4" cy="116.1" r="3.8" fill="#ff9a3d"/><line x1="610.4" y1="132.1" x2="613.8" y2="132.1" stroke="#6ab45c" stroke-width="1.2"/><line x1="623" y1="132.1" x2="626.4" y2="132.1" stroke="#6ab45c" stroke-width="1.2"/><rect x="615.25" y="128.95" width="6.3" height="6.3" fill="#5faa50"/><text x="629.4" y="119.1" font-size="10.2" stroke="#000"><tspan font-style="italic">W</tspan><tspan dx="-0.4" dy="2.3" font-size="5.7">rec</tspan></text><text x="629.9" y="135.1" font-size="10" font-style="italic" font-family="Liberation Serif" stroke="#000">η</text><line x1="62.33" y1="205.35" x2="68.36" y2="205.46" stroke="#6ab45c" stroke-width="1.2"/><line x1="77.56" y1="205.46" x2="98.82" y2="205.07" stroke="#6ab45c" stroke-width="1.2"/><line x1="108.01" y1="205.28" x2="129.29" y2="206.66" stroke="#6ab45c" stroke-width="1.2"/><line x1="138.48" y1="207.17" x2="159.74" y2="208.15" stroke="#6ab45c" stroke-width="1.2"/><line x1="168.86" y1="209.24" x2="190.28" y2="213.4" stroke="#6ab45c" stroke-width="1.2"/><line x1="62.53" y1="261.51" x2="68.16" y2="261.38" stroke="#ffa24a" stroke-width="1.2"/><line x1="77.76" y1="261.3" x2="98.62" y2="261.42" stroke="#ffa24a" stroke-width="1.2"/><line x1="108.22" y1="261.44" x2="129.08" y2="261.44" stroke="#ffa24a" stroke-width="1.2"/><line x1="138.68" y1="261.61" x2="159.54" y2="262.33" stroke="#ffa24a" stroke-width="1.2"/><line x1="168.65" y1="264.62" x2="190.49" y2="275.34" stroke="#ffa24a" stroke-width="1.2"/><rect x="39.7" y="194" width="6.2" height="6.2" fill="#5faa50"/><rect x="40.92" y="195.41" width="6.2" height="6.2" fill="#5faa50"/><rect x="42.45" y="197.66" width="6.2" height="6.2" fill="#5faa50"/><rect x="45.49" y="199.91" width="6.2" height="6.2" fill="#5faa50"/><rect x="54.63" y="202.16" width="6.2" height="6.2" fill="#5faa50"/><rect x="69.86" y="202.45" width="6.2" height="6.2" fill="#5faa50"/><rect x="100.32" y="201.88" width="6.2" height="6.2" fill="#5faa50"/><rect x="130.78" y="203.85" width="6.2" height="6.2" fill="#5faa50"/><rect x="161.24" y="205.26" width="6.2" height="6.2" fill="#5faa50"/><rect x="191.7" y="211.18" width="6.2" height="6.2" fill="#5faa50"/><circle cx="42.8" cy="256.52" r="3.5" fill="#ff9a3d"/><circle cx="44.02" cy="257.22" r="3.5" fill="#ff9a3d"/><circle cx="45.55" cy="258.28" r="3.5" fill="#ff9a3d"/><circle cx="48.59" cy="259.33" r="3.5" fill="#ff9a3d"/><circle cx="57.73" cy="261.62" r="3.5" fill="#ff9a3d"/><circle cx="72.96" cy="261.27" r="3.5" fill="#ff9a3d"/><circle cx="103.42" cy="261.44" r="3.5" fill="#ff9a3d"/><circle cx="133.88" cy="261.44" r="3.5" fill="#ff9a3d"/><circle cx="164.34" cy="262.5" r="3.5" fill="#ff9a3d"/><circle cx="194.8" cy="277.46" r="3.5" fill="#ff9a3d"/><rect x="30.5" y="183.3" width="176.25" height="140.8" fill="none" stroke="#111" stroke-width="1.15"/><line x1="42.5" y1="324.1" x2="42.5" y2="321.1" stroke="#000" stroke-width="1"/><text x="42.5" y="334.9" font-size="8.8" text-anchor="middle" stroke="#000">0</text><line x1="72.96" y1="324.1" x2="72.96" y2="321.1" stroke="#000" stroke-width="1"/><text x="72.96" y="334.9" font-size="8.8" text-anchor="middle" stroke="#000">100</text><line x1="103.42" y1="324.1" x2="103.42" y2="321.1" stroke="#000" stroke-width="1"/><text x="103.42" y="334.9" font-size="8.8" text-anchor="middle" stroke="#000">200</text><line x1="133.88" y1="324.1" x2="133.88" y2="321.1" stroke="#000" stroke-width="1"/><text x="133.88" y="334.9" font-size="8.8" text-anchor="middle" stroke="#000">300</text><line x1="164.34" y1="324.1" x2="164.34" y2="321.1" stroke="#000" stroke-width="1"/><text x="164.34" y="334.9" font-size="8.8" text-anchor="middle" stroke="#000">400</text><line x1="194.8" y1="324.1" x2="194.8" y2="321.1" stroke="#000" stroke-width="1"/><text x="194.8" y="334.9" font-size="8.8" text-anchor="middle" stroke="#000">500</text><line x1="30.5" y1="324.1" x2="33.5" y2="324.1" stroke="#000" stroke-width="1"/><text x="27" y="326.55" font-size="8.8" text-anchor="end" stroke="#000">4</text><line x1="30.5" y1="288.9" x2="33.5" y2="288.9" stroke="#000" stroke-width="1"/><text x="27" y="291.35" font-size="8.8" text-anchor="end" stroke="#000">6</text><line x1="30.5" y1="253.7" x2="33.5" y2="253.7" stroke="#000" stroke-width="1"/><text x="27" y="256.15" font-size="8.8" text-anchor="end" stroke="#000">8</text><line x1="30.5" y1="218.5" x2="33.5" y2="218.5" stroke="#000" stroke-width="1"/><text x="27" y="220.95" font-size="8.8" text-anchor="end" stroke="#000">10</text><line x1="30.5" y1="183.3" x2="33.5" y2="183.3" stroke="#000" stroke-width="1"/><text x="27" y="185.75" font-size="8.8" text-anchor="end" stroke="#000">12</text><line x1="206.75" y1="324.1" x2="203.75" y2="324.1" stroke="#000" stroke-width="1"/><text x="210.25" y="326.55" font-size="8.8" stroke="#000">50</text><line x1="206.75" y1="295.94" x2="203.75" y2="295.94" stroke="#000" stroke-width="1"/><text x="210.25" y="298.39" font-size="8.8" stroke="#000">60</text><line x1="206.75" y1="267.78" x2="203.75" y2="267.78" stroke="#000" stroke-width="1"/><text x="210.25" y="270.23" font-size="8.8" stroke="#000">70</text><line x1="206.75" y1="239.62" x2="203.75" y2="239.62" stroke="#000" stroke-width="1"/><text x="210.25" y="242.07" font-size="8.8" stroke="#000">80</text><line x1="206.75" y1="211.46" x2="203.75" y2="211.46" stroke="#000" stroke-width="1"/><text x="210.25" y="213.91" font-size="8.8" stroke="#000">90</text><line x1="206.75" y1="183.3" x2="203.75" y2="183.3" stroke="#000" stroke-width="1"/><text x="210.25" y="185.75" font-size="8.8" stroke="#000">100</text><text x="118.62" y="349.6" font-size="9.9" text-anchor="middle" stroke="#000">Frequency (Hz)</text><text x="-1.1" y="186" font-size="13" font-weight="bold" stroke="#000">d</text><text transform="translate(10,253.7) rotate(-90)" font-size="9.9" text-anchor="middle" stroke="#000"><tspan font-style="italic">W</tspan><tspan dy="2.5" font-size="6.5">rec</tspan><tspan dy="-2.5"> (J cm</tspan><tspan dy="-3.8" font-size="7">−3</tspan><tspan dy="3.8">)</tspan></text><text transform="translate(231.75,253) rotate(-90)" font-size="9.9" text-anchor="middle" stroke="#000"><tspan font-style="italic" font-family="Liberation Serif" font-size="11">η</tspan> (%)</text><line x1="160.6" y1="291.8" x2="163.8" y2="291.8" stroke="#ffa24a" stroke-width="1.2"/><line x1="173.4" y1="291.8" x2="176.6" y2="291.8" stroke="#ffa24a" stroke-width="1.2"/><circle cx="168.6" cy="291.8" r="3.8" fill="#ff9a3d"/><line x1="160.6" y1="309.1" x2="164" y2="309.1" stroke="#6ab45c" stroke-width="1.2"/><line x1="173.2" y1="309.1" x2="176.6" y2="309.1" stroke="#6ab45c" stroke-width="1.2"/><rect x="165.45" y="305.95" width="6.3" height="6.3" fill="#5faa50"/><text x="179.6" y="294.8" font-size="10.2" stroke="#000"><tspan font-style="italic">W</tspan><tspan dx="-0.4" dy="2.3" font-size="5.7">rec</tspan></text><text x="180.1" y="312.1" font-size="10" font-style="italic" font-family="Liberation Serif" stroke="#000">η</text><polyline points="275.72,194.49 288.04,195.02 304.46,196.62 320.88,196.62 337.3,196.62 345.51,200.08 353.72,200.08 361.93,205.41 370.14,207.28 378.35,213.14" fill="none" stroke="#ff2020" stroke-width="1.1" stroke-linejoin="round"/><polygon points="275.72,190.79 276.81,192.99 279.24,193.35 277.48,195.06 277.9,197.48 275.72,196.34 273.55,197.48 273.97,195.06 272.21,193.35 274.64,192.99" fill="#ff0d0d"/><polygon points="288.04,191.32 289.13,193.52 291.56,193.88 289.8,195.59 290.21,198.01 288.04,196.87 285.87,198.01 286.28,195.59 284.52,193.88 286.95,193.52" fill="#ff0d0d"/><polygon points="304.46,192.92 305.55,195.12 307.98,195.48 306.22,197.19 306.63,199.61 304.46,198.47 302.29,199.61 302.7,197.19 300.94,195.48 303.37,195.12" fill="#ff0d0d"/><polygon points="320.88,192.92 321.97,195.12 324.4,195.48 322.64,197.19 323.05,199.61 320.88,198.47 318.71,199.61 319.12,197.19 317.36,195.48 319.79,195.12" fill="#ff0d0d"/><polygon points="337.3,192.92 338.39,195.12 340.82,195.48 339.06,197.19 339.47,199.61 337.3,198.47 335.13,199.61 335.54,197.19 333.78,195.48 336.21,195.12" fill="#ff0d0d"/><polygon points="345.51,196.38 346.6,198.59 349.03,198.94 347.27,200.65 347.68,203.08 345.51,201.93 343.34,203.08 343.75,200.65 341.99,198.94 344.42,198.59" fill="#ff0d0d"/><polygon points="353.72,196.38 354.81,198.59 357.24,198.94 355.48,200.65 355.89,203.08 353.72,201.93 351.55,203.08 351.96,200.65 350.2,198.94 352.63,198.59" fill="#ff0d0d"/><polygon points="361.93,201.71 363.02,203.91 365.45,204.27 363.69,205.98 364.1,208.4 361.93,207.26 359.76,208.4 360.17,205.98 358.41,204.27 360.84,203.91" fill="#ff0d0d"/><polygon points="370.14,203.58 371.23,205.78 373.66,206.13 371.9,207.85 372.31,210.27 370.14,209.13 367.97,210.27 368.38,207.85 366.62,206.13 369.05,205.78" fill="#ff0d0d"/><polygon points="378.35,209.44 379.44,211.64 381.87,211.99 380.11,213.71 380.52,216.13 378.35,214.99 376.18,216.13 376.59,213.71 374.83,211.99 377.26,211.64" fill="#ff0d0d"/><polyline points="275.72,212.6 296.25,217.93 316.77,220.6 337.3,221.66 357.82,225.92 378.35,235.25 398.88,236.85 419.4,242.44" fill="none" stroke="#ff8a1a" stroke-width="1.1" stroke-linejoin="round"/><polygon points="275.72,209.1 279.22,212.6 275.72,216.1 272.22,212.6" fill="#ff8000"/><polygon points="296.25,214.43 299.75,217.93 296.25,221.43 292.75,217.93" fill="#ff8000"/><polygon points="316.77,217.1 320.27,220.6 316.77,224.1 313.27,220.6" fill="#ff8000"/><polygon points="337.3,218.16 340.8,221.66 337.3,225.16 333.8,221.66" fill="#ff8000"/><polygon points="357.82,222.42 361.32,225.92 357.82,229.42 354.32,225.92" fill="#ff8000"/><polygon points="378.35,231.75 381.85,235.25 378.35,238.75 374.85,235.25" fill="#ff8000"/><polygon points="398.88,233.35 402.38,236.85 398.88,240.35 395.38,236.85" fill="#ff8000"/><polygon points="419.4,238.94 422.9,242.44 419.4,245.94 415.9,242.44" fill="#ff8000"/><polyline points="271.62,240.84 288.04,241.91 304.46,243.77 320.88,246.97 337.3,248.57 353.72,252.56 370.14,254.7 386.56,257.89 402.98,260.82" fill="none" stroke="#ff8a1a" stroke-width="1.1" stroke-linejoin="round"/><polygon points="271.62,237.34 275.12,240.84 271.62,244.34 268.12,240.84" fill="#ff8000"/><polygon points="288.04,238.41 291.54,241.91 288.04,245.41 284.54,241.91" fill="#ff8000"/><polygon points="304.46,240.27 307.96,243.77 304.46,247.27 300.96,243.77" fill="#ff8000"/><polygon points="320.88,243.47 324.38,246.97 320.88,250.47 317.38,246.97" fill="#ff8000"/><polygon points="337.3,245.07 340.8,248.57 337.3,252.07 333.8,248.57" fill="#ff8000"/><polygon points="353.72,249.06 357.22,252.56 353.72,256.06 350.22,252.56" fill="#ff8000"/><polygon points="370.14,251.2 373.64,254.7 370.14,258.2 366.64,254.7" fill="#ff8000"/><polygon points="386.56,254.39 390.06,257.89 386.56,261.39 383.06,257.89" fill="#ff8000"/><polygon points="402.98,257.32 406.48,260.82 402.98,264.32 399.48,260.82" fill="#ff8000"/><polyline points="275.72,249.37 296.25,252.3 316.77,254.96 333.19,257.63 345.51,260.29 353.72,262.69 361.93,265.35 370.14,268.28 378.35,270.41" fill="none" stroke="#78b0dc" stroke-width="1.1" stroke-linejoin="round"/><rect x="273.12" y="246.77" width="5.2" height="5.2" fill="#68a6d8"/><rect x="293.65" y="249.7" width="5.2" height="5.2" fill="#68a6d8"/><rect x="314.17" y="252.36" width="5.2" height="5.2" fill="#68a6d8"/><rect x="330.59" y="255.03" width="5.2" height="5.2" fill="#68a6d8"/><rect x="342.91" y="257.69" width="5.2" height="5.2" fill="#68a6d8"/><rect x="351.12" y="260.09" width="5.2" height="5.2" fill="#68a6d8"/><rect x="359.33" y="262.75" width="5.2" height="5.2" fill="#68a6d8"/><rect x="367.54" y="265.68" width="5.2" height="5.2" fill="#68a6d8"/><rect x="375.75" y="267.81" width="5.2" height="5.2" fill="#68a6d8"/><polyline points="279.83,265.88 288.04,270.15 296.25,275.21 304.46,279.2 312.67,280.8 320.88,284.53" fill="none" stroke="#ff8a1a" stroke-width="1.1" stroke-linejoin="round"/><polygon points="279.83,262.38 283.33,265.88 279.83,269.38 276.33,265.88" fill="#ff8000"/><polygon points="288.04,266.65 291.54,270.15 288.04,273.65 284.54,270.15" fill="#ff8000"/><polygon points="296.25,271.71 299.75,275.21 296.25,278.71 292.75,275.21" fill="#ff8000"/><polygon points="304.46,275.7 307.96,279.2 304.46,282.7 300.96,279.2" fill="#ff8000"/><polygon points="312.67,277.3 316.17,280.8 312.67,284.3 309.17,280.8" fill="#ff8000"/><polygon points="320.88,281.03 324.38,284.53 320.88,288.03 317.38,284.53" fill="#ff8000"/><polyline points="279.83,284.53 288.04,289.59 296.25,291.99 304.46,293.32 312.67,294.92 320.88,295.99 329.09,297.32 337.3,298.92 345.51,299.98 353.72,303.98" fill="none" stroke="#78b0dc" stroke-width="1.1" stroke-linejoin="round"/><rect x="277.23" y="281.93" width="5.2" height="5.2" fill="#68a6d8"/><rect x="285.44" y="286.99" width="5.2" height="5.2" fill="#68a6d8"/><rect x="293.65" y="289.39" width="5.2" height="5.2" fill="#68a6d8"/><rect x="301.86" y="290.72" width="5.2" height="5.2" fill="#68a6d8"/><rect x="310.07" y="292.32" width="5.2" height="5.2" fill="#68a6d8"/><rect x="318.28" y="293.39" width="5.2" height="5.2" fill="#68a6d8"/><rect x="326.49" y="294.72" width="5.2" height="5.2" fill="#68a6d8"/><rect x="334.7" y="296.32" width="5.2" height="5.2" fill="#68a6d8"/><rect x="342.91" y="297.38" width="5.2" height="5.2" fill="#68a6d8"/><rect x="351.12" y="301.38" width="5.2" height="5.2" fill="#68a6d8"/><polyline points="275.72,301.05 288.04,306.38 304.46,308.24 320.88,309.84 337.3,311.17 353.72,312.77 361.93,313.57 370.14,314.37" fill="none" stroke="#c6aae6" stroke-width="1.1" stroke-linejoin="round"/><polygon points="275.72,297.95 278.67,300.09 277.55,303.56 273.9,303.56 272.78,300.09" fill="#bfa0e2"/><polygon points="288.04,303.28 290.99,305.42 289.86,308.88 286.22,308.88 285.09,305.42" fill="#bfa0e2"/><polygon points="304.46,305.14 307.41,307.28 306.28,310.75 302.64,310.75 301.51,307.28" fill="#bfa0e2"/><polygon points="320.88,306.74 323.83,308.88 322.7,312.35 319.06,312.35 317.93,308.88" fill="#bfa0e2"/><polygon points="337.3,308.07 340.25,310.21 339.12,313.68 335.48,313.68 334.35,310.21" fill="#bfa0e2"/><polygon points="353.72,309.67 356.67,311.81 355.54,315.28 351.9,315.28 350.77,311.81" fill="#bfa0e2"/><polygon points="361.93,310.47 364.88,312.61 363.75,316.08 360.11,316.08 358.98,312.61" fill="#bfa0e2"/><polygon points="370.14,311.27 373.09,313.41 371.96,316.88 368.32,316.88 367.19,313.41" fill="#bfa0e2"/><rect x="263.5" y="183.3" width="176.35" height="141" fill="none" stroke="#111" stroke-width="1.15"/><line x1="296.25" y1="324.3" x2="296.25" y2="321.3" stroke="#000" stroke-width="1"/><text x="296.25" y="335.1" font-size="8.8" text-anchor="middle" stroke="#000">50</text><line x1="337.3" y1="324.3" x2="337.3" y2="321.3" stroke="#000" stroke-width="1"/><text x="337.3" y="335.1" font-size="8.8" text-anchor="middle" stroke="#000">100</text><line x1="378.35" y1="324.3" x2="378.35" y2="321.3" stroke="#000" stroke-width="1"/><text x="378.35" y="335.1" font-size="8.8" text-anchor="middle" stroke="#000">150</text><line x1="419.4" y1="324.3" x2="419.4" y2="321.3" stroke="#000" stroke-width="1"/><text x="419.4" y="335.1" font-size="8.8" text-anchor="middle" stroke="#000">200</text><line x1="263.5" y1="316.5" x2="266.5" y2="316.5" stroke="#000" stroke-width="1"/><text x="260" y="318.95" font-size="8.8" text-anchor="end" stroke="#000">3</text><line x1="263.5" y1="289.86" x2="266.5" y2="289.86" stroke="#000" stroke-width="1"/><text x="260" y="292.31" font-size="8.8" text-anchor="end" stroke="#000">4</text><line x1="263.5" y1="263.22" x2="266.5" y2="263.22" stroke="#000" stroke-width="1"/><text x="260" y="265.67" font-size="8.8" text-anchor="end" stroke="#000">5</text><line x1="263.5" y1="236.58" x2="266.5" y2="236.58" stroke="#000" stroke-width="1"/><text x="260" y="239.03" font-size="8.8" text-anchor="end" stroke="#000">6</text><line x1="263.5" y1="209.94" x2="266.5" y2="209.94" stroke="#000" stroke-width="1"/><text x="260" y="212.39" font-size="8.8" text-anchor="end" stroke="#000">7</text><line x1="263.5" y1="183.3" x2="266.5" y2="183.3" stroke="#000" stroke-width="1"/><text x="260" y="185.75" font-size="8.8" text-anchor="end" stroke="#000">8</text><text x="351.68" y="349.8" font-size="9.9" text-anchor="middle" stroke="#000">Temperature (°C)</text><text x="234.3" y="186" font-size="13.2" font-weight="bold" stroke="#000">e</text><text transform="translate(250.4,253.8) rotate(-90)" font-size="9.9" text-anchor="middle" stroke="#000"><tspan font-style="italic">W</tspan><tspan dy="2.5" font-size="6.5">rec</tspan><tspan dy="-2.5"> (J cm</tspan><tspan dy="-3.8" font-size="7">−3</tspan><tspan dy="3.8">)</tspan></text><text x="379.6" y="202.4" font-size="8" font-weight="bold" fill="#f01020">This work</text><text x="365.3" y="225.5" font-size="7.8" fill="#ff8a1a">Energ. Environ. Sci.</text><text x="384.3" y="253.6" font-size="7.8" fill="#ff8a1a">Nano Energy</text><text x="384.2" y="274.6" font-size="7.8" fill="#78b0dc">Adv. Mater.</text><text x="327.9" y="284.1" font-size="7.8" fill="#ff8a1a">Adv. Energy Mater.</text><text x="336.9" y="295.1" font-size="7.8" fill="#78b0dc">J. Am. Chem. Soc.</text><text x="270.8" y="320" font-size="7.8" fill="#c6aae6">Nat. Commun.</text><rect x="407" y="290.5" width="29.5" height="30" fill="#fff" stroke="#555" stroke-width="0.8"/><line x1="408.2" y1="295.8" x2="417.2" y2="295.8" stroke="#ff8a1a" stroke-width="1"/><polygon points="412.7,293.4 415.1,295.8 412.7,298.2 410.3,295.8" fill="#ff8000"/><text x="419.4" y="298.7" font-size="8.2" stroke="#000">BNT</text><line x1="408.2" y1="305.3" x2="417.2" y2="305.3" stroke="#78b0dc" stroke-width="1"/><rect x="411" y="303.6" width="3.4" height="3.4" fill="#68a6d8"/><text x="419.4" y="308.2" font-size="8.2" stroke="#000">BT</text><line x1="408.2" y1="315.4" x2="417.2" y2="315.4" stroke="#c6aae6" stroke-width="1"/><polygon points="412.7,313.2 414.79,314.72 413.99,317.18 411.41,317.18 410.61,314.72" fill="#bfa0e2"/><text x="419.4" y="318.3" font-size="8.2" stroke="#000">KNN</text><rect x="480.5" y="184" width="177.5" height="1.02" fill="url(#r0)"/><rect x="480.5" y="185" width="177.5" height="1.02" fill="url(#r1)"/><rect x="480.5" y="186" width="177.5" height="1.02" fill="url(#r2)"/><rect x="480.5" y="187" width="177.5" height="1.02" fill="url(#r3)"/><rect x="480.5" y="188" width="177.5" height="1.02" fill="url(#r4)"/><rect x="480.5" y="189" width="177.5" height="1.02" fill="url(#r5)"/><rect x="480.5" y="190" width="177.5" height="1.02" fill="url(#r6)"/><rect x="480.5" y="191" width="177.5" height="1.02" fill="url(#r7)"/><rect x="480.5" y="192" width="177.5" height="1.02" fill="url(#r8)"/><rect x="480.5" y="193" width="177.5" height="1.02" fill="url(#r9)"/><rect x="480.5" y="194" width="177.5" height="1.02" fill="url(#r10)"/><rect x="480.5" y="195" width="177.5" height="1.02" fill="url(#r11)"/><rect x="480.5" y="196" width="177.5" height="1.02" fill="url(#r12)"/><rect x="480.5" y="197" width="177.5" height="1.02" fill="url(#r13)"/><rect x="480.5" y="198" width="177.5" height="1.02" fill="url(#r14)"/><rect x="480.5" y="199" width="177.5" height="1.02" fill="url(#r15)"/><rect x="480.5" y="200" width="177.5" height="1.02" fill="url(#r16)"/><rect x="480.5" y="201" width="177.5" height="1.02" fill="url(#r17)"/><rect x="480.5" y="202" width="177.5" height="1.02" fill="url(#r18)"/><rect x="480.5" y="203" width="177.5" height="1.02" fill="url(#r19)"/><rect x="480.5" y="204" width="177.5" height="1.02" fill="url(#r20)"/><rect x="480.5" y="205" width="177.5" height="1.02" fill="url(#r21)"/><rect x="480.5" y="206" width="177.5" height="1.02" fill="url(#r22)"/><rect x="480.5" y="207" width="177.5" height="1.02" fill="url(#r23)"/><rect x="480.5" y="208" width="177.5" height="1.02" fill="url(#r24)"/><rect x="480.5" y="209" width="177.5" height="1.02" fill="url(#r25)"/><rect x="480.5" y="210" width="177.5" height="1.02" fill="url(#r26)"/><rect x="480.5" y="211" width="177.5" height="1.02" fill="url(#r27)"/><rect x="480.5" y="212" width="177.5" height="1.02" fill="url(#r28)"/><rect x="480.5" y="213" width="177.5" height="1.02" fill="url(#r29)"/><rect x="480.5" y="214" width="177.5" height="1.02" fill="url(#r30)"/><rect x="480.5" y="215" width="177.5" height="1.02" fill="url(#r31)"/><rect x="480.5" y="216" width="177.5" height="1.02" fill="url(#r32)"/><rect x="480.5" y="217" width="177.5" height="1.02" fill="url(#r33)"/><rect x="480.5" y="218" width="177.5" height="1.02" fill="url(#r34)"/><rect x="480.5" y="219" width="177.5" height="1.02" fill="url(#r35)"/><rect x="480.5" y="220" width="177.5" height="1.02" fill="url(#r36)"/><rect x="480.5" y="221" width="177.5" height="1.02" fill="url(#r37)"/><rect x="480.5" y="222" width="177.5" height="1.02" fill="url(#r38)"/><rect x="480.5" y="223" width="177.5" height="1.02" fill="url(#r39)"/><rect x="480.5" y="224" width="177.5" height="1.02" fill="url(#r40)"/><rect x="480.5" y="225" width="177.5" height="1.02" fill="url(#r41)"/><rect x="480.5" y="226" width="177.5" height="1.02" fill="url(#r42)"/><rect x="480.5" y="227" width="177.5" height="1.02" fill="url(#r43)"/><rect x="480.5" y="228" width="177.5" height="1.02" fill="url(#r44)"/><rect x="480.5" y="229" width="177.5" height="1.02" fill="url(#r45)"/><rect x="480.5" y="230" width="177.5" height="1.02" fill="url(#r46)"/><rect x="480.5" y="231" width="177.5" height="1.02" fill="url(#r47)"/><rect x="480.5" y="232" width="177.5" height="1.02" fill="url(#r48)"/><rect x="480.5" y="233" width="177.5" height="1.02" fill="url(#r49)"/><rect x="480.5" y="234" width="177.5" height="1.02" fill="url(#r50)"/><rect x="480.5" y="235" width="177.5" height="1.02" fill="url(#r51)"/><rect x="480.5" y="236" width="177.5" height="1.02" fill="url(#r52)"/><rect x="480.5" y="237" width="177.5" height="1.02" fill="url(#r53)"/><rect x="480.5" y="238" width="177.5" height="1.02" fill="url(#r54)"/><rect x="480.5" y="239" width="177.5" height="1.02" fill="url(#r55)"/><rect x="480.5" y="240" width="177.5" height="1.02" fill="url(#r56)"/><rect x="480.5" y="241" width="177.5" height="1.02" fill="url(#r57)"/><rect x="480.5" y="242" width="177.5" height="1.02" fill="url(#r58)"/><rect x="480.5" y="243" width="177.5" height="1.02" fill="url(#r59)"/><rect x="480.5" y="244" width="177.5" height="1.02" fill="url(#r60)"/><rect x="480.5" y="245" width="177.5" height="1.02" fill="url(#r61)"/><rect x="480.5" y="246" width="177.5" height="1.02" fill="url(#r62)"/><rect x="480.5" y="247" width="177.5" height="1.02" fill="url(#r63)"/><rect x="480.5" y="248" width="177.5" height="1.02" fill="url(#r64)"/><rect x="480.5" y="249" width="177.5" height="1.02" fill="url(#r65)"/><rect x="480.5" y="250" width="177.5" height="1.02" fill="url(#r66)"/><rect x="480.5" y="251" width="177.5" height="1.02" fill="url(#r67)"/><rect x="480.5" y="252" width="177.5" height="1.02" fill="url(#r68)"/><rect x="480.5" y="253" width="177.5" height="1.02" fill="url(#r69)"/><rect x="480.5" y="254" width="177.5" height="1.02" fill="url(#r70)"/><rect x="480.5" y="255" width="177.5" height="1.02" fill="url(#r71)"/><rect x="480.5" y="256" width="177.5" height="1.02" fill="url(#r72)"/><rect x="480.5" y="257" width="177.5" height="1.02" fill="url(#r73)"/><rect x="480.5" y="258" width="177.5" height="1.02" fill="url(#r74)"/><rect x="480.5" y="259" width="177.5" height="1.02" fill="url(#r75)"/><rect x="480.5" y="260" width="177.5" height="1.02" fill="url(#r76)"/><rect x="480.5" y="261" width="177.5" height="1.02" fill="url(#r77)"/><rect x="480.5" y="262" width="177.5" height="1.02" fill="url(#r78)"/><rect x="480.5" y="263" width="177.5" height="1.02" fill="url(#r79)"/><rect x="480.5" y="264" width="177.5" height="1.02" fill="url(#r80)"/><rect x="480.5" y="265" width="177.5" height="1.02" fill="url(#r81)"/><rect x="480.5" y="266" width="177.5" height="1.02" fill="url(#r82)"/><rect x="480.5" y="267" width="177.5" height="1.02" fill="url(#r83)"/><rect x="480.5" y="268" width="177.5" height="1.02" fill="url(#r84)"/><rect x="480.5" y="269" width="177.5" height="1.02" fill="url(#r85)"/><rect x="480.5" y="270" width="177.5" height="1.02" fill="url(#r86)"/><rect x="480.5" y="271" width="177.5" height="1.02" fill="url(#r87)"/><rect x="480.5" y="272" width="177.5" height="1.02" fill="url(#r88)"/><rect x="480.5" y="273" width="177.5" height="1.02" fill="url(#r89)"/><rect x="480.5" y="274" width="177.5" height="1.02" fill="url(#r90)"/><rect x="480.5" y="275" width="177.5" height="1.02" fill="url(#r91)"/><rect x="480.5" y="276" width="177.5" height="1.02" fill="url(#r92)"/><rect x="480.5" y="277" width="177.5" height="1.02" fill="url(#r93)"/><rect x="480.5" y="278" width="177.5" height="1.02" fill="url(#r94)"/><rect x="480.5" y="279" width="177.5" height="1.02" fill="url(#r95)"/><rect x="480.5" y="280" width="177.5" height="1.02" fill="url(#r96)"/><rect x="480.5" y="281" width="177.5" height="1.02" fill="url(#r97)"/><rect x="480.5" y="282" width="177.5" height="1.02" fill="url(#r98)"/><rect x="480.5" y="283" width="177.5" height="1.02" fill="url(#r99)"/><rect x="480.5" y="284" width="177.5" height="1.02" fill="url(#r100)"/><rect x="480.5" y="285" width="177.5" height="1.02" fill="url(#r101)"/><rect x="480.5" y="286" width="177.5" height="1.02" fill="url(#r102)"/><rect x="480.5" y="287" width="177.5" height="1.02" fill="url(#r103)"/><rect x="480.5" y="288" width="177.5" height="1.02" fill="url(#r104)"/><rect x="480.5" y="289" width="177.5" height="1.02" fill="url(#r105)"/><rect x="480.5" y="290" width="177.5" height="1.02" fill="url(#r106)"/><rect x="480.5" y="291" width="177.5" height="1.02" fill="url(#r107)"/><rect x="480.5" y="292" width="177.5" height="1.02" fill="url(#r108)"/><rect x="480.5" y="293" width="177.5" height="1.02" fill="url(#r109)"/><rect x="480.5" y="294" width="177.5" height="1.02" fill="url(#r110)"/><rect x="480.5" y="295" width="177.5" height="1.02" fill="url(#r111)"/><rect x="480.5" y="296" width="177.5" height="1.02" fill="url(#r112)"/><rect x="480.5" y="297" width="177.5" height="1.02" fill="url(#r113)"/><rect x="480.5" y="298" width="177.5" height="1.02" fill="url(#r114)"/><rect x="480.5" y="299" width="177.5" height="1.02" fill="url(#r115)"/><rect x="480.5" y="300" width="177.5" height="1.02" fill="url(#r116)"/><rect x="480.5" y="301" width="177.5" height="1.02" fill="url(#r117)"/><rect x="480.5" y="302" width="177.5" height="1.02" fill="url(#r118)"/><rect x="480.5" y="303" width="177.5" height="1.02" fill="url(#r119)"/><rect x="480.5" y="304" width="177.5" height="1.02" fill="url(#r120)"/><rect x="480.5" y="305" width="177.5" height="1.02" fill="url(#r121)"/><rect x="480.5" y="306" width="177.5" height="1.02" fill="url(#r122)"/><rect x="480.5" y="307" width="177.5" height="1.02" fill="url(#r123)"/><rect x="480.5" y="308" width="177.5" height="1.02" fill="url(#r124)"/><rect x="480.5" y="309" width="177.5" height="1.02" fill="url(#r125)"/><rect x="480.5" y="310" width="177.5" height="1.02" fill="url(#r126)"/><rect x="480.5" y="311" width="177.5" height="1.02" fill="url(#r127)"/><rect x="480.5" y="312" width="177.5" height="1.02" fill="url(#r128)"/><rect x="480.5" y="313" width="177.5" height="1.02" fill="url(#r129)"/><rect x="480.5" y="314" width="177.5" height="1.02" fill="url(#r130)"/><rect x="480.5" y="315" width="177.5" height="1.02" fill="url(#r131)"/><rect x="480.5" y="316" width="177.5" height="1.02" fill="url(#r132)"/><rect x="480.5" y="317" width="177.5" height="1.02" fill="url(#r133)"/><rect x="480.5" y="318" width="177.5" height="1.02" fill="url(#r134)"/><rect x="480.5" y="319" width="177.5" height="1.02" fill="url(#r135)"/><rect x="480.5" y="320" width="177.5" height="1.02" fill="url(#r136)"/><rect x="480.5" y="321" width="177.5" height="1.02" fill="url(#r137)"/><rect x="480.5" y="322" width="177.5" height="1.02" fill="url(#r138)"/><rect x="480.5" y="323" width="177.5" height="1.02" fill="url(#r139)"/><rect x="480.5" y="324" width="177.5" height="1.02" fill="url(#r140)"/><rect x="480.5" y="325" width="177.5" height="1.02" fill="url(#r141)"/><rect x="480.5" y="184" width="2.4" height="142" fill="url(#lstrip)"/><rect x="480.5" y="184" width="177.5" height="142" fill="none" stroke="#000" stroke-opacity="0.55" stroke-width="0.9"/><text x="477.8" y="302.82" font-size="8.8" text-anchor="end" stroke="#000">200</text><text x="477.8" y="250.26" font-size="8.8" text-anchor="end" stroke="#000">400</text><text x="477.8" y="197.7" font-size="8.8" text-anchor="end" stroke="#000">600</text><text x="481.4" y="336.2" font-size="8.8" text-anchor="middle" stroke="#000">0</text><text x="526.45" y="336.2" font-size="8.8" text-anchor="middle" stroke="#000">5</text><text x="571.5" y="336.2" font-size="8.8" text-anchor="middle" stroke="#000">10</text><text x="616.55" y="336.2" font-size="8.8" text-anchor="middle" stroke="#000">15</text><text x="451.2" y="186" font-size="13.2" font-weight="bold" stroke="#000">f</text><text transform="translate(456.9,255) rotate(-90)" font-size="9.9" text-anchor="middle" stroke="#000">Electric field (kV cm<tspan dy="-3.8" font-size="7">−1</tspan><tspan dy="3.8">)</tspan></text><text x="569.5" y="353" font-size="9.9" text-anchor="middle" stroke="#000"><tspan font-style="italic">t</tspan><tspan dy="2" font-size="6.6">0.9</tspan><tspan dy="-2"> (μs)</tspan></text><rect x="664.2" y="244" width="7.2" height="82" fill="url(#cbF)"/><text x="674.6" y="326.65" font-size="8.8" stroke="#000">0</text><text x="674.6" y="312.87" font-size="8.8" stroke="#000">2</text><text x="674.6" y="299.09" font-size="8.8" stroke="#000">4</text><text x="674.6" y="285.31" font-size="8.8" stroke="#000">6</text><text x="674.6" y="271.53" font-size="8.8" stroke="#000">8</text><text x="674.6" y="257.75" font-size="8.8" stroke="#000">10</text><text transform="translate(670.6,211.8) rotate(-90)" font-size="8.9" text-anchor="middle" stroke="#000"><tspan font-style="italic">W</tspan><tspan dy="2.5" font-size="6.5">d</tspan><tspan dy="-2.5"> (J cm</tspan><tspan dy="-3.8" font-size="7">−3</tspan><tspan dy="3.8">)</tspan></text></svg></body></html>
